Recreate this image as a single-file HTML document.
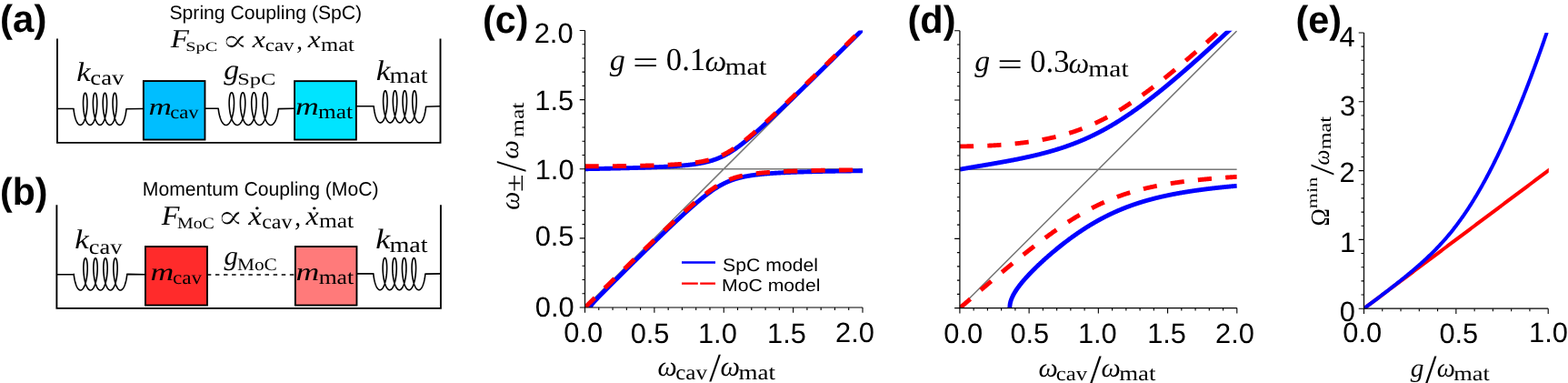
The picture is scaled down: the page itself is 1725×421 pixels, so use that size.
<!DOCTYPE html>
<html><head><meta charset="utf-8"><title>Figure</title>
<style>html,body{margin:0;padding:0;background:#fff;} svg{display:block;}</style>
</head><body><svg width="1725" height="421" viewBox="0 0 1725 421" text-rendering="geometricPrecision"><path d="M63 42.6 L63 156.85 L484.5 156.85 L484.5 42.6" fill="none" stroke="#000" stroke-width="1.9"/><path d="M63 119.5 L81 119.5 L81 119.8 L81.13 121.04 L81.29 122.28 L81.47 123.5 L81.67 124.71 L81.89 125.89 L82.14 127.04 L82.41 128.16 L82.69 129.23 L83 130.26 L83.32 131.23 L83.66 132.15 L84.02 133 L84.4 133.79 L84.78 134.51 L85.18 135.16 L85.59 135.72 L86.01 136.21 L86.44 136.62 L86.88 136.95 L87.32 137.18 L87.77 137.33 L88.21 137.4 L88.66 137.37 L89.1 137.26 L89.55 137.06 L89.99 136.78 L90.42 136.41 L90.84 135.95 L91.26 135.42 L91.66 134.81 L92.06 134.12 L92.44 133.36 L92.8 132.53 L93.15 131.65 L93.48 130.7 L93.8 129.69 L94.09 128.64 L94.37 127.54 L94.62 126.41 L94.85 125.24 L95.07 124.04 L95.26 122.83 L95.42 121.59 L95.57 120.35 L95.69 119.11 L95.78 117.87 L95.86 116.64 L95.91 115.42 L95.94 114.23 L95.95 113.06 L95.94 111.93 L95.9 110.84 L95.85 109.79 L95.78 108.8 L95.69 107.85 L95.58 106.97 L95.46 106.15 L95.32 105.4 L95.17 104.72 L95.01 104.12 L94.84 103.59 L94.65 103.15 L94.46 102.79 L94.27 102.51 L94.07 102.32 L93.87 102.22 L93.67 102.2 L93.46 102.28 L93.26 102.44 L93.07 102.69 L92.87 103.02 L92.69 103.44 L92.51 103.93 L92.35 104.51 L92.19 105.17 L92.05 105.89 L91.92 106.69 L91.81 107.55 L91.72 108.48 L91.64 109.45 L91.58 110.49 L91.54 111.56 L91.52 112.68 L91.52 113.84 L91.54 115.02 L91.59 116.23 L91.65 117.46 L91.75 118.69 L91.86 119.94 L91.99 121.18 L92.15 122.42 L92.33 123.64 L92.54 124.84 L92.76 126.02 L93.01 127.17 L93.28 128.28 L93.57 129.35 L93.88 130.37 L94.2 131.34 L94.55 132.25 L94.91 133.09 L95.28 133.87 L95.67 134.59 L96.07 135.22 L96.48 135.78 L96.91 136.26 L97.34 136.66 L97.77 136.98 L98.21 137.2 L98.66 137.35 L99.11 137.4 L99.55 137.37 L100 137.24 L100.44 137.03 L100.88 136.74 L101.31 136.36 L101.73 135.9 L102.15 135.35 L102.55 134.73 L102.94 134.04 L103.32 133.27 L103.69 132.44 L104.03 131.54 L104.36 130.59 L104.67 129.58 L104.97 128.52 L105.24 127.42 L105.49 126.28 L105.72 125.11 L105.93 123.91 L106.12 122.69 L106.28 121.46 L106.42 120.21 L106.54 118.97 L106.64 117.73 L106.71 116.5 L106.76 115.29 L106.79 114.1 L106.79 112.94 L106.78 111.81 L106.74 110.72 L106.69 109.68 L106.61 108.69 L106.52 107.75 L106.41 106.88 L106.29 106.06 L106.15 105.32 L106 104.65 L105.83 104.06 L105.66 103.54 L105.48 103.1 L105.29 102.75 L105.09 102.49 L104.89 102.31 L104.69 102.21 L104.49 102.21 L104.29 102.29 L104.09 102.46 L103.89 102.72 L103.7 103.06 L103.52 103.49 L103.34 103.99 L103.18 104.58 L103.02 105.24 L102.88 105.98 L102.76 106.78 L102.65 107.65 L102.55 108.58 L102.48 109.57 L102.42 110.6 L102.38 111.69 L102.36 112.81 L102.37 113.97 L102.39 115.16 L102.44 116.37 L102.51 117.59 L102.6 118.83 L102.72 120.08 L102.86 121.32 L103.02 122.55 L103.2 123.77 L103.41 124.98 L103.64 126.15 L103.89 127.29 L104.16 128.4 L104.45 129.46 L104.76 130.48 L105.09 131.44 L105.43 132.34 L105.79 133.18 L106.17 133.96 L106.56 134.66 L106.96 135.29 L107.38 135.84 L107.8 136.31 L108.23 136.7 L108.67 137.01 L109.11 137.22 L109.55 137.36 L110 137.4 L110.45 137.36 L110.89 137.22 L111.33 137.01 L111.77 136.7 L112.2 136.31 L112.62 135.84 L113.04 135.29 L113.44 134.66 L113.83 133.96 L114.21 133.18 L114.57 132.34 L114.91 131.44 L115.24 130.48 L115.55 129.46 L115.84 128.4 L116.11 127.29 L116.36 126.15 L116.59 124.98 L116.8 123.77 L116.98 122.55 L117.14 121.32 L117.28 120.08 L117.4 118.83 L117.49 117.59 L117.56 116.37 L117.61 115.16 L117.63 113.97 L117.64 112.81 L117.62 111.69 L117.58 110.6 L117.52 109.57 L117.45 108.58 L117.35 107.65 L117.24 106.78 L117.12 105.98 L116.98 105.24 L116.82 104.58 L116.66 103.99 L116.48 103.49 L116.3 103.06 L116.11 102.72 L115.91 102.46 L115.71 102.29 L115.51 102.21 L115.31 102.21 L115.11 102.31 L114.91 102.49 L114.71 102.75 L114.52 103.1 L114.34 103.54 L114.17 104.06 L114 104.65 L113.85 105.32 L113.71 106.06 L113.59 106.88 L113.48 107.75 L113.39 108.69 L113.31 109.68 L113.26 110.72 L113.22 111.81 L113.21 112.94 L113.21 114.1 L113.24 115.29 L113.29 116.5 L113.36 117.73 L113.46 118.97 L113.58 120.21 L113.72 121.46 L113.88 122.69 L114.07 123.91 L114.28 125.11 L114.51 126.28 L114.76 127.42 L115.03 128.52 L115.33 129.58 L115.64 130.59 L115.97 131.54 L116.31 132.44 L116.68 133.27 L117.06 134.04 L117.45 134.73 L117.85 135.35 L118.27 135.9 L118.69 136.36 L119.12 136.74 L119.56 137.03 L120 137.24 L120.45 137.37 L120.89 137.4 L121.34 137.35 L121.79 137.2 L122.23 136.98 L122.66 136.66 L123.09 136.26 L123.52 135.78 L123.93 135.22 L124.33 134.59 L124.72 133.87 L125.09 133.09 L125.45 132.25 L125.8 131.34 L126.12 130.37 L126.43 129.35 L126.72 128.28 L126.99 127.17 L127.24 126.02 L127.46 124.84 L127.67 123.64 L127.85 122.42 L128.01 121.18 L128.14 119.94 L128.25 118.69 L128.35 117.46 L128.41 116.23 L128.46 115.02 L128.48 113.84 L128.48 112.68 L128.46 111.56 L128.42 110.49 L128.36 109.45 L128.28 108.48 L128.19 107.55 L128.08 106.69 L127.95 105.89 L127.81 105.17 L127.65 104.51 L127.49 103.93 L127.31 103.44 L127.13 103.02 L126.93 102.69 L126.74 102.44 L126.54 102.28 L126.33 102.2 L126.13 102.22 L125.93 102.32 L125.73 102.51 L125.54 102.79 L125.35 103.15 L125.16 103.59 L124.99 104.12 L124.83 104.72 L124.68 105.4 L124.54 106.15 L124.42 106.97 L124.31 107.85 L124.22 108.8 L124.15 109.79 L124.1 110.84 L124.06 111.93 L124.05 113.06 L124.06 114.23 L124.09 115.42 L124.14 116.64 L124.22 117.87 L124.31 119.11 L124.43 120.35 L124.58 121.59 L124.74 122.83 L124.93 124.04 L125.15 125.24 L125.38 126.41 L125.63 127.54 L125.91 128.64 L126.2 129.69 L126.52 130.7 L126.85 131.65 L127.2 132.53 L127.56 133.36 L127.94 134.12 L128.34 134.81 L128.74 135.42 L129.16 135.95 L129.58 136.41 L130.01 136.78 L130.45 137.06 L130.9 137.26 L131.34 137.37 L131.79 137.4 L132.23 137.33 L132.68 137.18 L133.12 136.95 L133.56 136.62 L133.99 136.21 L134.41 135.72 L134.82 135.16 L135.22 134.51 L135.6 133.79 L135.98 133 L136.34 132.15 L136.68 131.23 L137 130.26 L137.31 129.23 L137.59 128.16 L137.86 127.04 L138.11 125.89 L138.33 124.71 L138.53 123.5 L138.71 122.28 L138.87 121.04 L139 119.8 L157 119.5" fill="none" stroke="#000" stroke-width="1.6" stroke-linejoin="round"/><path d="M226 119.2 L240.2 119.2 L240.2 119.6 L240.35 120.86 L240.53 122.12 L240.74 123.37 L240.97 124.59 L241.23 125.8 L241.51 126.97 L241.82 128.1 L242.15 129.19 L242.5 130.23 L242.88 131.23 L243.27 132.16 L243.69 133.03 L244.12 133.83 L244.57 134.56 L245.04 135.22 L245.51 135.8 L246 136.29 L246.5 136.71 L247.01 137.04 L247.52 137.28 L248.04 137.43 L248.56 137.5 L249.08 137.47 L249.59 137.36 L250.11 137.16 L250.62 136.87 L251.12 136.49 L251.62 136.03 L252.1 135.48 L252.57 134.86 L253.03 134.16 L253.47 133.39 L253.89 132.55 L254.29 131.65 L254.68 130.68 L255.04 129.66 L255.38 128.59 L255.7 127.47 L256 126.32 L256.27 125.13 L256.51 123.92 L256.73 122.68 L256.92 121.42 L257.08 120.16 L257.22 118.9 L257.33 117.64 L257.41 116.38 L257.47 115.15 L257.5 113.94 L257.5 112.75 L257.48 111.6 L257.44 110.49 L257.37 109.42 L257.28 108.41 L257.17 107.45 L257.04 106.55 L256.89 105.72 L256.72 104.96 L256.54 104.26 L256.35 103.65 L256.14 103.12 L255.92 102.67 L255.69 102.3 L255.46 102.02 L255.22 101.82 L254.98 101.72 L254.74 101.7 L254.49 101.78 L254.25 101.94 L254.02 102.19 L253.79 102.53 L253.57 102.96 L253.35 103.46 L253.16 104.05 L252.97 104.72 L252.8 105.46 L252.64 106.27 L252.51 107.14 L252.39 108.08 L252.29 109.08 L252.22 110.13 L252.16 111.22 L252.14 112.36 L252.13 113.54 L252.15 114.74 L252.2 115.97 L252.28 117.22 L252.38 118.48 L252.5 119.74 L252.66 121 L252.84 122.26 L253.05 123.5 L253.28 124.73 L253.54 125.93 L253.83 127.09 L254.14 128.22 L254.47 129.31 L254.83 130.35 L255.21 131.33 L255.61 132.26 L256.02 133.12 L256.46 133.91 L256.91 134.64 L257.38 135.29 L257.86 135.86 L258.35 136.34 L258.85 136.75 L259.35 137.07 L259.87 137.3 L260.38 137.44 L260.9 137.5 L261.42 137.46 L261.94 137.34 L262.46 137.13 L262.96 136.83 L263.47 136.44 L263.96 135.97 L264.44 135.42 L264.91 134.79 L265.36 134.08 L265.8 133.3 L266.22 132.45 L266.63 131.54 L267.01 130.57 L267.37 129.54 L267.71 128.47 L268.03 127.35 L268.32 126.19 L268.58 125 L268.82 123.78 L269.04 122.54 L269.23 121.28 L269.39 120.02 L269.52 118.76 L269.63 117.5 L269.71 116.25 L269.76 115.01 L269.79 113.8 L269.79 112.62 L269.77 111.47 L269.72 110.37 L269.65 109.31 L269.56 108.3 L269.44 107.35 L269.31 106.46 L269.16 105.63 L268.99 104.87 L268.81 104.19 L268.61 103.59 L268.4 103.06 L268.18 102.62 L267.96 102.26 L267.72 101.99 L267.48 101.81 L267.24 101.71 L267 101.71 L266.75 101.79 L266.52 101.97 L266.28 102.23 L266.05 102.58 L265.83 103.01 L265.62 103.53 L265.42 104.12 L265.24 104.8 L265.07 105.54 L264.92 106.36 L264.78 107.24 L264.67 108.19 L264.57 109.19 L264.5 110.25 L264.45 111.35 L264.42 112.49 L264.42 113.67 L264.45 114.88 L264.5 116.11 L264.57 117.36 L264.68 118.62 L264.81 119.88 L264.97 121.14 L265.15 122.4 L265.36 123.64 L265.6 124.86 L265.86 126.06 L266.15 127.22 L266.46 128.35 L266.8 129.43 L267.16 130.46 L267.54 131.44 L267.94 132.36 L268.36 133.21 L268.8 134 L269.25 134.71 L269.72 135.35 L270.2 135.91 L270.69 136.39 L271.19 136.79 L271.7 137.1 L272.21 137.32 L272.73 137.46 L273.25 137.5 L273.77 137.46 L274.29 137.32 L274.8 137.1 L275.31 136.79 L275.81 136.39 L276.3 135.91 L276.78 135.35 L277.25 134.71 L277.7 134 L278.14 133.21 L278.56 132.36 L278.96 131.44 L279.34 130.46 L279.7 129.43 L280.04 128.35 L280.35 127.22 L280.64 126.06 L280.9 124.86 L281.14 123.64 L281.35 122.4 L281.53 121.14 L281.69 119.88 L281.82 118.62 L281.93 117.36 L282 116.11 L282.05 114.88 L282.08 113.67 L282.08 112.49 L282.05 111.35 L282 110.25 L281.93 109.19 L281.83 108.19 L281.72 107.24 L281.58 106.36 L281.43 105.54 L281.26 104.8 L281.08 104.12 L280.88 103.53 L280.67 103.01 L280.45 102.58 L280.22 102.23 L279.98 101.97 L279.75 101.79 L279.5 101.71 L279.26 101.71 L279.02 101.81 L278.78 101.99 L278.54 102.26 L278.32 102.62 L278.1 103.06 L277.89 103.59 L277.69 104.19 L277.51 104.87 L277.34 105.63 L277.19 106.46 L277.06 107.35 L276.94 108.3 L276.85 109.31 L276.78 110.37 L276.73 111.47 L276.71 112.62 L276.71 113.8 L276.74 115.01 L276.79 116.25 L276.87 117.5 L276.98 118.76 L277.11 120.02 L277.27 121.28 L277.46 122.54 L277.68 123.78 L277.92 125 L278.18 126.19 L278.47 127.35 L278.79 128.47 L279.13 129.54 L279.49 130.57 L279.87 131.54 L280.28 132.45 L280.7 133.3 L281.14 134.08 L281.59 134.79 L282.06 135.42 L282.54 135.97 L283.03 136.44 L283.54 136.83 L284.04 137.13 L284.56 137.34 L285.08 137.46 L285.6 137.5 L286.12 137.44 L286.63 137.3 L287.15 137.07 L287.65 136.75 L288.15 136.34 L288.64 135.86 L289.12 135.29 L289.59 134.64 L290.04 133.91 L290.48 133.12 L290.89 132.26 L291.29 131.33 L291.67 130.35 L292.03 129.31 L292.36 128.22 L292.67 127.09 L292.96 125.93 L293.22 124.73 L293.45 123.5 L293.66 122.26 L293.84 121 L294 119.74 L294.12 118.48 L294.22 117.22 L294.3 115.97 L294.35 114.74 L294.37 113.54 L294.36 112.36 L294.34 111.22 L294.28 110.13 L294.21 109.08 L294.11 108.08 L293.99 107.14 L293.86 106.27 L293.7 105.46 L293.53 104.72 L293.34 104.05 L293.15 103.46 L292.93 102.96 L292.71 102.53 L292.48 102.19 L292.25 101.94 L292.01 101.78 L291.76 101.7 L291.52 101.72 L291.28 101.82 L291.04 102.02 L290.81 102.3 L290.58 102.67 L290.36 103.12 L290.15 103.65 L289.96 104.26 L289.78 104.96 L289.61 105.72 L289.46 106.55 L289.33 107.45 L289.22 108.41 L289.13 109.42 L289.06 110.49 L289.02 111.6 L289 112.75 L289 113.94 L289.03 115.15 L289.09 116.38 L289.17 117.64 L289.28 118.9 L289.42 120.16 L289.58 121.42 L289.77 122.68 L289.99 123.92 L290.23 125.13 L290.5 126.32 L290.8 127.47 L291.12 128.59 L291.46 129.66 L291.82 130.68 L292.21 131.65 L292.61 132.55 L293.03 133.39 L293.47 134.16 L293.93 134.86 L294.4 135.48 L294.88 136.03 L295.38 136.49 L295.88 136.87 L296.39 137.16 L296.91 137.36 L297.42 137.47 L297.94 137.5 L298.46 137.43 L298.98 137.28 L299.49 137.04 L300 136.71 L300.5 136.29 L300.99 135.8 L301.46 135.22 L301.93 134.56 L302.38 133.83 L302.81 133.03 L303.23 132.16 L303.62 131.23 L304 130.23 L304.35 129.19 L304.68 128.1 L304.99 126.97 L305.27 125.8 L305.53 124.59 L305.76 123.37 L305.97 122.12 L306.15 120.86 L306.3 119.6 L324 119.2" fill="none" stroke="#000" stroke-width="1.6" stroke-linejoin="round"/><path d="M392 116.8 L411.2 116.8 L411.2 117.3 L411.33 118.54 L411.49 119.78 L411.66 121 L411.86 122.21 L412.09 123.39 L412.33 124.54 L412.6 125.66 L412.88 126.73 L413.18 127.76 L413.51 128.73 L413.85 129.65 L414.2 130.5 L414.58 131.29 L414.96 132.01 L415.36 132.66 L415.77 133.22 L416.19 133.71 L416.62 134.12 L417.05 134.45 L417.49 134.68 L417.93 134.83 L418.38 134.9 L418.82 134.87 L419.27 134.76 L419.71 134.56 L420.15 134.28 L420.58 133.91 L421 133.45 L421.41 132.92 L421.82 132.31 L422.21 131.62 L422.59 130.86 L422.95 130.03 L423.3 129.15 L423.63 128.2 L423.94 127.19 L424.24 126.14 L424.51 125.04 L424.76 123.91 L424.99 122.74 L425.2 121.54 L425.39 120.33 L425.56 119.09 L425.7 117.85 L425.82 116.61 L425.92 115.37 L425.99 114.14 L426.04 112.92 L426.07 111.73 L426.07 110.56 L426.06 109.43 L426.03 108.34 L425.97 107.29 L425.9 106.3 L425.81 105.35 L425.7 104.47 L425.57 103.65 L425.43 102.9 L425.28 102.22 L425.12 101.62 L424.94 101.09 L424.76 100.65 L424.57 100.29 L424.37 100.01 L424.17 99.82 L423.97 99.72 L423.77 99.7 L423.56 99.78 L423.36 99.94 L423.16 100.19 L422.97 100.52 L422.78 100.94 L422.61 101.43 L422.44 102.01 L422.28 102.67 L422.14 103.39 L422.01 104.19 L421.9 105.05 L421.8 105.98 L421.72 106.95 L421.66 107.99 L421.62 109.06 L421.59 110.18 L421.59 111.34 L421.62 112.52 L421.66 113.73 L421.72 114.96 L421.81 116.19 L421.92 117.44 L422.06 118.68 L422.22 119.92 L422.4 121.14 L422.6 122.34 L422.82 123.52 L423.07 124.67 L423.34 125.78 L423.62 126.85 L423.93 127.87 L424.26 128.84 L424.6 129.75 L424.96 130.59 L425.33 131.37 L425.72 132.09 L426.12 132.72 L426.53 133.28 L426.95 133.76 L427.38 134.16 L427.81 134.48 L428.25 134.7 L428.69 134.85 L429.14 134.9 L429.58 134.87 L430.03 134.74 L430.47 134.53 L430.91 134.24 L431.34 133.86 L431.76 133.4 L432.17 132.85 L432.57 132.23 L432.96 131.54 L433.34 130.77 L433.7 129.94 L434.05 129.04 L434.38 128.09 L434.69 127.08 L434.98 126.02 L435.25 124.92 L435.5 123.78 L435.73 122.61 L435.94 121.41 L436.12 120.19 L436.29 118.96 L436.43 117.71 L436.54 116.47 L436.64 115.23 L436.71 114 L436.75 112.79 L436.78 111.6 L436.79 110.44 L436.77 109.31 L436.73 108.22 L436.67 107.18 L436.6 106.19 L436.51 105.25 L436.39 104.38 L436.27 103.56 L436.13 102.82 L435.98 102.15 L435.81 101.56 L435.64 101.04 L435.45 100.6 L435.26 100.25 L435.06 99.99 L434.86 99.81 L434.66 99.71 L434.45 99.71 L434.25 99.79 L434.05 99.96 L433.85 100.22 L433.66 100.56 L433.47 100.99 L433.3 101.49 L433.13 102.08 L432.98 102.74 L432.83 103.48 L432.71 104.28 L432.6 105.15 L432.5 106.08 L432.42 107.07 L432.36 108.1 L432.32 109.19 L432.3 110.31 L432.31 111.47 L432.33 112.66 L432.38 113.87 L432.44 115.09 L432.54 116.33 L432.65 117.58 L432.79 118.82 L432.95 120.05 L433.13 121.27 L433.33 122.48 L433.56 123.65 L433.81 124.79 L434.08 125.9 L434.37 126.96 L434.68 127.98 L435 128.94 L435.35 129.84 L435.71 130.68 L436.08 131.46 L436.47 132.16 L436.87 132.79 L437.28 133.34 L437.71 133.81 L438.13 134.2 L438.57 134.51 L439.01 134.72 L439.45 134.86 L439.9 134.9 L440.35 134.86 L440.79 134.72 L441.23 134.51 L441.67 134.2 L442.09 133.81 L442.52 133.34 L442.93 132.79 L443.33 132.16 L443.72 131.46 L444.09 130.68 L444.45 129.84 L444.8 128.94 L445.12 127.98 L445.43 126.96 L445.72 125.9 L445.99 124.79 L446.24 123.65 L446.47 122.48 L446.67 121.27 L446.85 120.05 L447.01 118.82 L447.15 117.58 L447.26 116.33 L447.36 115.09 L447.42 113.87 L447.47 112.66 L447.49 111.47 L447.5 110.31 L447.48 109.19 L447.44 108.1 L447.38 107.07 L447.3 106.08 L447.2 105.15 L447.09 104.28 L446.97 103.48 L446.82 102.74 L446.67 102.08 L446.5 101.49 L446.33 100.99 L446.14 100.56 L445.95 100.22 L445.75 99.96 L445.55 99.79 L445.35 99.71 L445.14 99.71 L444.94 99.81 L444.74 99.99 L444.54 100.25 L444.35 100.6 L444.16 101.04 L443.99 101.56 L443.82 102.15 L443.67 102.82 L443.53 103.56 L443.41 104.38 L443.29 105.25 L443.2 106.19 L443.13 107.18 L443.07 108.22 L443.03 109.31 L443.01 110.44 L443.02 111.6 L443.05 112.79 L443.09 114 L443.16 115.23 L443.26 116.47 L443.37 117.71 L443.51 118.96 L443.68 120.19 L443.86 121.41 L444.07 122.61 L444.3 123.78 L444.55 124.92 L444.82 126.02 L445.11 127.08 L445.42 128.09 L445.75 129.04 L446.1 129.94 L446.46 130.77 L446.84 131.54 L447.23 132.23 L447.63 132.85 L448.04 133.4 L448.46 133.86 L448.89 134.24 L449.33 134.53 L449.77 134.74 L450.22 134.87 L450.66 134.9 L451.11 134.85 L451.55 134.7 L451.99 134.48 L452.42 134.16 L452.85 133.76 L453.27 133.28 L453.68 132.72 L454.08 132.09 L454.47 131.37 L454.84 130.59 L455.2 129.75 L455.54 128.84 L455.87 127.87 L456.18 126.85 L456.46 125.78 L456.73 124.67 L456.98 123.52 L457.2 122.34 L457.4 121.14 L457.58 119.92 L457.74 118.68 L457.88 117.44 L457.99 116.19 L458.08 114.96 L458.14 113.73 L458.18 112.52 L458.21 111.34 L458.21 110.18 L458.18 109.06 L458.14 107.99 L458.08 106.95 L458 105.98 L457.9 105.05 L457.79 104.19 L457.66 103.39 L457.52 102.67 L457.36 102.01 L457.19 101.43 L457.02 100.94 L456.83 100.52 L456.64 100.19 L456.44 99.94 L456.24 99.78 L456.03 99.7 L455.83 99.72 L455.63 99.82 L455.43 100.01 L455.23 100.29 L455.04 100.65 L454.86 101.09 L454.68 101.62 L454.52 102.22 L454.37 102.9 L454.23 103.65 L454.1 104.47 L453.99 105.35 L453.9 106.3 L453.83 107.29 L453.77 108.34 L453.74 109.43 L453.73 110.56 L453.73 111.73 L453.76 112.92 L453.81 114.14 L453.88 115.37 L453.98 116.61 L454.1 117.85 L454.24 119.09 L454.41 120.33 L454.6 121.54 L454.81 122.74 L455.04 123.91 L455.29 125.04 L455.56 126.14 L455.86 127.19 L456.17 128.2 L456.5 129.15 L456.85 130.03 L457.21 130.86 L457.59 131.62 L457.98 132.31 L458.39 132.92 L458.8 133.45 L459.22 133.91 L459.65 134.28 L460.09 134.56 L460.53 134.76 L460.98 134.87 L461.42 134.9 L461.87 134.83 L462.31 134.68 L462.75 134.45 L463.18 134.12 L463.61 133.71 L464.03 133.22 L464.44 132.66 L464.84 132.01 L465.22 131.29 L465.6 130.5 L465.95 129.65 L466.29 128.73 L466.62 127.76 L466.92 126.73 L467.2 125.66 L467.47 124.54 L467.71 123.39 L467.94 122.21 L468.14 121 L468.31 119.78 L468.47 118.54 L468.6 117.3 L484.5 116.8" fill="none" stroke="#000" stroke-width="1.6" stroke-linejoin="round"/><rect x="157.85" y="89.05" width="67.6" height="64.5" fill="#00BEFF" stroke="#000" stroke-width="1.9"/><rect x="324.05" y="89.15" width="67.8" height="64.4" fill="#00E4FF" stroke="#000" stroke-width="1.9"/><path d="M62.4 225.2 L62.4 338.85 L484.9 338.85 L484.9 225.2" fill="none" stroke="#000" stroke-width="1.9"/><path d="M62.4 301.8 L81.2 301.8 L81.2 301.4 L81.33 302.64 L81.49 303.88 L81.67 305.1 L81.88 306.31 L82.1 307.49 L82.35 308.64 L82.62 309.76 L82.9 310.83 L83.21 311.86 L83.54 312.83 L83.88 313.75 L84.24 314.6 L84.61 315.39 L85 316.11 L85.4 316.76 L85.82 317.32 L86.24 317.81 L86.67 318.22 L87.11 318.55 L87.55 318.78 L88 318.93 L88.44 319 L88.89 318.97 L89.34 318.86 L89.78 318.66 L90.22 318.38 L90.66 318.01 L91.08 317.55 L91.5 317.02 L91.91 316.41 L92.3 315.72 L92.68 314.96 L93.05 314.13 L93.4 313.25 L93.73 312.3 L94.05 311.29 L94.35 310.24 L94.62 309.14 L94.88 308.01 L95.11 306.84 L95.33 305.64 L95.52 304.43 L95.69 303.19 L95.83 301.95 L95.95 300.71 L96.05 299.47 L96.13 298.24 L96.18 297.02 L96.22 295.83 L96.22 294.66 L96.21 293.53 L96.18 292.44 L96.13 291.39 L96.06 290.4 L95.97 289.45 L95.86 288.57 L95.74 287.75 L95.61 287 L95.46 286.32 L95.3 285.72 L95.13 285.19 L94.95 284.75 L94.76 284.39 L94.57 284.11 L94.37 283.92 L94.17 283.82 L93.97 283.8 L93.77 283.88 L93.57 284.04 L93.37 284.29 L93.18 284.62 L93 285.04 L92.82 285.53 L92.66 286.11 L92.51 286.77 L92.37 287.49 L92.24 288.29 L92.13 289.15 L92.04 290.08 L91.96 291.05 L91.9 292.09 L91.86 293.16 L91.84 294.28 L91.85 295.44 L91.87 296.62 L91.92 297.83 L91.99 299.06 L92.08 300.29 L92.19 301.54 L92.33 302.78 L92.49 304.02 L92.67 305.24 L92.88 306.44 L93.11 307.62 L93.36 308.77 L93.62 309.88 L93.92 310.95 L94.22 311.97 L94.55 312.94 L94.9 313.85 L95.26 314.69 L95.64 315.47 L96.03 316.19 L96.43 316.82 L96.84 317.38 L97.27 317.86 L97.7 318.26 L98.13 318.58 L98.58 318.8 L99.02 318.95 L99.47 319 L99.92 318.97 L100.37 318.84 L100.81 318.63 L101.25 318.34 L101.68 317.96 L102.11 317.5 L102.53 316.95 L102.93 316.33 L103.32 315.64 L103.7 314.87 L104.07 314.04 L104.42 313.14 L104.75 312.19 L105.06 311.18 L105.36 310.12 L105.63 309.02 L105.88 307.88 L106.12 306.71 L106.33 305.51 L106.52 304.29 L106.68 303.06 L106.82 301.81 L106.94 300.57 L107.04 299.33 L107.11 298.1 L107.17 296.89 L107.19 295.7 L107.2 294.54 L107.19 293.41 L107.15 292.32 L107.1 291.28 L107.03 290.29 L106.94 289.35 L106.83 288.48 L106.71 287.66 L106.57 286.92 L106.42 286.25 L106.26 285.66 L106.09 285.14 L105.9 284.7 L105.72 284.35 L105.52 284.09 L105.32 283.91 L105.12 283.81 L104.92 283.81 L104.72 283.89 L104.52 284.06 L104.33 284.32 L104.14 284.66 L103.96 285.09 L103.78 285.59 L103.62 286.18 L103.47 286.84 L103.33 287.58 L103.21 288.38 L103.1 289.25 L103 290.18 L102.93 291.17 L102.87 292.2 L102.84 293.29 L102.82 294.41 L102.83 295.57 L102.85 296.76 L102.9 297.97 L102.97 299.19 L103.07 300.43 L103.18 301.68 L103.32 302.92 L103.49 304.15 L103.67 305.37 L103.88 306.58 L104.11 307.75 L104.36 308.89 L104.63 310 L104.93 311.06 L105.24 312.08 L105.57 313.04 L105.91 313.94 L106.28 314.78 L106.66 315.56 L107.05 316.26 L107.45 316.89 L107.87 317.44 L108.29 317.91 L108.72 318.3 L109.16 318.61 L109.6 318.82 L110.05 318.96 L110.5 319 L110.95 318.96 L111.4 318.82 L111.84 318.61 L112.28 318.3 L112.71 317.91 L113.13 317.44 L113.55 316.89 L113.95 316.26 L114.34 315.56 L114.72 314.78 L115.09 313.94 L115.43 313.04 L115.76 312.08 L116.07 311.06 L116.37 310 L116.64 308.89 L116.89 307.75 L117.12 306.58 L117.33 305.37 L117.51 304.15 L117.68 302.92 L117.82 301.68 L117.93 300.43 L118.03 299.19 L118.1 297.97 L118.15 296.76 L118.17 295.57 L118.18 294.41 L118.16 293.29 L118.13 292.2 L118.07 291.17 L118 290.18 L117.9 289.25 L117.79 288.38 L117.67 287.58 L117.53 286.84 L117.38 286.18 L117.22 285.59 L117.04 285.09 L116.86 284.66 L116.67 284.32 L116.48 284.06 L116.28 283.89 L116.08 283.81 L115.88 283.81 L115.68 283.91 L115.48 284.09 L115.28 284.35 L115.1 284.7 L114.91 285.14 L114.74 285.66 L114.58 286.25 L114.43 286.92 L114.29 287.66 L114.17 288.48 L114.06 289.35 L113.97 290.29 L113.9 291.28 L113.85 292.32 L113.81 293.41 L113.8 294.54 L113.81 295.7 L113.83 296.89 L113.89 298.1 L113.96 299.33 L114.06 300.57 L114.18 301.81 L114.32 303.06 L114.48 304.29 L114.67 305.51 L114.88 306.71 L115.12 307.88 L115.37 309.02 L115.64 310.12 L115.94 311.18 L116.25 312.19 L116.58 313.14 L116.93 314.04 L117.3 314.87 L117.68 315.64 L118.07 316.33 L118.47 316.95 L118.89 317.5 L119.32 317.96 L119.75 318.34 L120.19 318.63 L120.63 318.84 L121.08 318.97 L121.53 319 L121.98 318.95 L122.42 318.8 L122.87 318.58 L123.3 318.26 L123.73 317.86 L124.16 317.38 L124.57 316.82 L124.97 316.19 L125.36 315.47 L125.74 314.69 L126.1 313.85 L126.45 312.94 L126.78 311.97 L127.08 310.95 L127.38 309.88 L127.64 308.77 L127.89 307.62 L128.12 306.44 L128.33 305.24 L128.51 304.02 L128.67 302.78 L128.81 301.54 L128.92 300.29 L129.01 299.06 L129.08 297.83 L129.13 296.62 L129.15 295.44 L129.16 294.28 L129.14 293.16 L129.1 292.09 L129.04 291.05 L128.96 290.08 L128.87 289.15 L128.76 288.29 L128.63 287.49 L128.49 286.77 L128.34 286.11 L128.18 285.53 L128 285.04 L127.82 284.62 L127.63 284.29 L127.43 284.04 L127.23 283.88 L127.03 283.8 L126.83 283.82 L126.63 283.92 L126.43 284.11 L126.24 284.39 L126.05 284.75 L125.87 285.19 L125.7 285.72 L125.54 286.32 L125.39 287 L125.26 287.75 L125.14 288.57 L125.03 289.45 L124.94 290.4 L124.87 291.39 L124.82 292.44 L124.79 293.53 L124.78 294.66 L124.78 295.83 L124.82 297.02 L124.87 298.24 L124.95 299.47 L125.05 300.71 L125.17 301.95 L125.31 303.19 L125.48 304.43 L125.67 305.64 L125.89 306.84 L126.12 308.01 L126.38 309.14 L126.65 310.24 L126.95 311.29 L127.27 312.3 L127.6 313.25 L127.95 314.13 L128.32 314.96 L128.7 315.72 L129.09 316.41 L129.5 317.02 L129.92 317.55 L130.34 318.01 L130.78 318.38 L131.22 318.66 L131.66 318.86 L132.11 318.97 L132.56 319 L133 318.93 L133.45 318.78 L133.89 318.55 L134.33 318.22 L134.76 317.81 L135.18 317.32 L135.6 316.76 L136 316.11 L136.39 315.39 L136.76 314.6 L137.12 313.75 L137.46 312.83 L137.79 311.86 L138.1 310.83 L138.38 309.76 L138.65 308.64 L138.9 307.49 L139.12 306.31 L139.33 305.1 L139.51 303.88 L139.67 302.64 L139.8 301.4 L160 301.8" fill="none" stroke="#000" stroke-width="1.6" stroke-linejoin="round"/><path d="M392 300.9 L410.8 300.9 L410.8 301.1 L410.93 302.34 L411.09 303.58 L411.26 304.8 L411.46 306.01 L411.68 307.19 L411.93 308.34 L412.19 309.46 L412.47 310.53 L412.78 311.56 L413.1 312.53 L413.44 313.45 L413.79 314.3 L414.17 315.09 L414.55 315.81 L414.95 316.46 L415.36 317.02 L415.78 317.51 L416.2 317.92 L416.64 318.25 L417.08 318.48 L417.52 318.63 L417.96 318.7 L418.41 318.67 L418.85 318.56 L419.29 318.36 L419.73 318.08 L420.16 317.71 L420.58 317.25 L420.99 316.72 L421.4 316.11 L421.79 315.42 L422.16 314.66 L422.53 313.83 L422.87 312.95 L423.2 312 L423.52 310.99 L423.81 309.94 L424.08 308.84 L424.33 307.71 L424.56 306.54 L424.77 305.34 L424.96 304.13 L425.13 302.89 L425.27 301.65 L425.39 300.41 L425.48 299.17 L425.55 297.94 L425.6 296.72 L425.63 295.53 L425.64 294.36 L425.62 293.23 L425.59 292.14 L425.53 291.09 L425.46 290.1 L425.36 289.15 L425.25 288.27 L425.13 287.45 L424.99 286.7 L424.84 286.02 L424.67 285.42 L424.5 284.89 L424.31 284.45 L424.12 284.09 L423.93 283.81 L423.72 283.62 L423.52 283.52 L423.31 283.5 L423.11 283.58 L422.91 283.74 L422.71 283.99 L422.52 284.32 L422.33 284.74 L422.15 285.23 L421.98 285.81 L421.83 286.47 L421.68 287.19 L421.55 287.99 L421.44 288.85 L421.34 289.78 L421.26 290.75 L421.2 291.79 L421.15 292.86 L421.13 293.98 L421.13 295.14 L421.15 296.32 L421.19 297.53 L421.26 298.76 L421.35 299.99 L421.46 301.24 L421.59 302.48 L421.75 303.72 L421.93 304.94 L422.13 306.14 L422.35 307.32 L422.6 308.47 L422.86 309.58 L423.15 310.65 L423.46 311.67 L423.78 312.64 L424.12 313.55 L424.48 314.39 L424.85 315.17 L425.24 315.89 L425.64 316.52 L426.05 317.08 L426.47 317.56 L426.9 317.96 L427.33 318.28 L427.77 318.5 L428.21 318.65 L428.66 318.7 L429.1 318.67 L429.54 318.54 L429.98 318.33 L430.42 318.04 L430.85 317.66 L431.27 317.2 L431.68 316.65 L432.08 316.03 L432.47 315.34 L432.85 314.57 L433.21 313.74 L433.56 312.84 L433.88 311.89 L434.19 310.88 L434.48 309.82 L434.75 308.72 L435 307.58 L435.23 306.41 L435.44 305.21 L435.62 303.99 L435.79 302.76 L435.93 301.51 L436.04 300.27 L436.13 299.03 L436.2 297.8 L436.25 296.59 L436.28 295.4 L436.28 294.24 L436.26 293.11 L436.23 292.02 L436.17 290.98 L436.09 289.99 L436 289.05 L435.89 288.18 L435.76 287.36 L435.62 286.62 L435.46 285.95 L435.3 285.36 L435.12 284.84 L434.94 284.4 L434.75 284.05 L434.55 283.79 L434.35 283.61 L434.14 283.51 L433.94 283.51 L433.73 283.59 L433.53 283.76 L433.33 284.02 L433.14 284.36 L432.95 284.79 L432.78 285.29 L432.61 285.88 L432.45 286.54 L432.31 287.28 L432.18 288.08 L432.07 288.95 L431.97 289.88 L431.9 290.87 L431.84 291.9 L431.8 292.99 L431.78 294.11 L431.78 295.27 L431.8 296.46 L431.84 297.67 L431.91 298.89 L432 300.13 L432.12 301.38 L432.25 302.62 L432.41 303.85 L432.59 305.07 L432.8 306.28 L433.02 307.45 L433.27 308.59 L433.54 309.7 L433.83 310.76 L434.14 311.78 L434.46 312.74 L434.81 313.64 L435.17 314.48 L435.54 315.26 L435.93 315.96 L436.33 316.59 L436.74 317.14 L437.16 317.61 L437.59 318 L438.02 318.31 L438.46 318.52 L438.91 318.66 L439.35 318.7 L439.79 318.66 L440.24 318.52 L440.68 318.31 L441.11 318 L441.54 317.61 L441.96 317.14 L442.37 316.59 L442.77 315.96 L443.16 315.26 L443.53 314.48 L443.89 313.64 L444.24 312.74 L444.56 311.78 L444.87 310.76 L445.16 309.7 L445.43 308.59 L445.68 307.45 L445.9 306.28 L446.11 305.07 L446.29 303.85 L446.45 302.62 L446.58 301.38 L446.7 300.13 L446.79 298.89 L446.86 297.67 L446.9 296.46 L446.92 295.27 L446.92 294.11 L446.9 292.99 L446.86 291.9 L446.8 290.87 L446.73 289.88 L446.63 288.95 L446.52 288.08 L446.39 287.28 L446.25 286.54 L446.09 285.88 L445.92 285.29 L445.75 284.79 L445.56 284.36 L445.37 284.02 L445.17 283.76 L444.97 283.59 L444.76 283.51 L444.56 283.51 L444.35 283.61 L444.15 283.79 L443.95 284.05 L443.76 284.4 L443.58 284.84 L443.4 285.36 L443.24 285.95 L443.08 286.62 L442.94 287.36 L442.81 288.18 L442.7 289.05 L442.61 289.99 L442.53 290.98 L442.47 292.02 L442.44 293.11 L442.42 294.24 L442.42 295.4 L442.45 296.59 L442.5 297.8 L442.57 299.03 L442.66 300.27 L442.77 301.51 L442.91 302.76 L443.08 303.99 L443.26 305.21 L443.47 306.41 L443.7 307.58 L443.95 308.72 L444.22 309.82 L444.51 310.88 L444.82 311.89 L445.14 312.84 L445.49 313.74 L445.85 314.57 L446.23 315.34 L446.62 316.03 L447.02 316.65 L447.43 317.2 L447.85 317.66 L448.28 318.04 L448.72 318.33 L449.16 318.54 L449.6 318.67 L450.04 318.7 L450.49 318.65 L450.93 318.5 L451.37 318.28 L451.8 317.96 L452.23 317.56 L452.65 317.08 L453.06 316.52 L453.46 315.89 L453.85 315.17 L454.22 314.39 L454.58 313.55 L454.92 312.64 L455.24 311.67 L455.55 310.65 L455.84 309.58 L456.1 308.47 L456.35 307.32 L456.57 306.14 L456.77 304.94 L456.95 303.72 L457.11 302.48 L457.24 301.24 L457.35 299.99 L457.44 298.76 L457.51 297.53 L457.55 296.32 L457.57 295.14 L457.57 293.98 L457.55 292.86 L457.5 291.79 L457.44 290.75 L457.36 289.78 L457.26 288.85 L457.15 287.99 L457.02 287.19 L456.87 286.47 L456.72 285.81 L456.55 285.23 L456.37 284.74 L456.18 284.32 L455.99 283.99 L455.79 283.74 L455.59 283.58 L455.39 283.5 L455.18 283.52 L454.98 283.62 L454.77 283.81 L454.58 284.09 L454.39 284.45 L454.2 284.89 L454.03 285.42 L453.86 286.02 L453.71 286.7 L453.57 287.45 L453.45 288.27 L453.34 289.15 L453.24 290.1 L453.17 291.09 L453.11 292.14 L453.08 293.23 L453.06 294.36 L453.07 295.53 L453.1 296.72 L453.15 297.94 L453.22 299.17 L453.31 300.41 L453.43 301.65 L453.57 302.89 L453.74 304.13 L453.93 305.34 L454.14 306.54 L454.37 307.71 L454.62 308.84 L454.89 309.94 L455.18 310.99 L455.5 312 L455.83 312.95 L456.17 313.83 L456.54 314.66 L456.91 315.42 L457.3 316.11 L457.71 316.72 L458.12 317.25 L458.54 317.71 L458.97 318.08 L459.41 318.36 L459.85 318.56 L460.29 318.67 L460.74 318.7 L461.18 318.63 L461.62 318.48 L462.06 318.25 L462.5 317.92 L462.92 317.51 L463.34 317.02 L463.75 316.46 L464.15 315.81 L464.53 315.09 L464.91 314.3 L465.26 313.45 L465.6 312.53 L465.92 311.56 L466.23 310.53 L466.51 309.46 L466.77 308.34 L467.02 307.19 L467.24 306.01 L467.44 304.8 L467.61 303.58 L467.77 302.34 L467.9 301.1 L484.9 300.9" fill="none" stroke="#000" stroke-width="1.6" stroke-linejoin="round"/><path d="M227.8 302 L324 302" stroke="#000" stroke-width="1.7" stroke-dasharray="4.5 4.6"/><rect x="159.95" y="271.05" width="68" height="64.5" fill="#FF2B2B" stroke="#000" stroke-width="1.9"/><rect x="324.85" y="271.05" width="67.6" height="64.5" fill="#FF7A7A" stroke="#000" stroke-width="1.9"/><clipPath id="clipc"><rect x="643.5" y="33.5" width="305.5" height="304.5"/></clipPath><g clip-path="url(#clipc)"><path d="M643.5 185.75 L949 185.75 M643.5 338 L949 33.5" stroke="#787878" stroke-width="1.5" fill="none"/><path d="M643.50 185.75 L643.88 185.74 L644.26 185.73 L644.65 185.73 L645.03 185.72 L645.41 185.71 L645.79 185.70 L646.17 185.70 L646.55 185.69 L646.94 185.68 L647.32 185.67 L647.70 185.67 L648.08 185.66 L648.46 185.65 L648.85 185.64 L649.23 185.64 L649.61 185.63 L649.99 185.62 L650.37 185.61 L650.76 185.61 L651.14 185.60 L651.52 185.59 L651.90 185.58 L652.28 185.57 L652.66 185.57 L653.05 185.56 L653.43 185.55 L653.81 185.54 L654.19 185.54 L654.57 185.53 L654.96 185.52 L655.34 185.51 L655.72 185.51 L656.10 185.50 L656.48 185.49 L656.87 185.48 L657.25 185.47 L657.63 185.47 L658.01 185.46 L658.39 185.45 L658.77 185.44 L659.16 185.44 L659.54 185.43 L659.92 185.42 L660.30 185.41 L660.68 185.41 L661.07 185.40 L661.45 185.39 L661.83 185.38 L662.21 185.37 L662.59 185.37 L662.98 185.36 L663.36 185.35 L663.74 185.34 L664.12 185.33 L664.50 185.33 L664.88 185.32 L665.27 185.31 L665.65 185.30 L666.03 185.29 L666.41 185.29 L666.79 185.28 L667.18 185.27 L667.56 185.26 L667.94 185.25 L668.32 185.25 L668.70 185.24 L669.09 185.23 L669.47 185.22 L669.85 185.21 L670.23 185.21 L670.61 185.20 L671.00 185.19 L671.38 185.18 L671.76 185.17 L672.14 185.16 L672.52 185.16 L672.90 185.15 L673.29 185.14 L673.67 185.13 L674.05 185.12 L674.43 185.11 L674.81 185.11 L675.20 185.10 L675.58 185.09 L675.96 185.08 L676.34 185.07 L676.72 185.06 L677.11 185.05 L677.49 185.05 L677.87 185.04 L678.25 185.03 L678.63 185.02 L679.01 185.01 L679.40 185.00 L679.78 184.99 L680.16 184.98 L680.54 184.98 L680.92 184.97 L681.31 184.96 L681.69 184.95 L682.07 184.94 L682.45 184.93 L682.83 184.92 L683.22 184.91 L683.60 184.90 L683.98 184.89 L684.36 184.89 L684.74 184.88 L685.12 184.87 L685.51 184.86 L685.89 184.85 L686.27 184.84 L686.65 184.83 L687.03 184.82 L687.42 184.81 L687.80 184.80 L688.18 184.79 L688.56 184.78 L688.94 184.77 L689.33 184.76 L689.71 184.75 L690.09 184.74 L690.47 184.73 L690.85 184.72 L691.23 184.71 L691.62 184.70 L692.00 184.69 L692.38 184.68 L692.76 184.67 L693.14 184.66 L693.53 184.65 L693.91 184.64 L694.29 184.63 L694.67 184.62 L695.05 184.61 L695.43 184.60 L695.82 184.59 L696.20 184.58 L696.58 184.57 L696.96 184.56 L697.34 184.55 L697.73 184.54 L698.11 184.53 L698.49 184.52 L698.87 184.51 L699.25 184.50 L699.64 184.49 L700.02 184.47 L700.40 184.46 L700.78 184.45 L701.16 184.44 L701.54 184.43 L701.93 184.42 L702.31 184.41 L702.69 184.40 L703.07 184.38 L703.45 184.37 L703.84 184.36 L704.22 184.35 L704.60 184.34 L704.98 184.33 L705.36 184.31 L705.75 184.30 L706.13 184.29 L706.51 184.28 L706.89 184.27 L707.27 184.25 L707.65 184.24 L708.04 184.23 L708.42 184.22 L708.80 184.20 L709.18 184.19 L709.56 184.18 L709.95 184.17 L710.33 184.15 L710.71 184.14 L711.09 184.13 L711.47 184.11 L711.86 184.10 L712.24 184.09 L712.62 184.07 L713.00 184.06 L713.38 184.05 L713.76 184.03 L714.15 184.02 L714.53 184.01 L714.91 183.99 L715.29 183.98 L715.67 183.96 L716.06 183.95 L716.44 183.93 L716.82 183.92 L717.20 183.91 L717.58 183.89 L717.97 183.88 L718.35 183.86 L718.73 183.85 L719.11 183.83 L719.49 183.82 L719.88 183.80 L720.26 183.78 L720.64 183.77 L721.02 183.75 L721.40 183.74 L721.78 183.72 L722.17 183.71 L722.55 183.69 L722.93 183.67 L723.31 183.66 L723.69 183.64 L724.08 183.62 L724.46 183.61 L724.84 183.59 L725.22 183.57 L725.60 183.55 L725.99 183.54 L726.37 183.52 L726.75 183.50 L727.13 183.48 L727.51 183.47 L727.89 183.45 L728.28 183.43 L728.66 183.41 L729.04 183.39 L729.42 183.37 L729.80 183.35 L730.19 183.34 L730.57 183.32 L730.95 183.30 L731.33 183.28 L731.71 183.26 L732.10 183.24 L732.48 183.22 L732.86 183.20 L733.24 183.18 L733.62 183.15 L734.00 183.13 L734.39 183.11 L734.77 183.09 L735.15 183.07 L735.53 183.05 L735.91 183.03 L736.30 183.00 L736.68 182.98 L737.06 182.96 L737.44 182.93 L737.82 182.91 L738.21 182.89 L738.59 182.86 L738.97 182.84 L739.35 182.82 L739.73 182.79 L740.11 182.77 L740.50 182.74 L740.88 182.72 L741.26 182.69 L741.64 182.67 L742.02 182.64 L742.41 182.61 L742.79 182.59 L743.17 182.56 L743.55 182.53 L743.93 182.51 L744.32 182.48 L744.70 182.45 L745.08 182.42 L745.46 182.39 L745.84 182.36 L746.22 182.34 L746.61 182.31 L746.99 182.28 L747.37 182.25 L747.75 182.22 L748.13 182.18 L748.52 182.15 L748.90 182.12 L749.28 182.09 L749.66 182.06 L750.04 182.02 L750.42 181.99 L750.81 181.96 L751.19 181.92 L751.57 181.89 L751.95 181.85 L752.33 181.82 L752.72 181.78 L753.10 181.75 L753.48 181.71 L753.86 181.67 L754.24 181.63 L754.63 181.60 L755.01 181.56 L755.39 181.52 L755.77 181.48 L756.15 181.44 L756.53 181.40 L756.92 181.36 L757.30 181.31 L757.68 181.27 L758.06 181.23 L758.44 181.19 L758.83 181.14 L759.21 181.10 L759.59 181.05 L759.97 181.01 L760.35 180.96 L760.74 180.91 L761.12 180.86 L761.50 180.82 L761.88 180.77 L762.26 180.72 L762.64 180.67 L763.03 180.61 L763.41 180.56 L763.79 180.51 L764.17 180.46 L764.55 180.40 L764.94 180.35 L765.32 180.29 L765.70 180.23 L766.08 180.18 L766.46 180.12 L766.85 180.06 L767.23 180.00 L767.61 179.94 L767.99 179.88 L768.37 179.81 L768.75 179.75 L769.14 179.68 L769.52 179.62 L769.90 179.55 L770.28 179.48 L770.66 179.41 L771.05 179.34 L771.43 179.27 L771.81 179.20 L772.19 179.13 L772.57 179.05 L772.96 178.98 L773.34 178.90 L773.72 178.82 L774.10 178.74 L774.48 178.66 L774.87 178.58 L775.25 178.50 L775.63 178.41 L776.01 178.33 L776.39 178.24 L776.77 178.15 L777.16 178.06 L777.54 177.97 L777.92 177.88 L778.30 177.78 L778.68 177.69 L779.07 177.59 L779.45 177.49 L779.83 177.39 L780.21 177.29 L780.59 177.18 L780.98 177.08 L781.36 176.97 L781.74 176.86 L782.12 176.75 L782.50 176.64 L782.88 176.52 L783.27 176.41 L783.65 176.29 L784.03 176.17 L784.41 176.05 L784.79 175.92 L785.18 175.80 L785.56 175.67 L785.94 175.54 L786.32 175.41 L786.70 175.27 L787.09 175.14 L787.47 175.00 L787.85 174.86 L788.23 174.72 L788.61 174.57 L788.99 174.43 L789.38 174.28 L789.76 174.13 L790.14 173.98 L790.52 173.82 L790.90 173.66 L791.29 173.50 L791.67 173.34 L792.05 173.18 L792.43 173.01 L792.81 172.84 L793.19 172.67 L793.58 172.50 L793.96 172.32 L794.34 172.14 L794.72 171.96 L795.10 171.78 L795.49 171.60 L795.87 171.41 L796.25 171.22 L796.63 171.03 L797.01 170.83 L797.40 170.63 L797.78 170.44 L798.16 170.23 L798.54 170.03 L798.92 169.82 L799.31 169.61 L799.69 169.40 L800.07 169.19 L800.45 168.97 L800.83 168.76 L801.21 168.54 L801.60 168.31 L801.98 168.09 L802.36 167.86 L802.74 167.63 L803.12 167.40 L803.51 167.17 L803.89 166.93 L804.27 166.69 L804.65 166.45 L805.03 166.21 L805.41 165.97 L805.80 165.72 L806.18 165.47 L806.56 165.22 L806.94 164.97 L807.32 164.71 L807.71 164.46 L808.09 164.20 L808.47 163.94 L808.85 163.67 L809.23 163.41 L809.62 163.14 L810.00 162.88 L810.38 162.61 L810.76 162.33 L811.14 162.06 L811.52 161.79 L811.91 161.51 L812.29 161.23 L812.67 160.95 L813.05 160.67 L813.43 160.39 L813.82 160.10 L814.20 159.81 L814.58 159.53 L814.96 159.24 L815.34 158.95 L815.73 158.65 L816.11 158.36 L816.49 158.07 L816.87 157.77 L817.25 157.47 L817.63 157.17 L818.02 156.87 L818.40 156.57 L818.78 156.27 L819.16 155.96 L819.54 155.66 L819.93 155.35 L820.31 155.04 L820.69 154.73 L821.07 154.42 L821.45 154.11 L821.84 153.80 L822.22 153.49 L822.60 153.17 L822.98 152.86 L823.36 152.54 L823.75 152.22 L824.13 151.90 L824.51 151.58 L824.89 151.26 L825.27 150.94 L825.65 150.62 L826.04 150.30 L826.42 149.97 L826.80 149.65 L827.18 149.32 L827.56 149.00 L827.95 148.67 L828.33 148.34 L828.71 148.01 L829.09 147.68 L829.47 147.35 L829.86 147.02 L830.24 146.69 L830.62 146.35 L831.00 146.02 L831.38 145.69 L831.76 145.35 L832.15 145.02 L832.53 144.68 L832.91 144.34 L833.29 144.01 L833.67 143.67 L834.06 143.33 L834.44 142.99 L834.82 142.65 L835.20 142.31 L835.58 141.97 L835.97 141.63 L836.35 141.29 L836.73 140.95 L837.11 140.60 L837.49 140.26 L837.87 139.92 L838.26 139.57 L838.64 139.23 L839.02 138.88 L839.40 138.53 L839.78 138.19 L840.17 137.84 L840.55 137.49 L840.93 137.15 L841.31 136.80 L841.69 136.45 L842.08 136.10 L842.46 135.75 L842.84 135.40 L843.22 135.05 L843.60 134.70 L843.98 134.35 L844.37 134.00 L844.75 133.65 L845.13 133.30 L845.51 132.94 L845.89 132.59 L846.28 132.24 L846.66 131.88 L847.04 131.53 L847.42 131.18 L847.80 130.82 L848.18 130.47 L848.57 130.11 L848.95 129.76 L849.33 129.40 L849.71 129.04 L850.09 128.69 L850.48 128.33 L850.86 127.98 L851.24 127.62 L851.62 127.26 L852.00 126.90 L852.39 126.55 L852.77 126.19 L853.15 125.83 L853.53 125.47 L853.91 125.11 L854.30 124.75 L854.68 124.39 L855.06 124.03 L855.44 123.67 L855.82 123.31 L856.20 122.95 L856.59 122.59 L856.97 122.23 L857.35 121.87 L857.73 121.51 L858.11 121.15 L858.50 120.79 L858.88 120.43 L859.26 120.06 L859.64 119.70 L860.02 119.34 L860.40 118.98 L860.79 118.61 L861.17 118.25 L861.55 117.89 L861.93 117.52 L862.31 117.16 L862.70 116.80 L863.08 116.43 L863.46 116.07 L863.84 115.71 L864.22 115.34 L864.61 114.98 L864.99 114.61 L865.37 114.25 L865.75 113.88 L866.13 113.52 L866.51 113.15 L866.90 112.79 L867.28 112.42 L867.66 112.05 L868.04 111.69 L868.42 111.32 L868.81 110.96 L869.19 110.59 L869.57 110.22 L869.95 109.86 L870.33 109.49 L870.72 109.12 L871.10 108.76 L871.48 108.39 L871.86 108.02 L872.24 107.66 L872.62 107.29 L873.01 106.92 L873.39 106.55 L873.77 106.18 L874.15 105.82 L874.53 105.45 L874.92 105.08 L875.30 104.71 L875.68 104.34 L876.06 103.98 L876.44 103.61 L876.83 103.24 L877.21 102.87 L877.59 102.50 L877.97 102.13 L878.35 101.76 L878.74 101.39 L879.12 101.02 L879.50 100.65 L879.88 100.28 L880.26 99.92 L880.64 99.55 L881.03 99.18 L881.41 98.81 L881.79 98.44 L882.17 98.07 L882.55 97.70 L882.94 97.33 L883.32 96.95 L883.70 96.58 L884.08 96.21 L884.46 95.84 L884.85 95.47 L885.23 95.10 L885.61 94.73 L885.99 94.36 L886.37 93.99 L886.75 93.62 L887.14 93.25 L887.52 92.88 L887.90 92.50 L888.28 92.13 L888.66 91.76 L889.05 91.39 L889.43 91.02 L889.81 90.65 L890.19 90.27 L890.57 89.90 L890.96 89.53 L891.34 89.16 L891.72 88.79 L892.10 88.42 L892.48 88.04 L892.86 87.67 L893.25 87.30 L893.63 86.93 L894.01 86.55 L894.39 86.18 L894.77 85.81 L895.16 85.44 L895.54 85.06 L895.92 84.69 L896.30 84.32 L896.68 83.94 L897.07 83.57 L897.45 83.20 L897.83 82.83 L898.21 82.45 L898.59 82.08 L898.97 81.71 L899.36 81.33 L899.74 80.96 L900.12 80.59 L900.50 80.21 L900.88 79.84 L901.27 79.47 L901.65 79.09 L902.03 78.72 L902.41 78.35 L902.79 77.97 L903.17 77.60 L903.56 77.22 L903.94 76.85 L904.32 76.48 L904.70 76.10 L905.08 75.73 L905.47 75.35 L905.85 74.98 L906.23 74.61 L906.61 74.23 L906.99 73.86 L907.38 73.48 L907.76 73.11 L908.14 72.74 L908.52 72.36 L908.90 71.99 L909.29 71.61 L909.67 71.24 L910.05 70.86 L910.43 70.49 L910.81 70.11 L911.19 69.74 L911.58 69.36 L911.96 68.99 L912.34 68.61 L912.72 68.24 L913.10 67.86 L913.49 67.49 L913.87 67.12 L914.25 66.74 L914.63 66.37 L915.01 65.99 L915.39 65.61 L915.78 65.24 L916.16 64.86 L916.54 64.49 L916.92 64.11 L917.30 63.74 L917.69 63.36 L918.07 62.99 L918.45 62.61 L918.83 62.24 L919.21 61.86 L919.60 61.49 L919.98 61.11 L920.36 60.74 L920.74 60.36 L921.12 59.98 L921.50 59.61 L921.89 59.23 L922.27 58.86 L922.65 58.48 L923.03 58.11 L923.41 57.73 L923.80 57.35 L924.18 56.98 L924.56 56.60 L924.94 56.23 L925.32 55.85 L925.71 55.47 L926.09 55.10 L926.47 54.72 L926.85 54.35 L927.23 53.97 L927.62 53.59 L928.00 53.22 L928.38 52.84 L928.76 52.47 L929.14 52.09 L929.52 51.71 L929.91 51.34 L930.29 50.96 L930.67 50.58 L931.05 50.21 L931.43 49.83 L931.82 49.46 L932.20 49.08 L932.58 48.70 L932.96 48.33 L933.34 47.95 L933.73 47.57 L934.11 47.20 L934.49 46.82 L934.87 46.44 L935.25 46.07 L935.63 45.69 L936.02 45.31 L936.40 44.94 L936.78 44.56 L937.16 44.18 L937.54 43.81 L937.93 43.43 L938.31 43.05 L938.69 42.68 L939.07 42.30 L939.45 41.92 L939.84 41.55 L940.22 41.17 L940.60 40.79 L940.98 40.42 L941.36 40.04 L941.74 39.66 L942.13 39.28 L942.51 38.91 L942.89 38.53 L943.27 38.15 L943.65 37.78 L944.04 37.40 L944.42 37.02 L944.80 36.65 L945.18 36.27 L945.56 35.89 L945.94 35.51 L946.33 35.14 L946.71 34.76 L947.09 34.38 L947.47 34.00 L947.85 33.63 L948.24 33.25 L948.62 32.87 L949.00 32.50 M649.61 338.00 L649.61 337.97 L649.98 336.45 L650.36 335.74 L650.73 335.16 L651.11 334.64 L651.48 334.15 L651.86 333.68 L652.23 333.23 L652.61 332.80 L652.98 332.37 L653.36 331.95 L653.73 331.54 L654.11 331.13 L654.48 330.72 L654.86 330.32 L655.23 329.92 L655.61 329.52 L655.98 329.13 L656.35 328.73 L656.73 328.34 L657.10 327.95 L657.48 327.57 L657.85 327.18 L658.23 326.79 L658.60 326.41 L658.98 326.02 L659.35 325.64 L659.73 325.26 L660.10 324.87 L660.48 324.49 L660.85 324.11 L661.23 323.73 L661.60 323.35 L661.98 322.97 L662.35 322.59 L662.72 322.21 L663.10 321.84 L663.47 321.46 L663.85 321.08 L664.22 320.70 L664.60 320.32 L664.97 319.95 L665.35 319.57 L665.72 319.19 L666.10 318.82 L666.47 318.44 L666.85 318.07 L667.22 317.69 L667.60 317.32 L667.97 316.94 L668.35 316.57 L668.72 316.19 L669.09 315.82 L669.47 315.44 L669.84 315.07 L670.22 314.69 L670.59 314.32 L670.97 313.95 L671.34 313.57 L671.72 313.20 L672.09 312.83 L672.47 312.45 L672.84 312.08 L673.22 311.71 L673.59 311.33 L673.97 310.96 L674.34 310.59 L674.72 310.21 L675.09 309.84 L675.46 309.47 L675.84 309.10 L676.21 308.72 L676.59 308.35 L676.96 307.98 L677.34 307.61 L677.71 307.24 L678.09 306.87 L678.46 306.49 L678.84 306.12 L679.21 305.75 L679.59 305.38 L679.96 305.01 L680.34 304.64 L680.71 304.26 L681.09 303.89 L681.46 303.52 L681.83 303.15 L682.21 302.78 L682.58 302.41 L682.96 302.04 L683.33 301.67 L683.71 301.30 L684.08 300.93 L684.46 300.56 L684.83 300.19 L685.21 299.82 L685.58 299.45 L685.96 299.08 L686.33 298.71 L686.71 298.34 L687.08 297.97 L687.46 297.60 L687.83 297.23 L688.20 296.86 L688.58 296.49 L688.95 296.12 L689.33 295.75 L689.70 295.38 L690.08 295.01 L690.45 294.64 L690.83 294.27 L691.20 293.90 L691.58 293.53 L691.95 293.16 L692.33 292.80 L692.70 292.43 L693.08 292.06 L693.45 291.69 L693.83 291.32 L694.20 290.95 L694.57 290.58 L694.95 290.22 L695.32 289.85 L695.70 289.48 L696.07 289.11 L696.45 288.74 L696.82 288.38 L697.20 288.01 L697.57 287.64 L697.95 287.27 L698.32 286.90 L698.70 286.54 L699.07 286.17 L699.45 285.80 L699.82 285.43 L700.20 285.07 L700.57 284.70 L700.94 284.33 L701.32 283.97 L701.69 283.60 L702.07 283.23 L702.44 282.87 L702.82 282.50 L703.19 282.13 L703.57 281.77 L703.94 281.40 L704.32 281.03 L704.69 280.67 L705.07 280.30 L705.44 279.93 L705.82 279.57 L706.19 279.20 L706.57 278.84 L706.94 278.47 L707.31 278.10 L707.69 277.74 L708.06 277.37 L708.44 277.01 L708.81 276.64 L709.19 276.28 L709.56 275.91 L709.94 275.55 L710.31 275.18 L710.69 274.82 L711.06 274.45 L711.44 274.09 L711.81 273.72 L712.19 273.36 L712.56 273.00 L712.94 272.63 L713.31 272.27 L713.68 271.90 L714.06 271.54 L714.43 271.18 L714.81 270.81 L715.18 270.45 L715.56 270.09 L715.93 269.72 L716.31 269.36 L716.68 269.00 L717.06 268.63 L717.43 268.27 L717.81 267.91 L718.18 267.54 L718.56 267.18 L718.93 266.82 L719.31 266.46 L719.68 266.10 L720.05 265.73 L720.43 265.37 L720.80 265.01 L721.18 264.65 L721.55 264.29 L721.93 263.93 L722.30 263.56 L722.68 263.20 L723.05 262.84 L723.43 262.48 L723.80 262.12 L724.18 261.76 L724.55 261.40 L724.93 261.04 L725.30 260.68 L725.68 260.32 L726.05 259.96 L726.42 259.60 L726.80 259.24 L727.17 258.88 L727.55 258.52 L727.92 258.16 L728.30 257.80 L728.67 257.45 L729.05 257.09 L729.42 256.73 L729.80 256.37 L730.17 256.01 L730.55 255.65 L730.92 255.30 L731.30 254.94 L731.67 254.58 L732.05 254.23 L732.42 253.87 L732.79 253.51 L733.17 253.16 L733.54 252.80 L733.92 252.44 L734.29 252.09 L734.67 251.73 L735.04 251.38 L735.42 251.02 L735.79 250.67 L736.17 250.31 L736.54 249.96 L736.92 249.60 L737.29 249.25 L737.67 248.89 L738.04 248.54 L738.42 248.19 L738.79 247.83 L739.16 247.48 L739.54 247.13 L739.91 246.78 L740.29 246.42 L740.66 246.07 L741.04 245.72 L741.41 245.37 L741.79 245.02 L742.16 244.67 L742.54 244.32 L742.91 243.97 L743.29 243.62 L743.66 243.27 L744.04 242.92 L744.41 242.57 L744.79 242.22 L745.16 241.87 L745.53 241.52 L745.91 241.17 L746.28 240.83 L746.66 240.48 L747.03 240.13 L747.41 239.79 L747.78 239.44 L748.16 239.09 L748.53 238.75 L748.91 238.40 L749.28 238.06 L749.66 237.71 L750.03 237.37 L750.41 237.03 L750.78 236.68 L751.16 236.34 L751.53 236.00 L751.90 235.66 L752.28 235.31 L752.65 234.97 L753.03 234.63 L753.40 234.29 L753.78 233.95 L754.15 233.61 L754.53 233.27 L754.90 232.94 L755.28 232.60 L755.65 232.26 L756.03 231.92 L756.40 231.59 L756.78 231.25 L757.15 230.92 L757.53 230.58 L757.90 230.25 L758.27 229.91 L758.65 229.58 L759.02 229.25 L759.40 228.92 L759.77 228.59 L760.15 228.25 L760.52 227.92 L760.90 227.60 L761.27 227.27 L761.65 226.94 L762.02 226.61 L762.40 226.28 L762.77 225.96 L763.15 225.63 L763.52 225.31 L763.90 224.98 L764.27 224.66 L764.64 224.34 L765.02 224.02 L765.39 223.70 L765.77 223.38 L766.14 223.06 L766.52 222.74 L766.89 222.42 L767.27 222.10 L767.64 221.79 L768.02 221.47 L768.39 221.16 L768.77 220.85 L769.14 220.53 L769.52 220.22 L769.89 219.91 L770.27 219.60 L770.64 219.30 L771.01 218.99 L771.39 218.68 L771.76 218.38 L772.14 218.07 L772.51 217.77 L772.89 217.47 L773.26 217.17 L773.64 216.87 L774.01 216.57 L774.39 216.27 L774.76 215.98 L775.14 215.68 L775.51 215.39 L775.89 215.10 L776.26 214.81 L776.64 214.52 L777.01 214.23 L777.38 213.94 L777.76 213.66 L778.13 213.38 L778.51 213.09 L778.88 212.81 L779.26 212.53 L779.63 212.26 L780.01 211.98 L780.38 211.71 L780.76 211.43 L781.13 211.16 L781.51 210.89 L781.88 210.62 L782.26 210.36 L782.63 210.09 L783.01 209.83 L783.38 209.57 L783.75 209.31 L784.13 209.05 L784.50 208.80 L784.88 208.54 L785.25 208.29 L785.63 208.04 L786.00 207.79 L786.38 207.55 L786.75 207.30 L787.13 207.06 L787.50 206.82 L787.88 206.58 L788.25 206.35 L788.63 206.11 L789.00 205.88 L789.38 205.65 L789.75 205.42 L790.12 205.20 L790.50 204.97 L790.87 204.75 L791.25 204.53 L791.62 204.32 L792.00 204.10 L792.37 203.89 L792.75 203.68 L793.12 203.47 L793.50 203.27 L793.87 203.06 L794.25 202.86 L794.62 202.66 L795.00 202.47 L795.37 202.27 L795.75 202.08 L796.12 201.89 L796.49 201.70 L796.87 201.52 L797.24 201.33 L797.62 201.15 L797.99 200.97 L798.37 200.80 L798.74 200.62 L799.12 200.45 L799.49 200.28 L799.87 200.12 L800.24 199.95 L800.62 199.79 L800.99 199.63 L801.37 199.47 L801.74 199.31 L802.12 199.16 L802.49 199.01 L802.86 198.86 L803.24 198.71 L803.61 198.57 L803.99 198.42 L804.36 198.28 L804.74 198.14 L805.11 198.00 L805.49 197.87 L805.86 197.74 L806.24 197.61 L806.61 197.48 L806.99 197.35 L807.36 197.22 L807.74 197.10 L808.11 196.98 L808.49 196.86 L808.86 196.74 L809.23 196.63 L809.61 196.51 L809.98 196.40 L810.36 196.29 L810.73 196.18 L811.11 196.07 L811.48 195.97 L811.86 195.86 L812.23 195.76 L812.61 195.66 L812.98 195.56 L813.36 195.46 L813.73 195.37 L814.11 195.27 L814.48 195.18 L814.86 195.09 L815.23 195.00 L815.60 194.91 L815.98 194.82 L816.35 194.74 L816.73 194.65 L817.10 194.57 L817.48 194.49 L817.85 194.41 L818.23 194.33 L818.60 194.25 L818.98 194.17 L819.35 194.09 L819.73 194.02 L820.10 193.95 L820.48 193.87 L820.85 193.80 L821.23 193.73 L821.60 193.66 L821.97 193.59 L822.35 193.53 L822.72 193.46 L823.10 193.40 L823.47 193.33 L823.85 193.27 L824.22 193.21 L824.60 193.14 L824.97 193.08 L825.35 193.02 L825.72 192.97 L826.10 192.91 L826.47 192.85 L826.85 192.79 L827.22 192.74 L827.60 192.68 L827.97 192.63 L828.34 192.58 L828.72 192.53 L829.09 192.47 L829.47 192.42 L829.84 192.37 L830.22 192.32 L830.59 192.28 L830.97 192.23 L831.34 192.18 L831.72 192.13 L832.09 192.09 L832.47 192.04 L832.84 192.00 L833.22 191.95 L833.59 191.91 L833.97 191.87 L834.34 191.82 L834.71 191.78 L835.09 191.74 L835.46 191.70 L835.84 191.66 L836.21 191.62 L836.59 191.58 L836.96 191.54 L837.34 191.50 L837.71 191.47 L838.09 191.43 L838.46 191.39 L838.84 191.36 L839.21 191.32 L839.59 191.29 L839.96 191.25 L840.34 191.22 L840.71 191.18 L841.08 191.15 L841.46 191.11 L841.83 191.08 L842.21 191.05 L842.58 191.02 L842.96 190.99 L843.33 190.95 L843.71 190.92 L844.08 190.89 L844.46 190.86 L844.83 190.83 L845.21 190.80 L845.58 190.77 L845.96 190.75 L846.33 190.72 L846.71 190.69 L847.08 190.66 L847.45 190.63 L847.83 190.61 L848.20 190.58 L848.58 190.55 L848.95 190.53 L849.33 190.50 L849.70 190.48 L850.08 190.45 L850.45 190.43 L850.83 190.40 L851.20 190.38 L851.58 190.35 L851.95 190.33 L852.33 190.30 L852.70 190.28 L853.08 190.26 L853.45 190.23 L853.82 190.21 L854.20 190.19 L854.57 190.17 L854.95 190.14 L855.32 190.12 L855.70 190.10 L856.07 190.08 L856.45 190.06 L856.82 190.04 L857.20 190.02 L857.57 190.00 L857.95 189.98 L858.32 189.96 L858.70 189.94 L859.07 189.92 L859.45 189.90 L859.82 189.88 L860.19 189.86 L860.57 189.84 L860.94 189.82 L861.32 189.80 L861.69 189.78 L862.07 189.77 L862.44 189.75 L862.82 189.73 L863.19 189.71 L863.57 189.69 L863.94 189.68 L864.32 189.66 L864.69 189.64 L865.07 189.63 L865.44 189.61 L865.82 189.59 L866.19 189.58 L866.56 189.56 L866.94 189.54 L867.31 189.53 L867.69 189.51 L868.06 189.50 L868.44 189.48 L868.81 189.46 L869.19 189.45 L869.56 189.43 L869.94 189.42 L870.31 189.40 L870.69 189.39 L871.06 189.38 L871.44 189.36 L871.81 189.35 L872.19 189.33 L872.56 189.32 L872.93 189.30 L873.31 189.29 L873.68 189.28 L874.06 189.26 L874.43 189.25 L874.81 189.24 L875.18 189.22 L875.56 189.21 L875.93 189.20 L876.31 189.18 L876.68 189.17 L877.06 189.16 L877.43 189.14 L877.81 189.13 L878.18 189.12 L878.56 189.11 L878.93 189.09 L879.30 189.08 L879.68 189.07 L880.05 189.06 L880.43 189.05 L880.80 189.03 L881.18 189.02 L881.55 189.01 L881.93 189.00 L882.30 188.99 L882.68 188.98 L883.05 188.96 L883.43 188.95 L883.80 188.94 L884.18 188.93 L884.55 188.92 L884.93 188.91 L885.30 188.90 L885.67 188.89 L886.05 188.88 L886.42 188.87 L886.80 188.86 L887.17 188.85 L887.55 188.84 L887.92 188.83 L888.30 188.82 L888.67 188.81 L889.05 188.80 L889.42 188.79 L889.80 188.78 L890.17 188.77 L890.55 188.76 L890.92 188.75 L891.30 188.74 L891.67 188.73 L892.04 188.72 L892.42 188.71 L892.79 188.70 L893.17 188.69 L893.54 188.68 L893.92 188.67 L894.29 188.66 L894.67 188.65 L895.04 188.64 L895.42 188.63 L895.79 188.63 L896.17 188.62 L896.54 188.61 L896.92 188.60 L897.29 188.59 L897.67 188.58 L898.04 188.57 L898.41 188.57 L898.79 188.56 L899.16 188.55 L899.54 188.54 L899.91 188.53 L900.29 188.52 L900.66 188.52 L901.04 188.51 L901.41 188.50 L901.79 188.49 L902.16 188.48 L902.54 188.48 L902.91 188.47 L903.29 188.46 L903.66 188.45 L904.04 188.45 L904.41 188.44 L904.78 188.43 L905.16 188.42 L905.53 188.41 L905.91 188.41 L906.28 188.40 L906.66 188.39 L907.03 188.39 L907.41 188.38 L907.78 188.37 L908.16 188.36 L908.53 188.36 L908.91 188.35 L909.28 188.34 L909.66 188.34 L910.03 188.33 L910.41 188.32 L910.78 188.31 L911.15 188.31 L911.53 188.30 L911.90 188.29 L912.28 188.29 L912.65 188.28 L913.03 188.27 L913.40 188.27 L913.78 188.26 L914.15 188.25 L914.53 188.25 L914.90 188.24 L915.28 188.24 L915.65 188.23 L916.03 188.22 L916.40 188.22 L916.78 188.21 L917.15 188.20 L917.52 188.20 L917.90 188.19 L918.27 188.19 L918.65 188.18 L919.02 188.17 L919.40 188.17 L919.77 188.16 L920.15 188.15 L920.52 188.15 L920.90 188.14 L921.27 188.14 L921.65 188.13 L922.02 188.13 L922.40 188.12 L922.77 188.11 L923.15 188.11 L923.52 188.10 L923.89 188.10 L924.27 188.09 L924.64 188.09 L925.02 188.08 L925.39 188.07 L925.77 188.07 L926.14 188.06 L926.52 188.06 L926.89 188.05 L927.27 188.05 L927.64 188.04 L928.02 188.04 L928.39 188.03 L928.77 188.03 L929.14 188.02 L929.52 188.02 L929.89 188.01 L930.26 188.01 L930.64 188.00 L931.01 187.99 L931.39 187.99 L931.76 187.98 L932.14 187.98 L932.51 187.97 L932.89 187.97 L933.26 187.96 L933.64 187.96 L934.01 187.95 L934.39 187.95 L934.76 187.94 L935.14 187.94 L935.51 187.94 L935.89 187.93 L936.26 187.93 L936.63 187.92 L937.01 187.92 L937.38 187.91 L937.76 187.91 L938.13 187.90 L938.51 187.90 L938.88 187.89 L939.26 187.89 L939.63 187.88 L940.01 187.88 L940.38 187.87 L940.76 187.87 L941.13 187.87 L941.51 187.86 L941.88 187.86 L942.26 187.85 L942.63 187.85 L943.00 187.84 L943.38 187.84 L943.75 187.83 L944.13 187.83 L944.50 187.83 L944.88 187.82 L945.25 187.82 L945.63 187.81 L946.00 187.81 L946.38 187.80 L946.75 187.80 L947.13 187.80 L947.50 187.79 L947.88 187.79 L948.25 187.78 L948.63 187.78 L949.00 187.78" stroke="#0000ff" stroke-width="4.9" fill="none" stroke-linejoin="round"/><path d="M643.50 182.73 L643.88 182.73 L644.26 182.73 L644.65 182.73 L645.03 182.73 L645.41 182.73 L645.79 182.73 L646.17 182.73 L646.55 182.73 L646.94 182.73 L647.32 182.73 L647.70 182.73 L648.08 182.73 L648.46 182.73 L648.85 182.73 L649.23 182.73 L649.61 182.73 L649.99 182.73 L650.37 182.73 L650.76 182.73 L651.14 182.73 L651.52 182.73 L651.90 182.73 L652.28 182.73 L652.66 182.72 L653.05 182.72 L653.43 182.72 L653.81 182.72 L654.19 182.72 L654.57 182.72 L654.96 182.72 L655.34 182.72 L655.72 182.72 L656.10 182.72 L656.48 182.71 L656.87 182.71 L657.25 182.71 L657.63 182.71 L658.01 182.71 L658.39 182.71 L658.77 182.71 L659.16 182.70 L659.54 182.70 L659.92 182.70 L660.30 182.70 L660.68 182.70 L661.07 182.70 L661.45 182.69 L661.83 182.69 L662.21 182.69 L662.59 182.69 L662.98 182.69 L663.36 182.69 L663.74 182.68 L664.12 182.68 L664.50 182.68 L664.88 182.68 L665.27 182.68 L665.65 182.67 L666.03 182.67 L666.41 182.67 L666.79 182.67 L667.18 182.66 L667.56 182.66 L667.94 182.66 L668.32 182.66 L668.70 182.65 L669.09 182.65 L669.47 182.65 L669.85 182.65 L670.23 182.64 L670.61 182.64 L671.00 182.64 L671.38 182.64 L671.76 182.63 L672.14 182.63 L672.52 182.63 L672.90 182.62 L673.29 182.62 L673.67 182.62 L674.05 182.62 L674.43 182.61 L674.81 182.61 L675.20 182.61 L675.58 182.60 L675.96 182.60 L676.34 182.60 L676.72 182.59 L677.11 182.59 L677.49 182.59 L677.87 182.58 L678.25 182.58 L678.63 182.58 L679.01 182.57 L679.40 182.57 L679.78 182.56 L680.16 182.56 L680.54 182.56 L680.92 182.55 L681.31 182.55 L681.69 182.54 L682.07 182.54 L682.45 182.54 L682.83 182.53 L683.22 182.53 L683.60 182.52 L683.98 182.52 L684.36 182.52 L684.74 182.51 L685.12 182.51 L685.51 182.50 L685.89 182.50 L686.27 182.49 L686.65 182.49 L687.03 182.48 L687.42 182.48 L687.80 182.47 L688.18 182.47 L688.56 182.46 L688.94 182.46 L689.33 182.45 L689.71 182.45 L690.09 182.44 L690.47 182.44 L690.85 182.43 L691.23 182.43 L691.62 182.42 L692.00 182.42 L692.38 182.41 L692.76 182.40 L693.14 182.40 L693.53 182.39 L693.91 182.39 L694.29 182.38 L694.67 182.38 L695.05 182.37 L695.43 182.36 L695.82 182.36 L696.20 182.35 L696.58 182.35 L696.96 182.34 L697.34 182.33 L697.73 182.33 L698.11 182.32 L698.49 182.31 L698.87 182.31 L699.25 182.30 L699.64 182.29 L700.02 182.29 L700.40 182.28 L700.78 182.27 L701.16 182.26 L701.54 182.26 L701.93 182.25 L702.31 182.24 L702.69 182.24 L703.07 182.23 L703.45 182.22 L703.84 182.21 L704.22 182.21 L704.60 182.20 L704.98 182.19 L705.36 182.18 L705.75 182.17 L706.13 182.17 L706.51 182.16 L706.89 182.15 L707.27 182.14 L707.65 182.13 L708.04 182.12 L708.42 182.11 L708.80 182.11 L709.18 182.10 L709.56 182.09 L709.95 182.08 L710.33 182.07 L710.71 182.06 L711.09 182.05 L711.47 182.04 L711.86 182.03 L712.24 182.02 L712.62 182.01 L713.00 182.00 L713.38 181.99 L713.76 181.98 L714.15 181.97 L714.53 181.96 L714.91 181.95 L715.29 181.94 L715.67 181.93 L716.06 181.92 L716.44 181.91 L716.82 181.90 L717.20 181.89 L717.58 181.88 L717.97 181.87 L718.35 181.85 L718.73 181.84 L719.11 181.83 L719.49 181.82 L719.88 181.81 L720.26 181.80 L720.64 181.78 L721.02 181.77 L721.40 181.76 L721.78 181.75 L722.17 181.73 L722.55 181.72 L722.93 181.71 L723.31 181.69 L723.69 181.68 L724.08 181.67 L724.46 181.65 L724.84 181.64 L725.22 181.63 L725.60 181.61 L725.99 181.60 L726.37 181.58 L726.75 181.57 L727.13 181.56 L727.51 181.54 L727.89 181.53 L728.28 181.51 L728.66 181.50 L729.04 181.48 L729.42 181.46 L729.80 181.45 L730.19 181.43 L730.57 181.42 L730.95 181.40 L731.33 181.38 L731.71 181.37 L732.10 181.35 L732.48 181.33 L732.86 181.32 L733.24 181.30 L733.62 181.28 L734.00 181.26 L734.39 181.24 L734.77 181.23 L735.15 181.21 L735.53 181.19 L735.91 181.17 L736.30 181.15 L736.68 181.13 L737.06 181.11 L737.44 181.09 L737.82 181.07 L738.21 181.05 L738.59 181.03 L738.97 181.01 L739.35 180.99 L739.73 180.97 L740.11 180.95 L740.50 180.92 L740.88 180.90 L741.26 180.88 L741.64 180.86 L742.02 180.83 L742.41 180.81 L742.79 180.79 L743.17 180.76 L743.55 180.74 L743.93 180.71 L744.32 180.69 L744.70 180.67 L745.08 180.64 L745.46 180.61 L745.84 180.59 L746.22 180.56 L746.61 180.53 L746.99 180.51 L747.37 180.48 L747.75 180.45 L748.13 180.42 L748.52 180.40 L748.90 180.37 L749.28 180.34 L749.66 180.31 L750.04 180.28 L750.42 180.25 L750.81 180.22 L751.19 180.19 L751.57 180.15 L751.95 180.12 L752.33 180.09 L752.72 180.06 L753.10 180.02 L753.48 179.99 L753.86 179.95 L754.24 179.92 L754.63 179.88 L755.01 179.85 L755.39 179.81 L755.77 179.77 L756.15 179.74 L756.53 179.70 L756.92 179.66 L757.30 179.62 L757.68 179.58 L758.06 179.54 L758.44 179.50 L758.83 179.46 L759.21 179.42 L759.59 179.38 L759.97 179.33 L760.35 179.29 L760.74 179.24 L761.12 179.20 L761.50 179.15 L761.88 179.11 L762.26 179.06 L762.64 179.01 L763.03 178.96 L763.41 178.91 L763.79 178.86 L764.17 178.81 L764.55 178.76 L764.94 178.71 L765.32 178.65 L765.70 178.60 L766.08 178.55 L766.46 178.49 L766.85 178.43 L767.23 178.38 L767.61 178.32 L767.99 178.26 L768.37 178.20 L768.75 178.14 L769.14 178.07 L769.52 178.01 L769.90 177.95 L770.28 177.88 L770.66 177.81 L771.05 177.75 L771.43 177.68 L771.81 177.61 L772.19 177.54 L772.57 177.46 L772.96 177.39 L773.34 177.32 L773.72 177.24 L774.10 177.16 L774.48 177.09 L774.87 177.01 L775.25 176.93 L775.63 176.84 L776.01 176.76 L776.39 176.68 L776.77 176.59 L777.16 176.50 L777.54 176.41 L777.92 176.32 L778.30 176.23 L778.68 176.14 L779.07 176.04 L779.45 175.94 L779.83 175.85 L780.21 175.75 L780.59 175.64 L780.98 175.54 L781.36 175.44 L781.74 175.33 L782.12 175.22 L782.50 175.11 L782.88 175.00 L783.27 174.88 L783.65 174.77 L784.03 174.65 L784.41 174.53 L784.79 174.41 L785.18 174.29 L785.56 174.16 L785.94 174.03 L786.32 173.90 L786.70 173.77 L787.09 173.64 L787.47 173.50 L787.85 173.37 L788.23 173.23 L788.61 173.08 L788.99 172.94 L789.38 172.79 L789.76 172.64 L790.14 172.49 L790.52 172.34 L790.90 172.19 L791.29 172.03 L791.67 171.87 L792.05 171.71 L792.43 171.54 L792.81 171.37 L793.19 171.20 L793.58 171.03 L793.96 170.86 L794.34 170.68 L794.72 170.50 L795.10 170.32 L795.49 170.14 L795.87 169.95 L796.25 169.77 L796.63 169.58 L797.01 169.38 L797.40 169.19 L797.78 168.99 L798.16 168.79 L798.54 168.59 L798.92 168.38 L799.31 168.17 L799.69 167.97 L800.07 167.75 L800.45 167.54 L800.83 167.32 L801.21 167.10 L801.60 166.88 L801.98 166.66 L802.36 166.43 L802.74 166.21 L803.12 165.98 L803.51 165.74 L803.89 165.51 L804.27 165.27 L804.65 165.03 L805.03 164.79 L805.41 164.55 L805.80 164.30 L806.18 164.06 L806.56 163.81 L806.94 163.56 L807.32 163.30 L807.71 163.05 L808.09 162.79 L808.47 162.53 L808.85 162.27 L809.23 162.01 L809.62 161.74 L810.00 161.48 L810.38 161.21 L810.76 160.94 L811.14 160.67 L811.52 160.39 L811.91 160.12 L812.29 159.84 L812.67 159.56 L813.05 159.28 L813.43 159.00 L813.82 158.71 L814.20 158.43 L814.58 158.14 L814.96 157.86 L815.34 157.57 L815.73 157.27 L816.11 156.98 L816.49 156.69 L816.87 156.39 L817.25 156.10 L817.63 155.80 L818.02 155.50 L818.40 155.20 L818.78 154.90 L819.16 154.59 L819.54 154.29 L819.93 153.98 L820.31 153.68 L820.69 153.37 L821.07 153.06 L821.45 152.75 L821.84 152.44 L822.22 152.13 L822.60 151.81 L822.98 151.50 L823.36 151.18 L823.75 150.87 L824.13 150.55 L824.51 150.23 L824.89 149.91 L825.27 149.59 L825.65 149.27 L826.04 148.95 L826.42 148.63 L826.80 148.30 L827.18 147.98 L827.56 147.65 L827.95 147.33 L828.33 147.00 L828.71 146.67 L829.09 146.34 L829.47 146.01 L829.86 145.68 L830.24 145.35 L830.62 145.02 L831.00 144.69 L831.38 144.36 L831.76 144.02 L832.15 143.69 L832.53 143.35 L832.91 143.02 L833.29 142.68 L833.67 142.35 L834.06 142.01 L834.44 141.67 L834.82 141.33 L835.20 140.99 L835.58 140.65 L835.97 140.31 L836.35 139.97 L836.73 139.63 L837.11 139.29 L837.49 138.95 L837.87 138.61 L838.26 138.26 L838.64 137.92 L839.02 137.57 L839.40 137.23 L839.78 136.88 L840.17 136.54 L840.55 136.19 L840.93 135.85 L841.31 135.50 L841.69 135.15 L842.08 134.80 L842.46 134.46 L842.84 134.11 L843.22 133.76 L843.60 133.41 L843.98 133.06 L844.37 132.71 L844.75 132.36 L845.13 132.01 L845.51 131.66 L845.89 131.31 L846.28 130.95 L846.66 130.60 L847.04 130.25 L847.42 129.90 L847.80 129.54 L848.18 129.19 L848.57 128.84 L848.95 128.48 L849.33 128.13 L849.71 127.77 L850.09 127.42 L850.48 127.06 L850.86 126.71 L851.24 126.35 L851.62 125.99 L852.00 125.64 L852.39 125.28 L852.77 124.92 L853.15 124.57 L853.53 124.21 L853.91 123.85 L854.30 123.49 L854.68 123.14 L855.06 122.78 L855.44 122.42 L855.82 122.06 L856.20 121.70 L856.59 121.34 L856.97 120.98 L857.35 120.62 L857.73 120.26 L858.11 119.90 L858.50 119.54 L858.88 119.18 L859.26 118.82 L859.64 118.46 L860.02 118.10 L860.40 117.74 L860.79 117.38 L861.17 117.01 L861.55 116.65 L861.93 116.29 L862.31 115.93 L862.70 115.56 L863.08 115.20 L863.46 114.84 L863.84 114.48 L864.22 114.11 L864.61 113.75 L864.99 113.39 L865.37 113.02 L865.75 112.66 L866.13 112.29 L866.51 111.93 L866.90 111.57 L867.28 111.20 L867.66 110.84 L868.04 110.47 L868.42 110.11 L868.81 109.74 L869.19 109.38 L869.57 109.01 L869.95 108.65 L870.33 108.28 L870.72 107.92 L871.10 107.55 L871.48 107.18 L871.86 106.82 L872.24 106.45 L872.62 106.08 L873.01 105.72 L873.39 105.35 L873.77 104.99 L874.15 104.62 L874.53 104.25 L874.92 103.88 L875.30 103.52 L875.68 103.15 L876.06 102.78 L876.44 102.41 L876.83 102.05 L877.21 101.68 L877.59 101.31 L877.97 100.94 L878.35 100.58 L878.74 100.21 L879.12 99.84 L879.50 99.47 L879.88 99.10 L880.26 98.73 L880.64 98.37 L881.03 98.00 L881.41 97.63 L881.79 97.26 L882.17 96.89 L882.55 96.52 L882.94 96.15 L883.32 95.78 L883.70 95.41 L884.08 95.04 L884.46 94.67 L884.85 94.30 L885.23 93.93 L885.61 93.56 L885.99 93.20 L886.37 92.83 L886.75 92.46 L887.14 92.09 L887.52 91.71 L887.90 91.34 L888.28 90.97 L888.66 90.60 L889.05 90.23 L889.43 89.86 L889.81 89.49 L890.19 89.12 L890.57 88.75 L890.96 88.38 L891.34 88.01 L891.72 87.64 L892.10 87.27 L892.48 86.90 L892.86 86.52 L893.25 86.15 L893.63 85.78 L894.01 85.41 L894.39 85.04 L894.77 84.67 L895.16 84.30 L895.54 83.92 L895.92 83.55 L896.30 83.18 L896.68 82.81 L897.07 82.44 L897.45 82.07 L897.83 81.69 L898.21 81.32 L898.59 80.95 L898.97 80.58 L899.36 80.20 L899.74 79.83 L900.12 79.46 L900.50 79.09 L900.88 78.72 L901.27 78.34 L901.65 77.97 L902.03 77.60 L902.41 77.23 L902.79 76.85 L903.17 76.48 L903.56 76.11 L903.94 75.73 L904.32 75.36 L904.70 74.99 L905.08 74.62 L905.47 74.24 L905.85 73.87 L906.23 73.50 L906.61 73.12 L906.99 72.75 L907.38 72.38 L907.76 72.00 L908.14 71.63 L908.52 71.26 L908.90 70.88 L909.29 70.51 L909.67 70.14 L910.05 69.76 L910.43 69.39 L910.81 69.01 L911.19 68.64 L911.58 68.27 L911.96 67.89 L912.34 67.52 L912.72 67.15 L913.10 66.77 L913.49 66.40 L913.87 66.02 L914.25 65.65 L914.63 65.28 L915.01 64.90 L915.39 64.53 L915.78 64.15 L916.16 63.78 L916.54 63.40 L916.92 63.03 L917.30 62.66 L917.69 62.28 L918.07 61.91 L918.45 61.53 L918.83 61.16 L919.21 60.78 L919.60 60.41 L919.98 60.03 L920.36 59.66 L920.74 59.29 L921.12 58.91 L921.50 58.54 L921.89 58.16 L922.27 57.79 L922.65 57.41 L923.03 57.04 L923.41 56.66 L923.80 56.29 L924.18 55.91 L924.56 55.54 L924.94 55.16 L925.32 54.79 L925.71 54.41 L926.09 54.04 L926.47 53.66 L926.85 53.29 L927.23 52.91 L927.62 52.54 L928.00 52.16 L928.38 51.79 L928.76 51.41 L929.14 51.04 L929.52 50.66 L929.91 50.28 L930.29 49.91 L930.67 49.53 L931.05 49.16 L931.43 48.78 L931.82 48.41 L932.20 48.03 L932.58 47.66 L932.96 47.28 L933.34 46.90 L933.73 46.53 L934.11 46.15 L934.49 45.78 L934.87 45.40 L935.25 45.03 L935.63 44.65 L936.02 44.28 L936.40 43.90 L936.78 43.52 L937.16 43.15 L937.54 42.77 L937.93 42.40 L938.31 42.02 L938.69 41.64 L939.07 41.27 L939.45 40.89 L939.84 40.52 L940.22 40.14 L940.60 39.76 L940.98 39.39 L941.36 39.01 L941.74 38.64 L942.13 38.26 L942.51 37.88 L942.89 37.51 L943.27 37.13 L943.65 36.75 L944.04 36.38 L944.42 36.00 L944.80 35.63 L945.18 35.25 L945.56 34.87 L945.94 34.50 L946.33 34.12 L946.71 33.74 L947.09 33.37 L947.47 32.99 L947.85 32.61 L948.24 32.24 L948.62 31.86 L949.00 31.49" stroke="#ff0000" stroke-width="4.9" fill="none" stroke-dasharray="15.2 15.2"/><path d="M643.50 338.00 L643.88 337.63 L644.26 337.25 L644.65 336.88 L645.03 336.51 L645.41 336.13 L645.79 335.76 L646.17 335.39 L646.55 335.01 L646.94 334.64 L647.32 334.27 L647.70 333.89 L648.08 333.52 L648.46 333.15 L648.85 332.77 L649.23 332.40 L649.61 332.03 L649.99 331.66 L650.37 331.28 L650.76 330.91 L651.14 330.54 L651.52 330.16 L651.90 329.79 L652.28 329.42 L652.66 329.04 L653.05 328.67 L653.43 328.30 L653.81 327.92 L654.19 327.55 L654.57 327.18 L654.96 326.80 L655.34 326.43 L655.72 326.06 L656.10 325.68 L656.48 325.31 L656.87 324.94 L657.25 324.57 L657.63 324.19 L658.01 323.82 L658.39 323.45 L658.77 323.07 L659.16 322.70 L659.54 322.33 L659.92 321.95 L660.30 321.58 L660.68 321.21 L661.07 320.84 L661.45 320.46 L661.83 320.09 L662.21 319.72 L662.59 319.34 L662.98 318.97 L663.36 318.60 L663.74 318.23 L664.12 317.85 L664.50 317.48 L664.88 317.11 L665.27 316.73 L665.65 316.36 L666.03 315.99 L666.41 315.62 L666.79 315.24 L667.18 314.87 L667.56 314.50 L667.94 314.12 L668.32 313.75 L668.70 313.38 L669.09 313.01 L669.47 312.63 L669.85 312.26 L670.23 311.89 L670.61 311.52 L671.00 311.14 L671.38 310.77 L671.76 310.40 L672.14 310.03 L672.52 309.65 L672.90 309.28 L673.29 308.91 L673.67 308.54 L674.05 308.16 L674.43 307.79 L674.81 307.42 L675.20 307.05 L675.58 306.68 L675.96 306.30 L676.34 305.93 L676.72 305.56 L677.11 305.19 L677.49 304.81 L677.87 304.44 L678.25 304.07 L678.63 303.70 L679.01 303.33 L679.40 302.95 L679.78 302.58 L680.16 302.21 L680.54 301.84 L680.92 301.47 L681.31 301.09 L681.69 300.72 L682.07 300.35 L682.45 299.98 L682.83 299.61 L683.22 299.24 L683.60 298.86 L683.98 298.49 L684.36 298.12 L684.74 297.75 L685.12 297.38 L685.51 297.01 L685.89 296.63 L686.27 296.26 L686.65 295.89 L687.03 295.52 L687.42 295.15 L687.80 294.78 L688.18 294.41 L688.56 294.04 L688.94 293.66 L689.33 293.29 L689.71 292.92 L690.09 292.55 L690.47 292.18 L690.85 291.81 L691.23 291.44 L691.62 291.07 L692.00 290.70 L692.38 290.33 L692.76 289.95 L693.14 289.58 L693.53 289.21 L693.91 288.84 L694.29 288.47 L694.67 288.10 L695.05 287.73 L695.43 287.36 L695.82 286.99 L696.20 286.62 L696.58 286.25 L696.96 285.88 L697.34 285.51 L697.73 285.14 L698.11 284.77 L698.49 284.40 L698.87 284.03 L699.25 283.66 L699.64 283.29 L700.02 282.92 L700.40 282.55 L700.78 282.18 L701.16 281.81 L701.54 281.44 L701.93 281.07 L702.31 280.70 L702.69 280.33 L703.07 279.96 L703.45 279.60 L703.84 279.23 L704.22 278.86 L704.60 278.49 L704.98 278.12 L705.36 277.75 L705.75 277.38 L706.13 277.01 L706.51 276.64 L706.89 276.28 L707.27 275.91 L707.65 275.54 L708.04 275.17 L708.42 274.80 L708.80 274.43 L709.18 274.07 L709.56 273.70 L709.95 273.33 L710.33 272.96 L710.71 272.59 L711.09 272.23 L711.47 271.86 L711.86 271.49 L712.24 271.12 L712.62 270.76 L713.00 270.39 L713.38 270.02 L713.76 269.66 L714.15 269.29 L714.53 268.92 L714.91 268.56 L715.29 268.19 L715.67 267.82 L716.06 267.46 L716.44 267.09 L716.82 266.72 L717.20 266.36 L717.58 265.99 L717.97 265.62 L718.35 265.26 L718.73 264.89 L719.11 264.53 L719.49 264.16 L719.88 263.80 L720.26 263.43 L720.64 263.07 L721.02 262.70 L721.40 262.34 L721.78 261.97 L722.17 261.61 L722.55 261.24 L722.93 260.88 L723.31 260.51 L723.69 260.15 L724.08 259.79 L724.46 259.42 L724.84 259.06 L725.22 258.69 L725.60 258.33 L725.99 257.97 L726.37 257.60 L726.75 257.24 L727.13 256.88 L727.51 256.52 L727.89 256.15 L728.28 255.79 L728.66 255.43 L729.04 255.07 L729.42 254.70 L729.80 254.34 L730.19 253.98 L730.57 253.62 L730.95 253.26 L731.33 252.90 L731.71 252.54 L732.10 252.18 L732.48 251.81 L732.86 251.45 L733.24 251.09 L733.62 250.73 L734.00 250.37 L734.39 250.01 L734.77 249.66 L735.15 249.30 L735.53 248.94 L735.91 248.58 L736.30 248.22 L736.68 247.86 L737.06 247.50 L737.44 247.15 L737.82 246.79 L738.21 246.43 L738.59 246.07 L738.97 245.72 L739.35 245.36 L739.73 245.00 L740.11 244.65 L740.50 244.29 L740.88 243.94 L741.26 243.58 L741.64 243.23 L742.02 242.87 L742.41 242.52 L742.79 242.16 L743.17 241.81 L743.55 241.45 L743.93 241.10 L744.32 240.75 L744.70 240.39 L745.08 240.04 L745.46 239.69 L745.84 239.34 L746.22 238.99 L746.61 238.63 L746.99 238.28 L747.37 237.93 L747.75 237.58 L748.13 237.23 L748.52 236.88 L748.90 236.53 L749.28 236.19 L749.66 235.84 L750.04 235.49 L750.42 235.14 L750.81 234.80 L751.19 234.45 L751.57 234.10 L751.95 233.76 L752.33 233.41 L752.72 233.07 L753.10 232.72 L753.48 232.38 L753.86 232.03 L754.24 231.69 L754.63 231.35 L755.01 231.01 L755.39 230.66 L755.77 230.32 L756.15 229.98 L756.53 229.64 L756.92 229.30 L757.30 228.96 L757.68 228.62 L758.06 228.29 L758.44 227.95 L758.83 227.61 L759.21 227.28 L759.59 226.94 L759.97 226.60 L760.35 226.27 L760.74 225.94 L761.12 225.60 L761.50 225.27 L761.88 224.94 L762.26 224.61 L762.64 224.28 L763.03 223.95 L763.41 223.62 L763.79 223.29 L764.17 222.96 L764.55 222.64 L764.94 222.31 L765.32 221.99 L765.70 221.66 L766.08 221.34 L766.46 221.02 L766.85 220.70 L767.23 220.38 L767.61 220.06 L767.99 219.74 L768.37 219.42 L768.75 219.10 L769.14 218.79 L769.52 218.47 L769.90 218.16 L770.28 217.84 L770.66 217.53 L771.05 217.22 L771.43 216.91 L771.81 216.60 L772.19 216.29 L772.57 215.99 L772.96 215.68 L773.34 215.38 L773.72 215.08 L774.10 214.78 L774.48 214.47 L774.87 214.18 L775.25 213.88 L775.63 213.58 L776.01 213.29 L776.39 212.99 L776.77 212.70 L777.16 212.41 L777.54 212.12 L777.92 211.83 L778.30 211.55 L778.68 211.26 L779.07 210.98 L779.45 210.70 L779.83 210.42 L780.21 210.14 L780.59 209.86 L780.98 209.59 L781.36 209.31 L781.74 209.04 L782.12 208.77 L782.50 208.50 L782.88 208.24 L783.27 207.97 L783.65 207.71 L784.03 207.45 L784.41 207.19 L784.79 206.93 L785.18 206.68 L785.56 206.42 L785.94 206.17 L786.32 205.92 L786.70 205.68 L787.09 205.43 L787.47 205.19 L787.85 204.95 L788.23 204.71 L788.61 204.47 L788.99 204.24 L789.38 204.00 L789.76 203.77 L790.14 203.55 L790.52 203.32 L790.90 203.10 L791.29 202.88 L791.67 202.66 L792.05 202.44 L792.43 202.23 L792.81 202.02 L793.19 201.81 L793.58 201.60 L793.96 201.39 L794.34 201.19 L794.72 200.99 L795.10 200.79 L795.49 200.60 L795.87 200.41 L796.25 200.22 L796.63 200.03 L797.01 199.84 L797.40 199.66 L797.78 199.48 L798.16 199.30 L798.54 199.12 L798.92 198.95 L799.31 198.78 L799.69 198.61 L800.07 198.44 L800.45 198.28 L800.83 198.11 L801.21 197.95 L801.60 197.80 L801.98 197.64 L802.36 197.49 L802.74 197.34 L803.12 197.19 L803.51 197.04 L803.89 196.90 L804.27 196.75 L804.65 196.61 L805.03 196.48 L805.41 196.34 L805.80 196.21 L806.18 196.08 L806.56 195.95 L806.94 195.82 L807.32 195.69 L807.71 195.57 L808.09 195.45 L808.47 195.33 L808.85 195.21 L809.23 195.09 L809.62 194.98 L810.00 194.87 L810.38 194.76 L810.76 194.65 L811.14 194.54 L811.52 194.44 L811.91 194.33 L812.29 194.23 L812.67 194.13 L813.05 194.03 L813.43 193.94 L813.82 193.84 L814.20 193.75 L814.58 193.65 L814.96 193.56 L815.34 193.47 L815.73 193.39 L816.11 193.30 L816.49 193.21 L816.87 193.13 L817.25 193.05 L817.63 192.97 L818.02 192.89 L818.40 192.81 L818.78 192.73 L819.16 192.66 L819.54 192.58 L819.93 192.51 L820.31 192.44 L820.69 192.36 L821.07 192.29 L821.45 192.23 L821.84 192.16 L822.22 192.09 L822.60 192.02 L822.98 191.96 L823.36 191.90 L823.75 191.83 L824.13 191.77 L824.51 191.71 L824.89 191.65 L825.27 191.59 L825.65 191.53 L826.04 191.48 L826.42 191.42 L826.80 191.37 L827.18 191.31 L827.56 191.26 L827.95 191.20 L828.33 191.15 L828.71 191.10 L829.09 191.05 L829.47 191.00 L829.86 190.95 L830.24 190.90 L830.62 190.86 L831.00 190.81 L831.38 190.76 L831.76 190.72 L832.15 190.67 L832.53 190.63 L832.91 190.58 L833.29 190.54 L833.67 190.50 L834.06 190.46 L834.44 190.42 L834.82 190.37 L835.20 190.33 L835.58 190.29 L835.97 190.26 L836.35 190.22 L836.73 190.18 L837.11 190.14 L837.49 190.11 L837.87 190.07 L838.26 190.03 L838.64 190.00 L839.02 189.96 L839.40 189.93 L839.78 189.89 L840.17 189.86 L840.55 189.83 L840.93 189.79 L841.31 189.76 L841.69 189.73 L842.08 189.70 L842.46 189.67 L842.84 189.64 L843.22 189.61 L843.60 189.58 L843.98 189.55 L844.37 189.52 L844.75 189.49 L845.13 189.46 L845.51 189.43 L845.89 189.41 L846.28 189.38 L846.66 189.35 L847.04 189.32 L847.42 189.30 L847.80 189.27 L848.18 189.25 L848.57 189.22 L848.95 189.20 L849.33 189.17 L849.71 189.15 L850.09 189.12 L850.48 189.10 L850.86 189.07 L851.24 189.05 L851.62 189.03 L852.00 189.01 L852.39 188.98 L852.77 188.96 L853.15 188.94 L853.53 188.92 L853.91 188.89 L854.30 188.87 L854.68 188.85 L855.06 188.83 L855.44 188.81 L855.82 188.79 L856.20 188.77 L856.59 188.75 L856.97 188.73 L857.35 188.71 L857.73 188.69 L858.11 188.67 L858.50 188.65 L858.88 188.63 L859.26 188.62 L859.64 188.60 L860.02 188.58 L860.40 188.56 L860.79 188.54 L861.17 188.53 L861.55 188.51 L861.93 188.49 L862.31 188.47 L862.70 188.46 L863.08 188.44 L863.46 188.42 L863.84 188.41 L864.22 188.39 L864.61 188.38 L864.99 188.36 L865.37 188.34 L865.75 188.33 L866.13 188.31 L866.51 188.30 L866.90 188.28 L867.28 188.27 L867.66 188.25 L868.04 188.24 L868.42 188.22 L868.81 188.21 L869.19 188.20 L869.57 188.18 L869.95 188.17 L870.33 188.15 L870.72 188.14 L871.10 188.13 L871.48 188.11 L871.86 188.10 L872.24 188.09 L872.62 188.07 L873.01 188.06 L873.39 188.05 L873.77 188.04 L874.15 188.02 L874.53 188.01 L874.92 188.00 L875.30 187.99 L875.68 187.97 L876.06 187.96 L876.44 187.95 L876.83 187.94 L877.21 187.93 L877.59 187.91 L877.97 187.90 L878.35 187.89 L878.74 187.88 L879.12 187.87 L879.50 187.86 L879.88 187.85 L880.26 187.84 L880.64 187.83 L881.03 187.81 L881.41 187.80 L881.79 187.79 L882.17 187.78 L882.55 187.77 L882.94 187.76 L883.32 187.75 L883.70 187.74 L884.08 187.73 L884.46 187.72 L884.85 187.71 L885.23 187.70 L885.61 187.69 L885.99 187.68 L886.37 187.67 L886.75 187.66 L887.14 187.65 L887.52 187.65 L887.90 187.64 L888.28 187.63 L888.66 187.62 L889.05 187.61 L889.43 187.60 L889.81 187.59 L890.19 187.58 L890.57 187.57 L890.96 187.56 L891.34 187.56 L891.72 187.55 L892.10 187.54 L892.48 187.53 L892.86 187.52 L893.25 187.51 L893.63 187.51 L894.01 187.50 L894.39 187.49 L894.77 187.48 L895.16 187.47 L895.54 187.47 L895.92 187.46 L896.30 187.45 L896.68 187.44 L897.07 187.43 L897.45 187.43 L897.83 187.42 L898.21 187.41 L898.59 187.40 L898.97 187.40 L899.36 187.39 L899.74 187.38 L900.12 187.38 L900.50 187.37 L900.88 187.36 L901.27 187.35 L901.65 187.35 L902.03 187.34 L902.41 187.33 L902.79 187.33 L903.17 187.32 L903.56 187.31 L903.94 187.31 L904.32 187.30 L904.70 187.29 L905.08 187.29 L905.47 187.28 L905.85 187.27 L906.23 187.27 L906.61 187.26 L906.99 187.25 L907.38 187.25 L907.76 187.24 L908.14 187.23 L908.52 187.23 L908.90 187.22 L909.29 187.22 L909.67 187.21 L910.05 187.20 L910.43 187.20 L910.81 187.19 L911.19 187.19 L911.58 187.18 L911.96 187.17 L912.34 187.17 L912.72 187.16 L913.10 187.16 L913.49 187.15 L913.87 187.15 L914.25 187.14 L914.63 187.13 L915.01 187.13 L915.39 187.12 L915.78 187.12 L916.16 187.11 L916.54 187.11 L916.92 187.10 L917.30 187.10 L917.69 187.09 L918.07 187.09 L918.45 187.08 L918.83 187.08 L919.21 187.07 L919.60 187.07 L919.98 187.06 L920.36 187.06 L920.74 187.05 L921.12 187.05 L921.50 187.04 L921.89 187.04 L922.27 187.03 L922.65 187.03 L923.03 187.02 L923.41 187.02 L923.80 187.01 L924.18 187.01 L924.56 187.00 L924.94 187.00 L925.32 186.99 L925.71 186.99 L926.09 186.98 L926.47 186.98 L926.85 186.97 L927.23 186.97 L927.62 186.97 L928.00 186.96 L928.38 186.96 L928.76 186.95 L929.14 186.95 L929.52 186.94 L929.91 186.94 L930.29 186.93 L930.67 186.93 L931.05 186.93 L931.43 186.92 L931.82 186.92 L932.20 186.91 L932.58 186.91 L932.96 186.91 L933.34 186.90 L933.73 186.90 L934.11 186.89 L934.49 186.89 L934.87 186.88 L935.25 186.88 L935.63 186.88 L936.02 186.87 L936.40 186.87 L936.78 186.86 L937.16 186.86 L937.54 186.86 L937.93 186.85 L938.31 186.85 L938.69 186.85 L939.07 186.84 L939.45 186.84 L939.84 186.83 L940.22 186.83 L940.60 186.83 L940.98 186.82 L941.36 186.82 L941.74 186.82 L942.13 186.81 L942.51 186.81 L942.89 186.81 L943.27 186.80 L943.65 186.80 L944.04 186.79 L944.42 186.79 L944.80 186.79 L945.18 186.78 L945.56 186.78 L945.94 186.78 L946.33 186.77 L946.71 186.77 L947.09 186.77 L947.47 186.76 L947.85 186.76 L948.24 186.76 L948.62 186.75 L949.00 186.75" stroke="#ff0000" stroke-width="4.9" fill="none" stroke-dasharray="15.2 15.2"/></g><path d="M643.5 33.5 L643.5 338 L949 338" fill="none" stroke="#000" stroke-width="1.2"/><path d="M643.5 338 L643.5 343.8 M719.88 338 L719.88 343.8 M796.25 338 L796.25 343.8 M872.62 338 L872.62 343.8 M949 338 L949 343.8 M658.77 338 L658.77 341 M674.05 338 L674.05 341 M689.33 338 L689.33 341 M704.6 338 L704.6 341 M735.15 338 L735.15 341 M750.42 338 L750.42 341 M765.7 338 L765.7 341 M780.98 338 L780.98 341 M811.52 338 L811.52 341 M826.8 338 L826.8 341 M842.08 338 L842.08 341 M857.35 338 L857.35 341 M887.9 338 L887.9 341 M903.17 338 L903.17 341 M918.45 338 L918.45 341 M933.73 338 L933.73 341 M643.5 338 L637.7 338 M643.5 261.88 L637.7 261.88 M643.5 185.75 L637.7 185.75 M643.5 109.62 L637.7 109.62 M643.5 33.5 L637.7 33.5 M643.5 322.77 L640.5 322.77 M643.5 307.55 L640.5 307.55 M643.5 292.32 L640.5 292.32 M643.5 277.1 L640.5 277.1 M643.5 246.65 L640.5 246.65 M643.5 231.42 L640.5 231.42 M643.5 216.2 L640.5 216.2 M643.5 200.97 L640.5 200.97 M643.5 170.52 L640.5 170.52 M643.5 155.3 L640.5 155.3 M643.5 140.07 L640.5 140.07 M643.5 124.85 L640.5 124.85 M643.5 94.4 L640.5 94.4 M643.5 79.17 L640.5 79.17 M643.5 63.95 L640.5 63.95 M643.5 48.72 L640.5 48.72" fill="none" stroke="#000" stroke-width="1.1"/><path d="M750 288.5 L787 288.5" stroke="#0000ff" stroke-width="2.4"/><path d="M750 311.6 L787 311.6" stroke="#ff0000" stroke-width="2.4" stroke-dasharray="17.8 2.4"/><clipPath id="clipd"><rect x="1055.9" y="33.8" width="304.9" height="304.8"/></clipPath><g clip-path="url(#clipd)"><path d="M1055.9 186.2 L1360.8 186.2 M1055.9 338.6 L1360.8 33.8" stroke="#787878" stroke-width="1.5" fill="none"/><path d="M1055.90 186.20 L1056.28 186.13 L1056.66 186.06 L1057.04 185.99 L1057.42 185.93 L1057.81 185.86 L1058.19 185.79 L1058.57 185.72 L1058.95 185.66 L1059.33 185.59 L1059.71 185.52 L1060.09 185.45 L1060.47 185.39 L1060.85 185.32 L1061.24 185.25 L1061.62 185.19 L1062.00 185.12 L1062.38 185.05 L1062.76 184.99 L1063.14 184.92 L1063.52 184.85 L1063.90 184.79 L1064.28 184.72 L1064.67 184.66 L1065.05 184.59 L1065.43 184.53 L1065.81 184.46 L1066.19 184.39 L1066.57 184.33 L1066.95 184.26 L1067.33 184.20 L1067.71 184.13 L1068.10 184.07 L1068.48 184.00 L1068.86 183.94 L1069.24 183.87 L1069.62 183.81 L1070.00 183.74 L1070.38 183.68 L1070.76 183.61 L1071.14 183.55 L1071.53 183.48 L1071.91 183.42 L1072.29 183.35 L1072.67 183.29 L1073.05 183.22 L1073.43 183.16 L1073.81 183.09 L1074.19 183.03 L1074.58 182.97 L1074.96 182.90 L1075.34 182.84 L1075.72 182.77 L1076.10 182.71 L1076.48 182.64 L1076.86 182.58 L1077.24 182.51 L1077.62 182.45 L1078.01 182.38 L1078.39 182.32 L1078.77 182.26 L1079.15 182.19 L1079.53 182.13 L1079.91 182.06 L1080.29 182.00 L1080.67 181.93 L1081.05 181.87 L1081.44 181.80 L1081.82 181.74 L1082.20 181.68 L1082.58 181.61 L1082.96 181.55 L1083.34 181.48 L1083.72 181.42 L1084.10 181.35 L1084.48 181.29 L1084.87 181.22 L1085.25 181.16 L1085.63 181.09 L1086.01 181.03 L1086.39 180.96 L1086.77 180.90 L1087.15 180.83 L1087.53 180.77 L1087.91 180.70 L1088.30 180.64 L1088.68 180.57 L1089.06 180.51 L1089.44 180.44 L1089.82 180.38 L1090.20 180.31 L1090.58 180.25 L1090.96 180.18 L1091.34 180.11 L1091.73 180.05 L1092.11 179.98 L1092.49 179.92 L1092.87 179.85 L1093.25 179.78 L1093.63 179.72 L1094.01 179.65 L1094.39 179.59 L1094.77 179.52 L1095.16 179.45 L1095.54 179.39 L1095.92 179.32 L1096.30 179.25 L1096.68 179.19 L1097.06 179.12 L1097.44 179.05 L1097.82 178.98 L1098.20 178.92 L1098.59 178.85 L1098.97 178.78 L1099.35 178.71 L1099.73 178.65 L1100.11 178.58 L1100.49 178.51 L1100.87 178.44 L1101.25 178.37 L1101.63 178.31 L1102.02 178.24 L1102.40 178.17 L1102.78 178.10 L1103.16 178.03 L1103.54 177.96 L1103.92 177.89 L1104.30 177.82 L1104.68 177.76 L1105.07 177.69 L1105.45 177.62 L1105.83 177.55 L1106.21 177.48 L1106.59 177.41 L1106.97 177.34 L1107.35 177.27 L1107.73 177.20 L1108.11 177.12 L1108.50 177.05 L1108.88 176.98 L1109.26 176.91 L1109.64 176.84 L1110.02 176.77 L1110.40 176.70 L1110.78 176.63 L1111.16 176.55 L1111.54 176.48 L1111.93 176.41 L1112.31 176.34 L1112.69 176.26 L1113.07 176.19 L1113.45 176.12 L1113.83 176.04 L1114.21 175.97 L1114.59 175.90 L1114.97 175.82 L1115.36 175.75 L1115.74 175.67 L1116.12 175.60 L1116.50 175.53 L1116.88 175.45 L1117.26 175.38 L1117.64 175.30 L1118.02 175.23 L1118.40 175.15 L1118.79 175.07 L1119.17 175.00 L1119.55 174.92 L1119.93 174.84 L1120.31 174.77 L1120.69 174.69 L1121.07 174.61 L1121.45 174.54 L1121.83 174.46 L1122.22 174.38 L1122.60 174.30 L1122.98 174.22 L1123.36 174.15 L1123.74 174.07 L1124.12 173.99 L1124.50 173.91 L1124.88 173.83 L1125.26 173.75 L1125.65 173.67 L1126.03 173.59 L1126.41 173.51 L1126.79 173.43 L1127.17 173.35 L1127.55 173.26 L1127.93 173.18 L1128.31 173.10 L1128.69 173.02 L1129.08 172.94 L1129.46 172.85 L1129.84 172.77 L1130.22 172.69 L1130.60 172.60 L1130.98 172.52 L1131.36 172.43 L1131.74 172.35 L1132.12 172.26 L1132.51 172.18 L1132.89 172.09 L1133.27 172.01 L1133.65 171.92 L1134.03 171.84 L1134.41 171.75 L1134.79 171.66 L1135.17 171.58 L1135.56 171.49 L1135.94 171.40 L1136.32 171.31 L1136.70 171.22 L1137.08 171.13 L1137.46 171.05 L1137.84 170.96 L1138.22 170.87 L1138.60 170.78 L1138.99 170.69 L1139.37 170.59 L1139.75 170.50 L1140.13 170.41 L1140.51 170.32 L1140.89 170.23 L1141.27 170.13 L1141.65 170.04 L1142.03 169.95 L1142.42 169.85 L1142.80 169.76 L1143.18 169.67 L1143.56 169.57 L1143.94 169.48 L1144.32 169.38 L1144.70 169.28 L1145.08 169.19 L1145.46 169.09 L1145.85 168.99 L1146.23 168.90 L1146.61 168.80 L1146.99 168.70 L1147.37 168.60 L1147.75 168.50 L1148.13 168.40 L1148.51 168.30 L1148.89 168.20 L1149.28 168.10 L1149.66 168.00 L1150.04 167.90 L1150.42 167.80 L1150.80 167.70 L1151.18 167.59 L1151.56 167.49 L1151.94 167.39 L1152.32 167.28 L1152.71 167.18 L1153.09 167.07 L1153.47 166.97 L1153.85 166.86 L1154.23 166.76 L1154.61 166.65 L1154.99 166.54 L1155.37 166.43 L1155.75 166.33 L1156.14 166.22 L1156.52 166.11 L1156.90 166.00 L1157.28 165.89 L1157.66 165.78 L1158.04 165.67 L1158.42 165.56 L1158.80 165.45 L1159.18 165.33 L1159.57 165.22 L1159.95 165.11 L1160.33 164.99 L1160.71 164.88 L1161.09 164.76 L1161.47 164.65 L1161.85 164.53 L1162.23 164.42 L1162.62 164.30 L1163.00 164.18 L1163.38 164.07 L1163.76 163.95 L1164.14 163.83 L1164.52 163.71 L1164.90 163.59 L1165.28 163.47 L1165.66 163.35 L1166.05 163.23 L1166.43 163.10 L1166.81 162.98 L1167.19 162.86 L1167.57 162.73 L1167.95 162.61 L1168.33 162.49 L1168.71 162.36 L1169.09 162.23 L1169.48 162.11 L1169.86 161.98 L1170.24 161.85 L1170.62 161.73 L1171.00 161.60 L1171.38 161.47 L1171.76 161.34 L1172.14 161.21 L1172.52 161.08 L1172.91 160.94 L1173.29 160.81 L1173.67 160.68 L1174.05 160.55 L1174.43 160.41 L1174.81 160.28 L1175.19 160.14 L1175.57 160.01 L1175.95 159.87 L1176.34 159.73 L1176.72 159.60 L1177.10 159.46 L1177.48 159.32 L1177.86 159.18 L1178.24 159.04 L1178.62 158.90 L1179.00 158.76 L1179.38 158.62 L1179.77 158.47 L1180.15 158.33 L1180.53 158.19 L1180.91 158.04 L1181.29 157.90 L1181.67 157.75 L1182.05 157.60 L1182.43 157.46 L1182.81 157.31 L1183.20 157.16 L1183.58 157.01 L1183.96 156.86 L1184.34 156.71 L1184.72 156.56 L1185.10 156.41 L1185.48 156.26 L1185.86 156.10 L1186.24 155.95 L1186.63 155.80 L1187.01 155.64 L1187.39 155.49 L1187.77 155.33 L1188.15 155.17 L1188.53 155.01 L1188.91 154.86 L1189.29 154.70 L1189.67 154.54 L1190.06 154.38 L1190.44 154.21 L1190.82 154.05 L1191.20 153.89 L1191.58 153.73 L1191.96 153.56 L1192.34 153.40 L1192.72 153.23 L1193.11 153.07 L1193.49 152.90 L1193.87 152.73 L1194.25 152.56 L1194.63 152.40 L1195.01 152.23 L1195.39 152.06 L1195.77 151.88 L1196.15 151.71 L1196.54 151.54 L1196.92 151.37 L1197.30 151.19 L1197.68 151.02 L1198.06 150.84 L1198.44 150.67 L1198.82 150.49 L1199.20 150.31 L1199.58 150.13 L1199.97 149.95 L1200.35 149.77 L1200.73 149.59 L1201.11 149.41 L1201.49 149.23 L1201.87 149.05 L1202.25 148.86 L1202.63 148.68 L1203.01 148.50 L1203.40 148.31 L1203.78 148.12 L1204.16 147.94 L1204.54 147.75 L1204.92 147.56 L1205.30 147.37 L1205.68 147.18 L1206.06 146.99 L1206.44 146.80 L1206.83 146.60 L1207.21 146.41 L1207.59 146.22 L1207.97 146.02 L1208.35 145.83 L1208.73 145.63 L1209.11 145.43 L1209.49 145.24 L1209.87 145.04 L1210.26 144.84 L1210.64 144.64 L1211.02 144.44 L1211.40 144.24 L1211.78 144.04 L1212.16 143.83 L1212.54 143.63 L1212.92 143.42 L1213.30 143.22 L1213.69 143.01 L1214.07 142.81 L1214.45 142.60 L1214.83 142.39 L1215.21 142.18 L1215.59 141.97 L1215.97 141.76 L1216.35 141.55 L1216.73 141.34 L1217.12 141.13 L1217.50 140.91 L1217.88 140.70 L1218.26 140.48 L1218.64 140.27 L1219.02 140.05 L1219.40 139.83 L1219.78 139.62 L1220.16 139.40 L1220.55 139.18 L1220.93 138.96 L1221.31 138.74 L1221.69 138.52 L1222.07 138.29 L1222.45 138.07 L1222.83 137.85 L1223.21 137.62 L1223.60 137.40 L1223.98 137.17 L1224.36 136.95 L1224.74 136.72 L1225.12 136.49 L1225.50 136.26 L1225.88 136.03 L1226.26 135.80 L1226.64 135.57 L1227.03 135.34 L1227.41 135.11 L1227.79 134.87 L1228.17 134.64 L1228.55 134.40 L1228.93 134.17 L1229.31 133.93 L1229.69 133.70 L1230.07 133.46 L1230.46 133.22 L1230.84 132.98 L1231.22 132.74 L1231.60 132.50 L1231.98 132.26 L1232.36 132.02 L1232.74 131.78 L1233.12 131.53 L1233.50 131.29 L1233.89 131.05 L1234.27 130.80 L1234.65 130.56 L1235.03 130.31 L1235.41 130.06 L1235.79 129.81 L1236.17 129.57 L1236.55 129.32 L1236.93 129.07 L1237.32 128.82 L1237.70 128.57 L1238.08 128.31 L1238.46 128.06 L1238.84 127.81 L1239.22 127.55 L1239.60 127.30 L1239.98 127.04 L1240.36 126.79 L1240.75 126.53 L1241.13 126.27 L1241.51 126.02 L1241.89 125.76 L1242.27 125.50 L1242.65 125.24 L1243.03 124.98 L1243.41 124.72 L1243.79 124.46 L1244.18 124.19 L1244.56 123.93 L1244.94 123.67 L1245.32 123.40 L1245.70 123.14 L1246.08 122.87 L1246.46 122.61 L1246.84 122.34 L1247.22 122.07 L1247.61 121.81 L1247.99 121.54 L1248.37 121.27 L1248.75 121.00 L1249.13 120.73 L1249.51 120.46 L1249.89 120.19 L1250.27 119.92 L1250.65 119.64 L1251.04 119.37 L1251.42 119.10 L1251.80 118.82 L1252.18 118.55 L1252.56 118.27 L1252.94 118.00 L1253.32 117.72 L1253.70 117.44 L1254.09 117.16 L1254.47 116.89 L1254.85 116.61 L1255.23 116.33 L1255.61 116.05 L1255.99 115.77 L1256.37 115.49 L1256.75 115.21 L1257.13 114.92 L1257.52 114.64 L1257.90 114.36 L1258.28 114.07 L1258.66 113.79 L1259.04 113.50 L1259.42 113.22 L1259.80 112.93 L1260.18 112.65 L1260.56 112.36 L1260.95 112.07 L1261.33 111.78 L1261.71 111.50 L1262.09 111.21 L1262.47 110.92 L1262.85 110.63 L1263.23 110.34 L1263.61 110.05 L1263.99 109.75 L1264.38 109.46 L1264.76 109.17 L1265.14 108.88 L1265.52 108.58 L1265.90 108.29 L1266.28 108.00 L1266.66 107.70 L1267.04 107.41 L1267.42 107.11 L1267.81 106.81 L1268.19 106.52 L1268.57 106.22 L1268.95 105.92 L1269.33 105.62 L1269.71 105.33 L1270.09 105.03 L1270.47 104.73 L1270.85 104.43 L1271.24 104.13 L1271.62 103.83 L1272.00 103.52 L1272.38 103.22 L1272.76 102.92 L1273.14 102.62 L1273.52 102.31 L1273.90 102.01 L1274.28 101.71 L1274.67 101.40 L1275.05 101.10 L1275.43 100.79 L1275.81 100.49 L1276.19 100.18 L1276.57 99.88 L1276.95 99.57 L1277.33 99.26 L1277.71 98.95 L1278.10 98.65 L1278.48 98.34 L1278.86 98.03 L1279.24 97.72 L1279.62 97.41 L1280.00 97.10 L1280.38 96.79 L1280.76 96.48 L1281.14 96.17 L1281.53 95.86 L1281.91 95.54 L1282.29 95.23 L1282.67 94.92 L1283.05 94.61 L1283.43 94.29 L1283.81 93.98 L1284.19 93.66 L1284.58 93.35 L1284.96 93.04 L1285.34 92.72 L1285.72 92.40 L1286.10 92.09 L1286.48 91.77 L1286.86 91.46 L1287.24 91.14 L1287.62 90.82 L1288.01 90.50 L1288.39 90.19 L1288.77 89.87 L1289.15 89.55 L1289.53 89.23 L1289.91 88.91 L1290.29 88.59 L1290.67 88.27 L1291.05 87.95 L1291.44 87.63 L1291.82 87.31 L1292.20 86.99 L1292.58 86.66 L1292.96 86.34 L1293.34 86.02 L1293.72 85.70 L1294.10 85.37 L1294.48 85.05 L1294.87 84.73 L1295.25 84.40 L1295.63 84.08 L1296.01 83.76 L1296.39 83.43 L1296.77 83.11 L1297.15 82.78 L1297.53 82.45 L1297.91 82.13 L1298.30 81.80 L1298.68 81.48 L1299.06 81.15 L1299.44 80.82 L1299.82 80.49 L1300.20 80.17 L1300.58 79.84 L1300.96 79.51 L1301.34 79.18 L1301.73 78.85 L1302.11 78.52 L1302.49 78.19 L1302.87 77.87 L1303.25 77.54 L1303.63 77.20 L1304.01 76.87 L1304.39 76.54 L1304.77 76.21 L1305.16 75.88 L1305.54 75.55 L1305.92 75.22 L1306.30 74.89 L1306.68 74.55 L1307.06 74.22 L1307.44 73.89 L1307.82 73.56 L1308.20 73.22 L1308.59 72.89 L1308.97 72.56 L1309.35 72.22 L1309.73 71.89 L1310.11 71.55 L1310.49 71.22 L1310.87 70.88 L1311.25 70.55 L1311.63 70.21 L1312.02 69.88 L1312.40 69.54 L1312.78 69.20 L1313.16 68.87 L1313.54 68.53 L1313.92 68.19 L1314.30 67.86 L1314.68 67.52 L1315.07 67.18 L1315.45 66.85 L1315.83 66.51 L1316.21 66.17 L1316.59 65.83 L1316.97 65.49 L1317.35 65.15 L1317.73 64.81 L1318.11 64.47 L1318.50 64.14 L1318.88 63.80 L1319.26 63.46 L1319.64 63.12 L1320.02 62.78 L1320.40 62.44 L1320.78 62.09 L1321.16 61.75 L1321.54 61.41 L1321.93 61.07 L1322.31 60.73 L1322.69 60.39 L1323.07 60.05 L1323.45 59.70 L1323.83 59.36 L1324.21 59.02 L1324.59 58.68 L1324.97 58.33 L1325.36 57.99 L1325.74 57.65 L1326.12 57.30 L1326.50 56.96 L1326.88 56.62 L1327.26 56.27 L1327.64 55.93 L1328.02 55.58 L1328.40 55.24 L1328.79 54.90 L1329.17 54.55 L1329.55 54.21 L1329.93 53.86 L1330.31 53.52 L1330.69 53.17 L1331.07 52.82 L1331.45 52.48 L1331.83 52.13 L1332.22 51.79 L1332.60 51.44 L1332.98 51.09 L1333.36 50.75 L1333.74 50.40 L1334.12 50.05 L1334.50 49.71 L1334.88 49.36 L1335.26 49.01 L1335.65 48.66 L1336.03 48.31 L1336.41 47.97 L1336.79 47.62 L1337.17 47.27 L1337.55 46.92 L1337.93 46.57 L1338.31 46.22 L1338.69 45.88 L1339.08 45.53 L1339.46 45.18 L1339.84 44.83 L1340.22 44.48 L1340.60 44.13 L1340.98 43.78 L1341.36 43.43 L1341.74 43.08 L1342.12 42.73 L1342.51 42.38 L1342.89 42.03 L1343.27 41.68 L1343.65 41.33 L1344.03 40.97 L1344.41 40.62 L1344.79 40.27 L1345.17 39.92 L1345.56 39.57 L1345.94 39.22 L1346.32 38.87 L1346.70 38.51 L1347.08 38.16 L1347.46 37.81 L1347.84 37.46 L1348.22 37.11 L1348.60 36.75 L1348.99 36.40 L1349.37 36.05 L1349.75 35.69 L1350.13 35.34 L1350.51 34.99 L1350.89 34.63 L1351.27 34.28 L1351.65 33.93 L1352.03 33.57 L1352.42 33.22 L1352.80 32.87 L1353.18 32.51 L1353.56 32.16 L1353.94 31.80 L1354.32 31.45 L1354.70 31.09 L1355.08 30.74 L1355.46 30.38 L1355.85 30.03 L1356.23 29.67 L1356.61 29.32 L1356.99 28.96 L1357.37 28.61 L1357.75 28.25 L1358.13 27.90 L1358.51 27.54 L1358.89 27.19 L1359.28 26.83 L1359.66 26.47 L1360.04 26.12 L1360.42 25.76 L1360.80 25.41 M1110.78 338.60 L1110.78 338.51 L1111.10 334.69 L1111.41 333.06 L1111.72 331.80 L1112.03 330.73 L1112.35 329.78 L1112.66 328.91 L1112.97 328.11 L1113.29 327.36 L1113.60 326.65 L1113.91 325.97 L1114.22 325.33 L1114.54 324.70 L1114.85 324.10 L1115.16 323.52 L1115.48 322.96 L1115.79 322.41 L1116.10 321.87 L1116.41 321.35 L1116.73 320.84 L1117.04 320.34 L1117.35 319.85 L1117.67 319.36 L1117.98 318.89 L1118.29 318.42 L1118.60 317.96 L1118.92 317.51 L1119.23 317.06 L1119.54 316.62 L1119.86 316.18 L1120.17 315.75 L1120.48 315.33 L1120.80 314.91 L1121.11 314.49 L1121.42 314.08 L1121.73 313.67 L1122.05 313.27 L1122.36 312.87 L1122.67 312.47 L1122.99 312.08 L1123.30 311.69 L1123.61 311.30 L1123.92 310.92 L1124.24 310.54 L1124.55 310.16 L1124.86 309.79 L1125.18 309.41 L1125.49 309.04 L1125.80 308.68 L1126.11 308.31 L1126.43 307.95 L1126.74 307.59 L1127.05 307.23 L1127.37 306.87 L1127.68 306.51 L1127.99 306.16 L1128.31 305.81 L1128.62 305.46 L1128.93 305.11 L1129.24 304.77 L1129.56 304.42 L1129.87 304.08 L1130.18 303.74 L1130.50 303.40 L1130.81 303.06 L1131.12 302.73 L1131.43 302.39 L1131.75 302.06 L1132.06 301.73 L1132.37 301.39 L1132.69 301.07 L1133.00 300.74 L1133.31 300.41 L1133.62 300.08 L1133.94 299.76 L1134.25 299.44 L1134.56 299.11 L1134.88 298.79 L1135.19 298.47 L1135.50 298.16 L1135.82 297.84 L1136.13 297.52 L1136.44 297.21 L1136.75 296.89 L1137.07 296.58 L1137.38 296.27 L1137.69 295.96 L1138.01 295.65 L1138.32 295.34 L1138.63 295.03 L1138.94 294.72 L1139.26 294.41 L1139.57 294.11 L1139.88 293.80 L1140.20 293.50 L1140.51 293.20 L1140.82 292.89 L1141.13 292.59 L1141.45 292.29 L1141.76 291.99 L1142.07 291.69 L1142.39 291.40 L1142.70 291.10 L1143.01 290.80 L1143.33 290.51 L1143.64 290.21 L1143.95 289.92 L1144.26 289.63 L1144.58 289.33 L1144.89 289.04 L1145.20 288.75 L1145.52 288.46 L1145.83 288.17 L1146.14 287.88 L1146.45 287.59 L1146.77 287.31 L1147.08 287.02 L1147.39 286.73 L1147.71 286.45 L1148.02 286.16 L1148.33 285.88 L1148.64 285.60 L1148.96 285.31 L1149.27 285.03 L1149.58 284.75 L1149.90 284.47 L1150.21 284.19 L1150.52 283.91 L1150.84 283.63 L1151.15 283.36 L1151.46 283.08 L1151.77 282.80 L1152.09 282.53 L1152.40 282.25 L1152.71 281.98 L1153.03 281.70 L1153.34 281.43 L1153.65 281.16 L1153.96 280.88 L1154.28 280.61 L1154.59 280.34 L1154.90 280.07 L1155.22 279.80 L1155.53 279.53 L1155.84 279.26 L1156.15 278.99 L1156.47 278.73 L1156.78 278.46 L1157.09 278.19 L1157.41 277.93 L1157.72 277.66 L1158.03 277.40 L1158.34 277.14 L1158.66 276.87 L1158.97 276.61 L1159.28 276.35 L1159.60 276.09 L1159.91 275.82 L1160.22 275.56 L1160.54 275.30 L1160.85 275.05 L1161.16 274.79 L1161.47 274.53 L1161.79 274.27 L1162.10 274.01 L1162.41 273.76 L1162.73 273.50 L1163.04 273.25 L1163.35 272.99 L1163.66 272.74 L1163.98 272.48 L1164.29 272.23 L1164.60 271.98 L1164.92 271.73 L1165.23 271.48 L1165.54 271.23 L1165.85 270.98 L1166.17 270.73 L1166.48 270.48 L1166.79 270.23 L1167.11 269.98 L1167.42 269.73 L1167.73 269.49 L1168.05 269.24 L1168.36 268.99 L1168.67 268.75 L1168.98 268.50 L1169.30 268.26 L1169.61 268.02 L1169.92 267.77 L1170.24 267.53 L1170.55 267.29 L1170.86 267.05 L1171.17 266.81 L1171.49 266.57 L1171.80 266.33 L1172.11 266.09 L1172.43 265.85 L1172.74 265.61 L1173.05 265.38 L1173.36 265.14 L1173.68 264.90 L1173.99 264.67 L1174.30 264.43 L1174.62 264.20 L1174.93 263.96 L1175.24 263.73 L1175.56 263.50 L1175.87 263.26 L1176.18 263.03 L1176.49 262.80 L1176.81 262.57 L1177.12 262.34 L1177.43 262.11 L1177.75 261.88 L1178.06 261.65 L1178.37 261.43 L1178.68 261.20 L1179.00 260.97 L1179.31 260.75 L1179.62 260.52 L1179.94 260.29 L1180.25 260.07 L1180.56 259.85 L1180.87 259.62 L1181.19 259.40 L1181.50 259.18 L1181.81 258.96 L1182.13 258.73 L1182.44 258.51 L1182.75 258.29 L1183.07 258.07 L1183.38 257.86 L1183.69 257.64 L1184.00 257.42 L1184.32 257.20 L1184.63 256.98 L1184.94 256.77 L1185.26 256.55 L1185.57 256.34 L1185.88 256.12 L1186.19 255.91 L1186.51 255.70 L1186.82 255.48 L1187.13 255.27 L1187.45 255.06 L1187.76 254.85 L1188.07 254.64 L1188.38 254.43 L1188.70 254.22 L1189.01 254.01 L1189.32 253.80 L1189.64 253.59 L1189.95 253.39 L1190.26 253.18 L1190.58 252.97 L1190.89 252.77 L1191.20 252.56 L1191.51 252.36 L1191.83 252.16 L1192.14 251.95 L1192.45 251.75 L1192.77 251.55 L1193.08 251.35 L1193.39 251.15 L1193.70 250.95 L1194.02 250.75 L1194.33 250.55 L1194.64 250.35 L1194.96 250.15 L1195.27 249.95 L1195.58 249.76 L1195.89 249.56 L1196.21 249.36 L1196.52 249.17 L1196.83 248.97 L1197.15 248.78 L1197.46 248.59 L1197.77 248.39 L1198.09 248.20 L1198.40 248.01 L1198.71 247.82 L1199.02 247.63 L1199.34 247.44 L1199.65 247.25 L1199.96 247.06 L1200.28 246.87 L1200.59 246.68 L1200.90 246.50 L1201.21 246.31 L1201.53 246.12 L1201.84 245.94 L1202.15 245.75 L1202.47 245.57 L1202.78 245.39 L1203.09 245.20 L1203.40 245.02 L1203.72 244.84 L1204.03 244.66 L1204.34 244.48 L1204.66 244.30 L1204.97 244.12 L1205.28 243.94 L1205.59 243.76 L1205.91 243.58 L1206.22 243.40 L1206.53 243.23 L1206.85 243.05 L1207.16 242.88 L1207.47 242.70 L1207.79 242.53 L1208.10 242.35 L1208.41 242.18 L1208.72 242.01 L1209.04 241.84 L1209.35 241.66 L1209.66 241.49 L1209.98 241.32 L1210.29 241.15 L1210.60 240.98 L1210.91 240.81 L1211.23 240.65 L1211.54 240.48 L1211.85 240.31 L1212.17 240.15 L1212.48 239.98 L1212.79 239.81 L1213.10 239.65 L1213.42 239.49 L1213.73 239.32 L1214.04 239.16 L1214.36 239.00 L1214.67 238.83 L1214.98 238.67 L1215.30 238.51 L1215.61 238.35 L1215.92 238.19 L1216.23 238.03 L1216.55 237.87 L1216.86 237.72 L1217.17 237.56 L1217.49 237.40 L1217.80 237.25 L1218.11 237.09 L1218.42 236.94 L1218.74 236.78 L1219.05 236.63 L1219.36 236.47 L1219.68 236.32 L1219.99 236.17 L1220.30 236.02 L1220.61 235.87 L1220.93 235.71 L1221.24 235.56 L1221.55 235.41 L1221.87 235.27 L1222.18 235.12 L1222.49 234.97 L1222.81 234.82 L1223.12 234.67 L1223.43 234.53 L1223.74 234.38 L1224.06 234.24 L1224.37 234.09 L1224.68 233.95 L1225.00 233.81 L1225.31 233.66 L1225.62 233.52 L1225.93 233.38 L1226.25 233.24 L1226.56 233.10 L1226.87 232.95 L1227.19 232.82 L1227.50 232.68 L1227.81 232.54 L1228.12 232.40 L1228.44 232.26 L1228.75 232.12 L1229.06 231.99 L1229.38 231.85 L1229.69 231.72 L1230.00 231.58 L1230.32 231.45 L1230.63 231.31 L1230.94 231.18 L1231.25 231.05 L1231.57 230.91 L1231.88 230.78 L1232.19 230.65 L1232.51 230.52 L1232.82 230.39 L1233.13 230.26 L1233.44 230.13 L1233.76 230.00 L1234.07 229.87 L1234.38 229.74 L1234.70 229.62 L1235.01 229.49 L1235.32 229.36 L1235.63 229.24 L1235.95 229.11 L1236.26 228.99 L1236.57 228.86 L1236.89 228.74 L1237.20 228.62 L1237.51 228.49 L1237.83 228.37 L1238.14 228.25 L1238.45 228.13 L1238.76 228.01 L1239.08 227.89 L1239.39 227.77 L1239.70 227.65 L1240.02 227.53 L1240.33 227.41 L1240.64 227.29 L1240.95 227.17 L1241.27 227.06 L1241.58 226.94 L1241.89 226.82 L1242.21 226.71 L1242.52 226.59 L1242.83 226.48 L1243.14 226.36 L1243.46 226.25 L1243.77 226.14 L1244.08 226.02 L1244.40 225.91 L1244.71 225.80 L1245.02 225.69 L1245.33 225.58 L1245.65 225.47 L1245.96 225.36 L1246.27 225.25 L1246.59 225.14 L1246.90 225.03 L1247.21 224.92 L1247.53 224.81 L1247.84 224.71 L1248.15 224.60 L1248.46 224.49 L1248.78 224.39 L1249.09 224.28 L1249.40 224.18 L1249.72 224.07 L1250.03 223.97 L1250.34 223.86 L1250.65 223.76 L1250.97 223.66 L1251.28 223.55 L1251.59 223.45 L1251.91 223.35 L1252.22 223.25 L1252.53 223.15 L1252.84 223.05 L1253.16 222.95 L1253.47 222.85 L1253.78 222.75 L1254.10 222.65 L1254.41 222.55 L1254.72 222.45 L1255.04 222.36 L1255.35 222.26 L1255.66 222.16 L1255.97 222.07 L1256.29 221.97 L1256.60 221.87 L1256.91 221.78 L1257.23 221.68 L1257.54 221.59 L1257.85 221.50 L1258.16 221.40 L1258.48 221.31 L1258.79 221.22 L1259.10 221.12 L1259.42 221.03 L1259.73 220.94 L1260.04 220.85 L1260.35 220.76 L1260.67 220.67 L1260.98 220.58 L1261.29 220.49 L1261.61 220.40 L1261.92 220.31 L1262.23 220.22 L1262.55 220.13 L1262.86 220.04 L1263.17 219.96 L1263.48 219.87 L1263.80 219.78 L1264.11 219.70 L1264.42 219.61 L1264.74 219.53 L1265.05 219.44 L1265.36 219.35 L1265.67 219.27 L1265.99 219.19 L1266.30 219.10 L1266.61 219.02 L1266.93 218.94 L1267.24 218.85 L1267.55 218.77 L1267.86 218.69 L1268.18 218.61 L1268.49 218.52 L1268.80 218.44 L1269.12 218.36 L1269.43 218.28 L1269.74 218.20 L1270.06 218.12 L1270.37 218.04 L1270.68 217.96 L1270.99 217.88 L1271.31 217.81 L1271.62 217.73 L1271.93 217.65 L1272.25 217.57 L1272.56 217.50 L1272.87 217.42 L1273.18 217.34 L1273.50 217.27 L1273.81 217.19 L1274.12 217.11 L1274.44 217.04 L1274.75 216.96 L1275.06 216.89 L1275.37 216.81 L1275.69 216.74 L1276.00 216.67 L1276.31 216.59 L1276.63 216.52 L1276.94 216.45 L1277.25 216.38 L1277.57 216.30 L1277.88 216.23 L1278.19 216.16 L1278.50 216.09 L1278.82 216.02 L1279.13 215.95 L1279.44 215.88 L1279.76 215.81 L1280.07 215.74 L1280.38 215.67 L1280.69 215.60 L1281.01 215.53 L1281.32 215.46 L1281.63 215.39 L1281.95 215.32 L1282.26 215.25 L1282.57 215.19 L1282.88 215.12 L1283.20 215.05 L1283.51 214.99 L1283.82 214.92 L1284.14 214.85 L1284.45 214.79 L1284.76 214.72 L1285.07 214.66 L1285.39 214.59 L1285.70 214.53 L1286.01 214.46 L1286.33 214.40 L1286.64 214.33 L1286.95 214.27 L1287.27 214.20 L1287.58 214.14 L1287.89 214.08 L1288.20 214.02 L1288.52 213.95 L1288.83 213.89 L1289.14 213.83 L1289.46 213.77 L1289.77 213.71 L1290.08 213.64 L1290.39 213.58 L1290.71 213.52 L1291.02 213.46 L1291.33 213.40 L1291.65 213.34 L1291.96 213.28 L1292.27 213.22 L1292.58 213.16 L1292.90 213.10 L1293.21 213.04 L1293.52 212.98 L1293.84 212.93 L1294.15 212.87 L1294.46 212.81 L1294.78 212.75 L1295.09 212.69 L1295.40 212.64 L1295.71 212.58 L1296.03 212.52 L1296.34 212.47 L1296.65 212.41 L1296.97 212.35 L1297.28 212.30 L1297.59 212.24 L1297.90 212.19 L1298.22 212.13 L1298.53 212.08 L1298.84 212.02 L1299.16 211.97 L1299.47 211.91 L1299.78 211.86 L1300.09 211.80 L1300.41 211.75 L1300.72 211.70 L1301.03 211.64 L1301.35 211.59 L1301.66 211.54 L1301.97 211.48 L1302.29 211.43 L1302.60 211.38 L1302.91 211.33 L1303.22 211.27 L1303.54 211.22 L1303.85 211.17 L1304.16 211.12 L1304.48 211.07 L1304.79 211.02 L1305.10 210.97 L1305.41 210.92 L1305.73 210.87 L1306.04 210.82 L1306.35 210.77 L1306.67 210.72 L1306.98 210.67 L1307.29 210.62 L1307.60 210.57 L1307.92 210.52 L1308.23 210.47 L1308.54 210.42 L1308.86 210.37 L1309.17 210.32 L1309.48 210.28 L1309.80 210.23 L1310.11 210.18 L1310.42 210.13 L1310.73 210.08 L1311.05 210.04 L1311.36 209.99 L1311.67 209.94 L1311.99 209.90 L1312.30 209.85 L1312.61 209.80 L1312.92 209.76 L1313.24 209.71 L1313.55 209.67 L1313.86 209.62 L1314.18 209.57 L1314.49 209.53 L1314.80 209.48 L1315.11 209.44 L1315.43 209.39 L1315.74 209.35 L1316.05 209.30 L1316.37 209.26 L1316.68 209.22 L1316.99 209.17 L1317.31 209.13 L1317.62 209.08 L1317.93 209.04 L1318.24 209.00 L1318.56 208.95 L1318.87 208.91 L1319.18 208.87 L1319.50 208.82 L1319.81 208.78 L1320.12 208.74 L1320.43 208.70 L1320.75 208.66 L1321.06 208.61 L1321.37 208.57 L1321.69 208.53 L1322.00 208.49 L1322.31 208.45 L1322.62 208.41 L1322.94 208.36 L1323.25 208.32 L1323.56 208.28 L1323.88 208.24 L1324.19 208.20 L1324.50 208.16 L1324.81 208.12 L1325.13 208.08 L1325.44 208.04 L1325.75 208.00 L1326.07 207.96 L1326.38 207.92 L1326.69 207.88 L1327.01 207.84 L1327.32 207.80 L1327.63 207.76 L1327.94 207.73 L1328.26 207.69 L1328.57 207.65 L1328.88 207.61 L1329.20 207.57 L1329.51 207.53 L1329.82 207.50 L1330.13 207.46 L1330.45 207.42 L1330.76 207.38 L1331.07 207.34 L1331.39 207.31 L1331.70 207.27 L1332.01 207.23 L1332.32 207.20 L1332.64 207.16 L1332.95 207.12 L1333.26 207.09 L1333.58 207.05 L1333.89 207.01 L1334.20 206.98 L1334.52 206.94 L1334.83 206.90 L1335.14 206.87 L1335.45 206.83 L1335.77 206.80 L1336.08 206.76 L1336.39 206.73 L1336.71 206.69 L1337.02 206.66 L1337.33 206.62 L1337.64 206.59 L1337.96 206.55 L1338.27 206.52 L1338.58 206.48 L1338.90 206.45 L1339.21 206.41 L1339.52 206.38 L1339.83 206.34 L1340.15 206.31 L1340.46 206.28 L1340.77 206.24 L1341.09 206.21 L1341.40 206.18 L1341.71 206.14 L1342.03 206.11 L1342.34 206.08 L1342.65 206.04 L1342.96 206.01 L1343.28 205.98 L1343.59 205.94 L1343.90 205.91 L1344.22 205.88 L1344.53 205.85 L1344.84 205.81 L1345.15 205.78 L1345.47 205.75 L1345.78 205.72 L1346.09 205.69 L1346.41 205.65 L1346.72 205.62 L1347.03 205.59 L1347.34 205.56 L1347.66 205.53 L1347.97 205.50 L1348.28 205.47 L1348.60 205.43 L1348.91 205.40 L1349.22 205.37 L1349.54 205.34 L1349.85 205.31 L1350.16 205.28 L1350.47 205.25 L1350.79 205.22 L1351.10 205.19 L1351.41 205.16 L1351.73 205.13 L1352.04 205.10 L1352.35 205.07 L1352.66 205.04 L1352.98 205.01 L1353.29 204.98 L1353.60 204.95 L1353.92 204.92 L1354.23 204.89 L1354.54 204.86 L1354.85 204.83 L1355.17 204.80 L1355.48 204.77 L1355.79 204.75 L1356.11 204.72 L1356.42 204.69 L1356.73 204.66 L1357.05 204.63 L1357.36 204.60 L1357.67 204.57 L1357.98 204.55 L1358.30 204.52 L1358.61 204.49 L1358.92 204.46 L1359.24 204.43 L1359.55 204.41 L1359.86 204.38 L1360.17 204.35 L1360.49 204.32 L1360.80 204.29" stroke="#0000ff" stroke-width="4.9" fill="none" stroke-linejoin="round"/><path d="M1055.90 160.87 L1056.28 160.87 L1056.66 160.87 L1057.04 160.87 L1057.42 160.87 L1057.81 160.87 L1058.19 160.87 L1058.57 160.87 L1058.95 160.87 L1059.33 160.86 L1059.71 160.86 L1060.09 160.86 L1060.47 160.86 L1060.85 160.85 L1061.24 160.85 L1061.62 160.85 L1062.00 160.84 L1062.38 160.84 L1062.76 160.84 L1063.14 160.83 L1063.52 160.83 L1063.90 160.82 L1064.28 160.82 L1064.67 160.82 L1065.05 160.81 L1065.43 160.80 L1065.81 160.80 L1066.19 160.79 L1066.57 160.79 L1066.95 160.78 L1067.33 160.78 L1067.71 160.77 L1068.10 160.76 L1068.48 160.75 L1068.86 160.75 L1069.24 160.74 L1069.62 160.73 L1070.00 160.72 L1070.38 160.72 L1070.76 160.71 L1071.14 160.70 L1071.53 160.69 L1071.91 160.68 L1072.29 160.67 L1072.67 160.66 L1073.05 160.65 L1073.43 160.64 L1073.81 160.63 L1074.19 160.62 L1074.58 160.61 L1074.96 160.60 L1075.34 160.59 L1075.72 160.58 L1076.10 160.57 L1076.48 160.55 L1076.86 160.54 L1077.24 160.53 L1077.62 160.52 L1078.01 160.51 L1078.39 160.49 L1078.77 160.48 L1079.15 160.47 L1079.53 160.45 L1079.91 160.44 L1080.29 160.42 L1080.67 160.41 L1081.05 160.40 L1081.44 160.38 L1081.82 160.37 L1082.20 160.35 L1082.58 160.33 L1082.96 160.32 L1083.34 160.30 L1083.72 160.29 L1084.10 160.27 L1084.48 160.25 L1084.87 160.24 L1085.25 160.22 L1085.63 160.20 L1086.01 160.18 L1086.39 160.17 L1086.77 160.15 L1087.15 160.13 L1087.53 160.11 L1087.91 160.09 L1088.30 160.07 L1088.68 160.05 L1089.06 160.04 L1089.44 160.02 L1089.82 160.00 L1090.20 159.97 L1090.58 159.95 L1090.96 159.93 L1091.34 159.91 L1091.73 159.89 L1092.11 159.87 L1092.49 159.85 L1092.87 159.83 L1093.25 159.80 L1093.63 159.78 L1094.01 159.76 L1094.39 159.73 L1094.77 159.71 L1095.16 159.69 L1095.54 159.66 L1095.92 159.64 L1096.30 159.62 L1096.68 159.59 L1097.06 159.57 L1097.44 159.54 L1097.82 159.51 L1098.20 159.49 L1098.59 159.46 L1098.97 159.44 L1099.35 159.41 L1099.73 159.38 L1100.11 159.36 L1100.49 159.33 L1100.87 159.30 L1101.25 159.27 L1101.63 159.25 L1102.02 159.22 L1102.40 159.19 L1102.78 159.16 L1103.16 159.13 L1103.54 159.10 L1103.92 159.07 L1104.30 159.04 L1104.68 159.01 L1105.07 158.98 L1105.45 158.95 L1105.83 158.92 L1106.21 158.89 L1106.59 158.85 L1106.97 158.82 L1107.35 158.79 L1107.73 158.76 L1108.11 158.72 L1108.50 158.69 L1108.88 158.66 L1109.26 158.62 L1109.64 158.59 L1110.02 158.55 L1110.40 158.52 L1110.78 158.48 L1111.16 158.45 L1111.54 158.41 L1111.93 158.38 L1112.31 158.34 L1112.69 158.30 L1113.07 158.27 L1113.45 158.23 L1113.83 158.19 L1114.21 158.15 L1114.59 158.11 L1114.97 158.08 L1115.36 158.04 L1115.74 158.00 L1116.12 157.96 L1116.50 157.92 L1116.88 157.88 L1117.26 157.84 L1117.64 157.80 L1118.02 157.76 L1118.40 157.71 L1118.79 157.67 L1119.17 157.63 L1119.55 157.59 L1119.93 157.54 L1120.31 157.50 L1120.69 157.46 L1121.07 157.41 L1121.45 157.37 L1121.83 157.32 L1122.22 157.28 L1122.60 157.23 L1122.98 157.19 L1123.36 157.14 L1123.74 157.10 L1124.12 157.05 L1124.50 157.00 L1124.88 156.95 L1125.26 156.91 L1125.65 156.86 L1126.03 156.81 L1126.41 156.76 L1126.79 156.71 L1127.17 156.66 L1127.55 156.61 L1127.93 156.56 L1128.31 156.51 L1128.69 156.46 L1129.08 156.41 L1129.46 156.36 L1129.84 156.30 L1130.22 156.25 L1130.60 156.20 L1130.98 156.14 L1131.36 156.09 L1131.74 156.04 L1132.12 155.98 L1132.51 155.93 L1132.89 155.87 L1133.27 155.81 L1133.65 155.76 L1134.03 155.70 L1134.41 155.64 L1134.79 155.59 L1135.17 155.53 L1135.56 155.47 L1135.94 155.41 L1136.32 155.35 L1136.70 155.29 L1137.08 155.23 L1137.46 155.17 L1137.84 155.11 L1138.22 155.05 L1138.60 154.99 L1138.99 154.93 L1139.37 154.86 L1139.75 154.80 L1140.13 154.74 L1140.51 154.67 L1140.89 154.61 L1141.27 154.54 L1141.65 154.48 L1142.03 154.41 L1142.42 154.35 L1142.80 154.28 L1143.18 154.21 L1143.56 154.14 L1143.94 154.08 L1144.32 154.01 L1144.70 153.94 L1145.08 153.87 L1145.46 153.80 L1145.85 153.73 L1146.23 153.66 L1146.61 153.59 L1146.99 153.51 L1147.37 153.44 L1147.75 153.37 L1148.13 153.29 L1148.51 153.22 L1148.89 153.15 L1149.28 153.07 L1149.66 153.00 L1150.04 152.92 L1150.42 152.84 L1150.80 152.77 L1151.18 152.69 L1151.56 152.61 L1151.94 152.53 L1152.32 152.45 L1152.71 152.37 L1153.09 152.29 L1153.47 152.21 L1153.85 152.13 L1154.23 152.05 L1154.61 151.97 L1154.99 151.89 L1155.37 151.80 L1155.75 151.72 L1156.14 151.63 L1156.52 151.55 L1156.90 151.46 L1157.28 151.38 L1157.66 151.29 L1158.04 151.20 L1158.42 151.12 L1158.80 151.03 L1159.18 150.94 L1159.57 150.85 L1159.95 150.76 L1160.33 150.67 L1160.71 150.58 L1161.09 150.49 L1161.47 150.39 L1161.85 150.30 L1162.23 150.21 L1162.62 150.11 L1163.00 150.02 L1163.38 149.92 L1163.76 149.83 L1164.14 149.73 L1164.52 149.63 L1164.90 149.53 L1165.28 149.44 L1165.66 149.34 L1166.05 149.24 L1166.43 149.14 L1166.81 149.04 L1167.19 148.93 L1167.57 148.83 L1167.95 148.73 L1168.33 148.63 L1168.71 148.52 L1169.09 148.42 L1169.48 148.31 L1169.86 148.21 L1170.24 148.10 L1170.62 147.99 L1171.00 147.88 L1171.38 147.78 L1171.76 147.67 L1172.14 147.56 L1172.52 147.45 L1172.91 147.34 L1173.29 147.22 L1173.67 147.11 L1174.05 147.00 L1174.43 146.88 L1174.81 146.77 L1175.19 146.65 L1175.57 146.54 L1175.95 146.42 L1176.34 146.30 L1176.72 146.19 L1177.10 146.07 L1177.48 145.95 L1177.86 145.83 L1178.24 145.71 L1178.62 145.59 L1179.00 145.46 L1179.38 145.34 L1179.77 145.22 L1180.15 145.09 L1180.53 144.97 L1180.91 144.84 L1181.29 144.71 L1181.67 144.59 L1182.05 144.46 L1182.43 144.33 L1182.81 144.20 L1183.20 144.07 L1183.58 143.94 L1183.96 143.81 L1184.34 143.68 L1184.72 143.54 L1185.10 143.41 L1185.48 143.27 L1185.86 143.14 L1186.24 143.00 L1186.63 142.87 L1187.01 142.73 L1187.39 142.59 L1187.77 142.45 L1188.15 142.31 L1188.53 142.17 L1188.91 142.03 L1189.29 141.89 L1189.67 141.74 L1190.06 141.60 L1190.44 141.46 L1190.82 141.31 L1191.20 141.16 L1191.58 141.02 L1191.96 140.87 L1192.34 140.72 L1192.72 140.57 L1193.11 140.42 L1193.49 140.27 L1193.87 140.12 L1194.25 139.97 L1194.63 139.81 L1195.01 139.66 L1195.39 139.51 L1195.77 139.35 L1196.15 139.19 L1196.54 139.04 L1196.92 138.88 L1197.30 138.72 L1197.68 138.56 L1198.06 138.40 L1198.44 138.24 L1198.82 138.08 L1199.20 137.92 L1199.58 137.75 L1199.97 137.59 L1200.35 137.42 L1200.73 137.26 L1201.11 137.09 L1201.49 136.92 L1201.87 136.75 L1202.25 136.59 L1202.63 136.42 L1203.01 136.24 L1203.40 136.07 L1203.78 135.90 L1204.16 135.73 L1204.54 135.55 L1204.92 135.38 L1205.30 135.20 L1205.68 135.03 L1206.06 134.85 L1206.44 134.67 L1206.83 134.49 L1207.21 134.31 L1207.59 134.13 L1207.97 133.95 L1208.35 133.77 L1208.73 133.59 L1209.11 133.40 L1209.49 133.22 L1209.87 133.03 L1210.26 132.85 L1210.64 132.66 L1211.02 132.47 L1211.40 132.28 L1211.78 132.09 L1212.16 131.90 L1212.54 131.71 L1212.92 131.52 L1213.30 131.33 L1213.69 131.14 L1214.07 130.94 L1214.45 130.75 L1214.83 130.55 L1215.21 130.35 L1215.59 130.16 L1215.97 129.96 L1216.35 129.76 L1216.73 129.56 L1217.12 129.36 L1217.50 129.16 L1217.88 128.95 L1218.26 128.75 L1218.64 128.55 L1219.02 128.34 L1219.40 128.14 L1219.78 127.93 L1220.16 127.72 L1220.55 127.52 L1220.93 127.31 L1221.31 127.10 L1221.69 126.89 L1222.07 126.68 L1222.45 126.47 L1222.83 126.25 L1223.21 126.04 L1223.60 125.83 L1223.98 125.61 L1224.36 125.40 L1224.74 125.18 L1225.12 124.96 L1225.50 124.74 L1225.88 124.53 L1226.26 124.31 L1226.64 124.09 L1227.03 123.86 L1227.41 123.64 L1227.79 123.42 L1228.17 123.20 L1228.55 122.97 L1228.93 122.75 L1229.31 122.52 L1229.69 122.30 L1230.07 122.07 L1230.46 121.84 L1230.84 121.61 L1231.22 121.38 L1231.60 121.15 L1231.98 120.92 L1232.36 120.69 L1232.74 120.46 L1233.12 120.23 L1233.50 119.99 L1233.89 119.76 L1234.27 119.52 L1234.65 119.29 L1235.03 119.05 L1235.41 118.81 L1235.79 118.57 L1236.17 118.34 L1236.55 118.10 L1236.93 117.86 L1237.32 117.61 L1237.70 117.37 L1238.08 117.13 L1238.46 116.89 L1238.84 116.64 L1239.22 116.40 L1239.60 116.15 L1239.98 115.91 L1240.36 115.66 L1240.75 115.42 L1241.13 115.17 L1241.51 114.92 L1241.89 114.67 L1242.27 114.42 L1242.65 114.17 L1243.03 113.92 L1243.41 113.67 L1243.79 113.41 L1244.18 113.16 L1244.56 112.91 L1244.94 112.65 L1245.32 112.40 L1245.70 112.14 L1246.08 111.89 L1246.46 111.63 L1246.84 111.37 L1247.22 111.11 L1247.61 110.85 L1247.99 110.59 L1248.37 110.33 L1248.75 110.07 L1249.13 109.81 L1249.51 109.55 L1249.89 109.29 L1250.27 109.02 L1250.65 108.76 L1251.04 108.50 L1251.42 108.23 L1251.80 107.96 L1252.18 107.70 L1252.56 107.43 L1252.94 107.16 L1253.32 106.90 L1253.70 106.63 L1254.09 106.36 L1254.47 106.09 L1254.85 105.82 L1255.23 105.55 L1255.61 105.28 L1255.99 105.00 L1256.37 104.73 L1256.75 104.46 L1257.13 104.18 L1257.52 103.91 L1257.90 103.63 L1258.28 103.36 L1258.66 103.08 L1259.04 102.81 L1259.42 102.53 L1259.80 102.25 L1260.18 101.97 L1260.56 101.69 L1260.95 101.42 L1261.33 101.14 L1261.71 100.86 L1262.09 100.57 L1262.47 100.29 L1262.85 100.01 L1263.23 99.73 L1263.61 99.45 L1263.99 99.16 L1264.38 98.88 L1264.76 98.59 L1265.14 98.31 L1265.52 98.02 L1265.90 97.74 L1266.28 97.45 L1266.66 97.16 L1267.04 96.88 L1267.42 96.59 L1267.81 96.30 L1268.19 96.01 L1268.57 95.72 L1268.95 95.43 L1269.33 95.14 L1269.71 94.85 L1270.09 94.56 L1270.47 94.27 L1270.85 93.98 L1271.24 93.68 L1271.62 93.39 L1272.00 93.10 L1272.38 92.80 L1272.76 92.51 L1273.14 92.22 L1273.52 91.92 L1273.90 91.62 L1274.28 91.33 L1274.67 91.03 L1275.05 90.73 L1275.43 90.44 L1275.81 90.14 L1276.19 89.84 L1276.57 89.54 L1276.95 89.24 L1277.33 88.94 L1277.71 88.64 L1278.10 88.34 L1278.48 88.04 L1278.86 87.74 L1279.24 87.44 L1279.62 87.14 L1280.00 86.84 L1280.38 86.53 L1280.76 86.23 L1281.14 85.93 L1281.53 85.62 L1281.91 85.32 L1282.29 85.01 L1282.67 84.71 L1283.05 84.40 L1283.43 84.10 L1283.81 83.79 L1284.19 83.48 L1284.58 83.18 L1284.96 82.87 L1285.34 82.56 L1285.72 82.25 L1286.10 81.94 L1286.48 81.64 L1286.86 81.33 L1287.24 81.02 L1287.62 80.71 L1288.01 80.40 L1288.39 80.09 L1288.77 79.78 L1289.15 79.46 L1289.53 79.15 L1289.91 78.84 L1290.29 78.53 L1290.67 78.22 L1291.05 77.90 L1291.44 77.59 L1291.82 77.28 L1292.20 76.96 L1292.58 76.65 L1292.96 76.33 L1293.34 76.02 L1293.72 75.70 L1294.10 75.39 L1294.48 75.07 L1294.87 74.75 L1295.25 74.44 L1295.63 74.12 L1296.01 73.80 L1296.39 73.49 L1296.77 73.17 L1297.15 72.85 L1297.53 72.53 L1297.91 72.21 L1298.30 71.89 L1298.68 71.57 L1299.06 71.26 L1299.44 70.94 L1299.82 70.62 L1300.20 70.29 L1300.58 69.97 L1300.96 69.65 L1301.34 69.33 L1301.73 69.01 L1302.11 68.69 L1302.49 68.37 L1302.87 68.04 L1303.25 67.72 L1303.63 67.40 L1304.01 67.07 L1304.39 66.75 L1304.77 66.43 L1305.16 66.10 L1305.54 65.78 L1305.92 65.45 L1306.30 65.13 L1306.68 64.80 L1307.06 64.48 L1307.44 64.15 L1307.82 63.83 L1308.20 63.50 L1308.59 63.17 L1308.97 62.85 L1309.35 62.52 L1309.73 62.19 L1310.11 61.87 L1310.49 61.54 L1310.87 61.21 L1311.25 60.88 L1311.63 60.55 L1312.02 60.23 L1312.40 59.90 L1312.78 59.57 L1313.16 59.24 L1313.54 58.91 L1313.92 58.58 L1314.30 58.25 L1314.68 57.92 L1315.07 57.59 L1315.45 57.26 L1315.83 56.93 L1316.21 56.60 L1316.59 56.26 L1316.97 55.93 L1317.35 55.60 L1317.73 55.27 L1318.11 54.94 L1318.50 54.60 L1318.88 54.27 L1319.26 53.94 L1319.64 53.61 L1320.02 53.27 L1320.40 52.94 L1320.78 52.60 L1321.16 52.27 L1321.54 51.94 L1321.93 51.60 L1322.31 51.27 L1322.69 50.93 L1323.07 50.60 L1323.45 50.26 L1323.83 49.93 L1324.21 49.59 L1324.59 49.26 L1324.97 48.92 L1325.36 48.58 L1325.74 48.25 L1326.12 47.91 L1326.50 47.57 L1326.88 47.24 L1327.26 46.90 L1327.64 46.56 L1328.02 46.23 L1328.40 45.89 L1328.79 45.55 L1329.17 45.21 L1329.55 44.87 L1329.93 44.53 L1330.31 44.20 L1330.69 43.86 L1331.07 43.52 L1331.45 43.18 L1331.83 42.84 L1332.22 42.50 L1332.60 42.16 L1332.98 41.82 L1333.36 41.48 L1333.74 41.14 L1334.12 40.80 L1334.50 40.46 L1334.88 40.12 L1335.26 39.78 L1335.65 39.44 L1336.03 39.10 L1336.41 38.76 L1336.79 38.41 L1337.17 38.07 L1337.55 37.73 L1337.93 37.39 L1338.31 37.05 L1338.69 36.70 L1339.08 36.36 L1339.46 36.02 L1339.84 35.68 L1340.22 35.33 L1340.60 34.99 L1340.98 34.65 L1341.36 34.30 L1341.74 33.96 L1342.12 33.62 L1342.51 33.27 L1342.89 32.93 L1343.27 32.58 L1343.65 32.24 L1344.03 31.90 L1344.41 31.55 L1344.79 31.21 L1345.17 30.86 L1345.56 30.52 L1345.94 30.17 L1346.32 29.83 L1346.70 29.48 L1347.08 29.14 L1347.46 28.79 L1347.84 28.44 L1348.22 28.10 L1348.60 27.75 L1348.99 27.41 L1349.37 27.06 L1349.75 26.71 L1350.13 26.37 L1350.51 26.02 L1350.89 25.67 L1351.27 25.33 L1351.65 24.98 L1352.03 24.63 L1352.42 24.28 L1352.80 23.94 L1353.18 23.59 L1353.56 23.24 L1353.94 22.89 L1354.32 22.54 L1354.70 22.20 L1355.08 21.85 L1355.46 21.50 L1355.85 21.15 L1356.23 20.80 L1356.61 20.45 L1356.99 20.10 L1357.37 19.76 L1357.75 19.41 L1358.13 19.06 L1358.51 18.71 L1358.89 18.36 L1359.28 18.01 L1359.66 17.66 L1360.04 17.31 L1360.42 16.96 L1360.80 16.61" stroke="#ff0000" stroke-width="4.9" fill="none" stroke-dasharray="15.2 15.2"/><path d="M1055.90 338.60 L1056.28 338.27 L1056.66 337.95 L1057.04 337.62 L1057.42 337.29 L1057.81 336.97 L1058.19 336.64 L1058.57 336.31 L1058.95 335.99 L1059.33 335.66 L1059.71 335.33 L1060.09 335.01 L1060.47 334.68 L1060.85 334.35 L1061.24 334.03 L1061.62 333.70 L1062.00 333.37 L1062.38 333.05 L1062.76 332.72 L1063.14 332.39 L1063.52 332.07 L1063.90 331.74 L1064.28 331.41 L1064.67 331.09 L1065.05 330.76 L1065.43 330.44 L1065.81 330.11 L1066.19 329.78 L1066.57 329.46 L1066.95 329.13 L1067.33 328.80 L1067.71 328.48 L1068.10 328.15 L1068.48 327.83 L1068.86 327.50 L1069.24 327.17 L1069.62 326.85 L1070.00 326.52 L1070.38 326.20 L1070.76 325.87 L1071.14 325.54 L1071.53 325.22 L1071.91 324.89 L1072.29 324.57 L1072.67 324.24 L1073.05 323.92 L1073.43 323.59 L1073.81 323.27 L1074.19 322.94 L1074.58 322.61 L1074.96 322.29 L1075.34 321.96 L1075.72 321.64 L1076.10 321.31 L1076.48 320.99 L1076.86 320.66 L1077.24 320.34 L1077.62 320.01 L1078.01 319.69 L1078.39 319.37 L1078.77 319.04 L1079.15 318.72 L1079.53 318.39 L1079.91 318.07 L1080.29 317.74 L1080.67 317.42 L1081.05 317.10 L1081.44 316.77 L1081.82 316.45 L1082.20 316.12 L1082.58 315.80 L1082.96 315.48 L1083.34 315.15 L1083.72 314.83 L1084.10 314.51 L1084.48 314.18 L1084.87 313.86 L1085.25 313.54 L1085.63 313.21 L1086.01 312.89 L1086.39 312.57 L1086.77 312.24 L1087.15 311.92 L1087.53 311.60 L1087.91 311.28 L1088.30 310.95 L1088.68 310.63 L1089.06 310.31 L1089.44 309.99 L1089.82 309.67 L1090.20 309.34 L1090.58 309.02 L1090.96 308.70 L1091.34 308.38 L1091.73 308.06 L1092.11 307.74 L1092.49 307.42 L1092.87 307.10 L1093.25 306.77 L1093.63 306.45 L1094.01 306.13 L1094.39 305.81 L1094.77 305.49 L1095.16 305.17 L1095.54 304.85 L1095.92 304.53 L1096.30 304.21 L1096.68 303.89 L1097.06 303.57 L1097.44 303.25 L1097.82 302.93 L1098.20 302.62 L1098.59 302.30 L1098.97 301.98 L1099.35 301.66 L1099.73 301.34 L1100.11 301.02 L1100.49 300.70 L1100.87 300.39 L1101.25 300.07 L1101.63 299.75 L1102.02 299.43 L1102.40 299.12 L1102.78 298.80 L1103.16 298.48 L1103.54 298.17 L1103.92 297.85 L1104.30 297.53 L1104.68 297.22 L1105.07 296.90 L1105.45 296.58 L1105.83 296.27 L1106.21 295.95 L1106.59 295.64 L1106.97 295.32 L1107.35 295.01 L1107.73 294.69 L1108.11 294.38 L1108.50 294.06 L1108.88 293.75 L1109.26 293.43 L1109.64 293.12 L1110.02 292.81 L1110.40 292.49 L1110.78 292.18 L1111.16 291.87 L1111.54 291.55 L1111.93 291.24 L1112.31 290.93 L1112.69 290.61 L1113.07 290.30 L1113.45 289.99 L1113.83 289.68 L1114.21 289.37 L1114.59 289.06 L1114.97 288.75 L1115.36 288.43 L1115.74 288.12 L1116.12 287.81 L1116.50 287.50 L1116.88 287.19 L1117.26 286.88 L1117.64 286.57 L1118.02 286.27 L1118.40 285.96 L1118.79 285.65 L1119.17 285.34 L1119.55 285.03 L1119.93 284.72 L1120.31 284.41 L1120.69 284.11 L1121.07 283.80 L1121.45 283.49 L1121.83 283.19 L1122.22 282.88 L1122.60 282.57 L1122.98 282.27 L1123.36 281.96 L1123.74 281.66 L1124.12 281.35 L1124.50 281.05 L1124.88 280.74 L1125.26 280.44 L1125.65 280.13 L1126.03 279.83 L1126.41 279.53 L1126.79 279.22 L1127.17 278.92 L1127.55 278.62 L1127.93 278.32 L1128.31 278.01 L1128.69 277.71 L1129.08 277.41 L1129.46 277.11 L1129.84 276.81 L1130.22 276.51 L1130.60 276.21 L1130.98 275.91 L1131.36 275.61 L1131.74 275.31 L1132.12 275.01 L1132.51 274.71 L1132.89 274.41 L1133.27 274.11 L1133.65 273.82 L1134.03 273.52 L1134.41 273.22 L1134.79 272.93 L1135.17 272.63 L1135.56 272.33 L1135.94 272.04 L1136.32 271.74 L1136.70 271.45 L1137.08 271.15 L1137.46 270.86 L1137.84 270.56 L1138.22 270.27 L1138.60 269.98 L1138.99 269.68 L1139.37 269.39 L1139.75 269.10 L1140.13 268.81 L1140.51 268.52 L1140.89 268.23 L1141.27 267.93 L1141.65 267.64 L1142.03 267.35 L1142.42 267.07 L1142.80 266.78 L1143.18 266.49 L1143.56 266.20 L1143.94 265.91 L1144.32 265.62 L1144.70 265.34 L1145.08 265.05 L1145.46 264.76 L1145.85 264.48 L1146.23 264.19 L1146.61 263.91 L1146.99 263.62 L1147.37 263.34 L1147.75 263.05 L1148.13 262.77 L1148.51 262.49 L1148.89 262.21 L1149.28 261.92 L1149.66 261.64 L1150.04 261.36 L1150.42 261.08 L1150.80 260.80 L1151.18 260.52 L1151.56 260.24 L1151.94 259.96 L1152.32 259.68 L1152.71 259.40 L1153.09 259.13 L1153.47 258.85 L1153.85 258.57 L1154.23 258.30 L1154.61 258.02 L1154.99 257.75 L1155.37 257.47 L1155.75 257.20 L1156.14 256.92 L1156.52 256.65 L1156.90 256.38 L1157.28 256.10 L1157.66 255.83 L1158.04 255.56 L1158.42 255.29 L1158.80 255.02 L1159.18 254.75 L1159.57 254.48 L1159.95 254.21 L1160.33 253.94 L1160.71 253.68 L1161.09 253.41 L1161.47 253.14 L1161.85 252.88 L1162.23 252.61 L1162.62 252.35 L1163.00 252.08 L1163.38 251.82 L1163.76 251.55 L1164.14 251.29 L1164.52 251.03 L1164.90 250.77 L1165.28 250.50 L1165.66 250.24 L1166.05 249.98 L1166.43 249.72 L1166.81 249.47 L1167.19 249.21 L1167.57 248.95 L1167.95 248.69 L1168.33 248.43 L1168.71 248.18 L1169.09 247.92 L1169.48 247.67 L1169.86 247.41 L1170.24 247.16 L1170.62 246.91 L1171.00 246.65 L1171.38 246.40 L1171.76 246.15 L1172.14 245.90 L1172.52 245.65 L1172.91 245.40 L1173.29 245.15 L1173.67 244.90 L1174.05 244.66 L1174.43 244.41 L1174.81 244.16 L1175.19 243.92 L1175.57 243.67 L1175.95 243.43 L1176.34 243.18 L1176.72 242.94 L1177.10 242.70 L1177.48 242.46 L1177.86 242.21 L1178.24 241.97 L1178.62 241.73 L1179.00 241.49 L1179.38 241.26 L1179.77 241.02 L1180.15 240.78 L1180.53 240.54 L1180.91 240.31 L1181.29 240.07 L1181.67 239.84 L1182.05 239.60 L1182.43 239.37 L1182.81 239.14 L1183.20 238.91 L1183.58 238.67 L1183.96 238.44 L1184.34 238.21 L1184.72 237.98 L1185.10 237.76 L1185.48 237.53 L1185.86 237.30 L1186.24 237.07 L1186.63 236.85 L1187.01 236.62 L1187.39 236.40 L1187.77 236.18 L1188.15 235.95 L1188.53 235.73 L1188.91 235.51 L1189.29 235.29 L1189.67 235.07 L1190.06 234.85 L1190.44 234.63 L1190.82 234.41 L1191.20 234.20 L1191.58 233.98 L1191.96 233.77 L1192.34 233.55 L1192.72 233.34 L1193.11 233.12 L1193.49 232.91 L1193.87 232.70 L1194.25 232.49 L1194.63 232.28 L1195.01 232.07 L1195.39 231.86 L1195.77 231.65 L1196.15 231.44 L1196.54 231.24 L1196.92 231.03 L1197.30 230.83 L1197.68 230.62 L1198.06 230.42 L1198.44 230.21 L1198.82 230.01 L1199.20 229.81 L1199.58 229.61 L1199.97 229.41 L1200.35 229.21 L1200.73 229.01 L1201.11 228.82 L1201.49 228.62 L1201.87 228.42 L1202.25 228.23 L1202.63 228.03 L1203.01 227.84 L1203.40 227.65 L1203.78 227.46 L1204.16 227.26 L1204.54 227.07 L1204.92 226.88 L1205.30 226.69 L1205.68 226.51 L1206.06 226.32 L1206.44 226.13 L1206.83 225.95 L1207.21 225.76 L1207.59 225.58 L1207.97 225.39 L1208.35 225.21 L1208.73 225.03 L1209.11 224.85 L1209.49 224.67 L1209.87 224.49 L1210.26 224.31 L1210.64 224.13 L1211.02 223.95 L1211.40 223.77 L1211.78 223.60 L1212.16 223.42 L1212.54 223.25 L1212.92 223.08 L1213.30 222.90 L1213.69 222.73 L1214.07 222.56 L1214.45 222.39 L1214.83 222.22 L1215.21 222.05 L1215.59 221.88 L1215.97 221.72 L1216.35 221.55 L1216.73 221.38 L1217.12 221.22 L1217.50 221.05 L1217.88 220.89 L1218.26 220.73 L1218.64 220.56 L1219.02 220.40 L1219.40 220.24 L1219.78 220.08 L1220.16 219.92 L1220.55 219.77 L1220.93 219.61 L1221.31 219.45 L1221.69 219.30 L1222.07 219.14 L1222.45 218.99 L1222.83 218.83 L1223.21 218.68 L1223.60 218.53 L1223.98 218.38 L1224.36 218.23 L1224.74 218.08 L1225.12 217.93 L1225.50 217.78 L1225.88 217.63 L1226.26 217.48 L1226.64 217.34 L1227.03 217.19 L1227.41 217.05 L1227.79 216.90 L1228.17 216.76 L1228.55 216.62 L1228.93 216.47 L1229.31 216.33 L1229.69 216.19 L1230.07 216.05 L1230.46 215.91 L1230.84 215.77 L1231.22 215.64 L1231.60 215.50 L1231.98 215.36 L1232.36 215.23 L1232.74 215.09 L1233.12 214.96 L1233.50 214.83 L1233.89 214.69 L1234.27 214.56 L1234.65 214.43 L1235.03 214.30 L1235.41 214.17 L1235.79 214.04 L1236.17 213.91 L1236.55 213.78 L1236.93 213.66 L1237.32 213.53 L1237.70 213.40 L1238.08 213.28 L1238.46 213.15 L1238.84 213.03 L1239.22 212.91 L1239.60 212.78 L1239.98 212.66 L1240.36 212.54 L1240.75 212.42 L1241.13 212.30 L1241.51 212.18 L1241.89 212.06 L1242.27 211.95 L1242.65 211.83 L1243.03 211.71 L1243.41 211.59 L1243.79 211.48 L1244.18 211.36 L1244.56 211.25 L1244.94 211.14 L1245.32 211.02 L1245.70 210.91 L1246.08 210.80 L1246.46 210.69 L1246.84 210.58 L1247.22 210.47 L1247.61 210.36 L1247.99 210.25 L1248.37 210.14 L1248.75 210.03 L1249.13 209.93 L1249.51 209.82 L1249.89 209.72 L1250.27 209.61 L1250.65 209.51 L1251.04 209.40 L1251.42 209.30 L1251.80 209.20 L1252.18 209.09 L1252.56 208.99 L1252.94 208.89 L1253.32 208.79 L1253.70 208.69 L1254.09 208.59 L1254.47 208.49 L1254.85 208.39 L1255.23 208.30 L1255.61 208.20 L1255.99 208.10 L1256.37 208.01 L1256.75 207.91 L1257.13 207.82 L1257.52 207.72 L1257.90 207.63 L1258.28 207.53 L1258.66 207.44 L1259.04 207.35 L1259.42 207.26 L1259.80 207.17 L1260.18 207.07 L1260.56 206.98 L1260.95 206.89 L1261.33 206.80 L1261.71 206.72 L1262.09 206.63 L1262.47 206.54 L1262.85 206.45 L1263.23 206.37 L1263.61 206.28 L1263.99 206.19 L1264.38 206.11 L1264.76 206.02 L1265.14 205.94 L1265.52 205.85 L1265.90 205.77 L1266.28 205.69 L1266.66 205.61 L1267.04 205.52 L1267.42 205.44 L1267.81 205.36 L1268.19 205.28 L1268.57 205.20 L1268.95 205.12 L1269.33 205.04 L1269.71 204.96 L1270.09 204.88 L1270.47 204.80 L1270.85 204.73 L1271.24 204.65 L1271.62 204.57 L1272.00 204.50 L1272.38 204.42 L1272.76 204.35 L1273.14 204.27 L1273.52 204.20 L1273.90 204.12 L1274.28 204.05 L1274.67 203.97 L1275.05 203.90 L1275.43 203.83 L1275.81 203.76 L1276.19 203.69 L1276.57 203.61 L1276.95 203.54 L1277.33 203.47 L1277.71 203.40 L1278.10 203.33 L1278.48 203.26 L1278.86 203.19 L1279.24 203.13 L1279.62 203.06 L1280.00 202.99 L1280.38 202.92 L1280.76 202.86 L1281.14 202.79 L1281.53 202.72 L1281.91 202.66 L1282.29 202.59 L1282.67 202.53 L1283.05 202.46 L1283.43 202.40 L1283.81 202.33 L1284.19 202.27 L1284.58 202.20 L1284.96 202.14 L1285.34 202.08 L1285.72 202.02 L1286.10 201.95 L1286.48 201.89 L1286.86 201.83 L1287.24 201.77 L1287.62 201.71 L1288.01 201.65 L1288.39 201.59 L1288.77 201.53 L1289.15 201.47 L1289.53 201.41 L1289.91 201.35 L1290.29 201.29 L1290.67 201.24 L1291.05 201.18 L1291.44 201.12 L1291.82 201.06 L1292.20 201.01 L1292.58 200.95 L1292.96 200.89 L1293.34 200.84 L1293.72 200.78 L1294.10 200.73 L1294.48 200.67 L1294.87 200.62 L1295.25 200.56 L1295.63 200.51 L1296.01 200.45 L1296.39 200.40 L1296.77 200.35 L1297.15 200.29 L1297.53 200.24 L1297.91 200.19 L1298.30 200.14 L1298.68 200.08 L1299.06 200.03 L1299.44 199.98 L1299.82 199.93 L1300.20 199.88 L1300.58 199.83 L1300.96 199.78 L1301.34 199.73 L1301.73 199.68 L1302.11 199.63 L1302.49 199.58 L1302.87 199.53 L1303.25 199.48 L1303.63 199.44 L1304.01 199.39 L1304.39 199.34 L1304.77 199.29 L1305.16 199.24 L1305.54 199.20 L1305.92 199.15 L1306.30 199.10 L1306.68 199.06 L1307.06 199.01 L1307.44 198.96 L1307.82 198.92 L1308.20 198.87 L1308.59 198.83 L1308.97 198.78 L1309.35 198.74 L1309.73 198.69 L1310.11 198.65 L1310.49 198.61 L1310.87 198.56 L1311.25 198.52 L1311.63 198.47 L1312.02 198.43 L1312.40 198.39 L1312.78 198.35 L1313.16 198.30 L1313.54 198.26 L1313.92 198.22 L1314.30 198.18 L1314.68 198.14 L1315.07 198.09 L1315.45 198.05 L1315.83 198.01 L1316.21 197.97 L1316.59 197.93 L1316.97 197.89 L1317.35 197.85 L1317.73 197.81 L1318.11 197.77 L1318.50 197.73 L1318.88 197.69 L1319.26 197.65 L1319.64 197.61 L1320.02 197.57 L1320.40 197.54 L1320.78 197.50 L1321.16 197.46 L1321.54 197.42 L1321.93 197.38 L1322.31 197.35 L1322.69 197.31 L1323.07 197.27 L1323.45 197.23 L1323.83 197.20 L1324.21 197.16 L1324.59 197.12 L1324.97 197.09 L1325.36 197.05 L1325.74 197.01 L1326.12 196.98 L1326.50 196.94 L1326.88 196.91 L1327.26 196.87 L1327.64 196.84 L1328.02 196.80 L1328.40 196.77 L1328.79 196.73 L1329.17 196.70 L1329.55 196.66 L1329.93 196.63 L1330.31 196.60 L1330.69 196.56 L1331.07 196.53 L1331.45 196.50 L1331.83 196.46 L1332.22 196.43 L1332.60 196.40 L1332.98 196.36 L1333.36 196.33 L1333.74 196.30 L1334.12 196.27 L1334.50 196.23 L1334.88 196.20 L1335.26 196.17 L1335.65 196.14 L1336.03 196.11 L1336.41 196.07 L1336.79 196.04 L1337.17 196.01 L1337.55 195.98 L1337.93 195.95 L1338.31 195.92 L1338.69 195.89 L1339.08 195.86 L1339.46 195.83 L1339.84 195.80 L1340.22 195.77 L1340.60 195.74 L1340.98 195.71 L1341.36 195.68 L1341.74 195.65 L1342.12 195.62 L1342.51 195.59 L1342.89 195.56 L1343.27 195.53 L1343.65 195.50 L1344.03 195.48 L1344.41 195.45 L1344.79 195.42 L1345.17 195.39 L1345.56 195.36 L1345.94 195.33 L1346.32 195.31 L1346.70 195.28 L1347.08 195.25 L1347.46 195.22 L1347.84 195.20 L1348.22 195.17 L1348.60 195.14 L1348.99 195.12 L1349.37 195.09 L1349.75 195.06 L1350.13 195.04 L1350.51 195.01 L1350.89 194.98 L1351.27 194.96 L1351.65 194.93 L1352.03 194.90 L1352.42 194.88 L1352.80 194.85 L1353.18 194.83 L1353.56 194.80 L1353.94 194.78 L1354.32 194.75 L1354.70 194.73 L1355.08 194.70 L1355.46 194.68 L1355.85 194.65 L1356.23 194.63 L1356.61 194.60 L1356.99 194.58 L1357.37 194.55 L1357.75 194.53 L1358.13 194.50 L1358.51 194.48 L1358.89 194.46 L1359.28 194.43 L1359.66 194.41 L1360.04 194.38 L1360.42 194.36 L1360.80 194.34" stroke="#ff0000" stroke-width="4.9" fill="none" stroke-dasharray="15.2 15.2"/></g><path d="M1055.9 33.8 L1055.9 338.6 L1360.8 338.6" fill="none" stroke="#000" stroke-width="1.2"/><path d="M1055.9 338.6 L1055.9 344.4 M1132.12 338.6 L1132.12 344.4 M1208.35 338.6 L1208.35 344.4 M1284.58 338.6 L1284.58 344.4 M1360.8 338.6 L1360.8 344.4 M1071.14 338.6 L1071.14 341.6 M1086.39 338.6 L1086.39 341.6 M1101.63 338.6 L1101.63 341.6 M1116.88 338.6 L1116.88 341.6 M1147.37 338.6 L1147.37 341.6 M1162.62 338.6 L1162.62 341.6 M1177.86 338.6 L1177.86 341.6 M1193.11 338.6 L1193.11 341.6 M1223.6 338.6 L1223.6 341.6 M1238.84 338.6 L1238.84 341.6 M1254.09 338.6 L1254.09 341.6 M1269.33 338.6 L1269.33 341.6 M1299.82 338.6 L1299.82 341.6 M1315.07 338.6 L1315.07 341.6 M1330.31 338.6 L1330.31 341.6 M1345.56 338.6 L1345.56 341.6 M1055.9 338.6 L1050.1 338.6 M1055.9 262.4 L1050.1 262.4 M1055.9 186.2 L1050.1 186.2 M1055.9 110 L1050.1 110 M1055.9 33.8 L1050.1 33.8 M1055.9 323.36 L1052.9 323.36 M1055.9 308.12 L1052.9 308.12 M1055.9 292.88 L1052.9 292.88 M1055.9 277.64 L1052.9 277.64 M1055.9 247.16 L1052.9 247.16 M1055.9 231.92 L1052.9 231.92 M1055.9 216.68 L1052.9 216.68 M1055.9 201.44 L1052.9 201.44 M1055.9 170.96 L1052.9 170.96 M1055.9 155.72 L1052.9 155.72 M1055.9 140.48 L1052.9 140.48 M1055.9 125.24 L1052.9 125.24 M1055.9 94.76 L1052.9 94.76 M1055.9 79.52 L1052.9 79.52 M1055.9 64.28 L1052.9 64.28 M1055.9 49.04 L1052.9 49.04" fill="none" stroke="#000" stroke-width="1.1"/><clipPath id="clipe"><rect x="1500.5" y="36" width="203.3" height="303.2"/></clipPath><g clip-path="url(#clipe)"><path d="M1500.50 339.20 L1501.51 338.44 L1502.53 337.68 L1503.54 336.93 L1504.55 336.17 L1505.57 335.41 L1506.58 334.65 L1507.59 333.89 L1508.61 333.14 L1509.62 332.38 L1510.63 331.62 L1511.65 330.86 L1512.66 330.10 L1513.68 329.35 L1514.69 328.59 L1515.70 327.83 L1516.72 327.07 L1517.73 326.31 L1518.74 325.56 L1519.76 324.80 L1520.77 324.04 L1521.78 323.28 L1522.80 322.52 L1523.81 321.77 L1524.82 321.01 L1525.84 320.25 L1526.85 319.49 L1527.86 318.73 L1528.88 317.98 L1529.89 317.22 L1530.90 316.46 L1531.92 315.70 L1532.93 314.94 L1533.95 314.19 L1534.96 313.43 L1535.97 312.67 L1536.99 311.91 L1538.00 311.15 L1539.01 310.40 L1540.03 309.64 L1541.04 308.88 L1542.05 308.12 L1543.07 307.36 L1544.08 306.61 L1545.09 305.85 L1546.11 305.09 L1547.12 304.33 L1548.13 303.57 L1549.15 302.82 L1550.16 302.06 L1551.17 301.30 L1552.19 300.54 L1553.20 299.78 L1554.22 299.03 L1555.23 298.27 L1556.24 297.51 L1557.26 296.75 L1558.27 295.99 L1559.28 295.24 L1560.30 294.48 L1561.31 293.72 L1562.32 292.96 L1563.34 292.20 L1564.35 291.45 L1565.36 290.69 L1566.38 289.93 L1567.39 289.17 L1568.40 288.41 L1569.42 287.66 L1570.43 286.90 L1571.44 286.14 L1572.46 285.38 L1573.47 284.62 L1574.49 283.87 L1575.50 283.11 L1576.51 282.35 L1577.53 281.59 L1578.54 280.83 L1579.55 280.08 L1580.57 279.32 L1581.58 278.56 L1582.59 277.80 L1583.61 277.04 L1584.62 276.29 L1585.63 275.53 L1586.65 274.77 L1587.66 274.01 L1588.67 273.25 L1589.69 272.50 L1590.70 271.74 L1591.71 270.98 L1592.73 270.22 L1593.74 269.46 L1594.76 268.71 L1595.77 267.95 L1596.78 267.19 L1597.80 266.43 L1598.81 265.67 L1599.82 264.92 L1600.84 264.16 L1601.85 263.40 L1602.86 262.64 L1603.88 261.88 L1604.89 261.13 L1605.90 260.37 L1606.92 259.61 L1607.93 258.85 L1608.94 258.09 L1609.96 257.34 L1610.97 256.58 L1611.99 255.82 L1613.00 255.06 L1614.01 254.30 L1615.03 253.55 L1616.04 252.79 L1617.05 252.03 L1618.07 251.27 L1619.08 250.51 L1620.09 249.76 L1621.11 249.00 L1622.12 248.24 L1623.13 247.48 L1624.15 246.72 L1625.16 245.97 L1626.17 245.21 L1627.19 244.45 L1628.20 243.69 L1629.21 242.93 L1630.23 242.18 L1631.24 241.42 L1632.26 240.66 L1633.27 239.90 L1634.28 239.14 L1635.30 238.39 L1636.31 237.63 L1637.32 236.87 L1638.34 236.11 L1639.35 235.35 L1640.36 234.60 L1641.38 233.84 L1642.39 233.08 L1643.40 232.32 L1644.42 231.56 L1645.43 230.81 L1646.44 230.05 L1647.46 229.29 L1648.47 228.53 L1649.48 227.77 L1650.50 227.02 L1651.51 226.26 L1652.53 225.50 L1653.54 224.74 L1654.55 223.98 L1655.57 223.23 L1656.58 222.47 L1657.59 221.71 L1658.61 220.95 L1659.62 220.19 L1660.63 219.44 L1661.65 218.68 L1662.66 217.92 L1663.67 217.16 L1664.69 216.40 L1665.70 215.65 L1666.71 214.89 L1667.73 214.13 L1668.74 213.37 L1669.75 212.61 L1670.77 211.86 L1671.78 211.10 L1672.80 210.34 L1673.81 209.58 L1674.82 208.82 L1675.84 208.07 L1676.85 207.31 L1677.86 206.55 L1678.88 205.79 L1679.89 205.03 L1680.90 204.28 L1681.92 203.52 L1682.93 202.76 L1683.94 202.00 L1684.96 201.24 L1685.97 200.49 L1686.98 199.73 L1688.00 198.97 L1689.01 198.21 L1690.02 197.45 L1691.04 196.70 L1692.05 195.94 L1693.07 195.18 L1694.08 194.42 L1695.09 193.66 L1696.11 192.91 L1697.12 192.15 L1698.13 191.39 L1699.15 190.63 L1700.16 189.87 L1701.17 189.12 L1702.19 188.36 L1703.20 187.60 L1704.21 186.84 L1705.23 186.08 L1706.24 185.33 L1707.25 184.57" stroke="#ff0000" stroke-width="4.0" fill="none"/><path d="M1500.50 339.19 L1501.51 338.44 L1502.53 337.68 L1503.54 336.93 L1504.55 336.17 L1505.57 335.41 L1506.58 334.65 L1507.59 333.89 L1508.61 333.13 L1509.62 332.37 L1510.63 331.61 L1511.65 330.85 L1512.66 330.09 L1513.68 329.33 L1514.69 328.56 L1515.70 327.80 L1516.72 327.03 L1517.73 326.27 L1518.74 325.50 L1519.76 324.73 L1520.77 323.96 L1521.78 323.19 L1522.80 322.42 L1523.81 321.65 L1524.82 320.87 L1525.84 320.10 L1526.85 319.32 L1527.86 318.54 L1528.88 317.76 L1529.89 316.98 L1530.90 316.19 L1531.92 315.41 L1532.93 314.62 L1533.95 313.83 L1534.96 313.04 L1535.97 312.24 L1536.99 311.44 L1538.00 310.64 L1539.01 309.84 L1540.03 309.04 L1541.04 308.23 L1542.05 307.42 L1543.07 306.60 L1544.08 305.79 L1545.09 304.97 L1546.11 304.14 L1547.12 303.32 L1548.13 302.49 L1549.15 301.65 L1550.16 300.81 L1551.17 299.97 L1552.19 299.12 L1553.20 298.27 L1554.22 297.42 L1555.23 296.56 L1556.24 295.69 L1557.26 294.83 L1558.27 293.95 L1559.28 293.07 L1560.30 292.19 L1561.31 291.30 L1562.32 290.40 L1563.34 289.50 L1564.35 288.59 L1565.36 287.67 L1566.38 286.75 L1567.39 285.82 L1568.40 284.88 L1569.42 283.94 L1570.43 282.99 L1571.44 282.03 L1572.46 281.06 L1573.47 280.09 L1574.49 279.10 L1575.50 278.11 L1576.51 277.10 L1577.53 276.09 L1578.54 275.07 L1579.55 274.04 L1580.57 273.00 L1581.58 271.94 L1582.59 270.88 L1583.61 269.80 L1584.62 268.72 L1585.63 267.62 L1586.65 266.51 L1587.66 265.38 L1588.67 264.25 L1589.69 263.10 L1590.70 261.94 L1591.71 260.76 L1592.73 259.57 L1593.74 258.37 L1594.76 257.15 L1595.77 255.92 L1596.78 254.67 L1597.80 253.41 L1598.81 252.14 L1599.82 250.84 L1600.84 249.54 L1601.85 248.21 L1602.86 246.88 L1603.88 245.52 L1604.89 244.15 L1605.90 242.76 L1606.92 241.36 L1607.93 239.94 L1608.94 238.51 L1609.96 237.05 L1610.97 235.58 L1611.99 234.10 L1613.00 232.60 L1614.01 231.08 L1615.03 229.54 L1616.04 227.99 L1617.05 226.41 L1618.07 224.83 L1619.08 223.22 L1620.09 221.60 L1621.11 219.96 L1622.12 218.30 L1623.13 216.63 L1624.15 214.94 L1625.16 213.23 L1626.17 211.50 L1627.19 209.76 L1628.20 208.00 L1629.21 206.22 L1630.23 204.43 L1631.24 202.62 L1632.26 200.79 L1633.27 198.94 L1634.28 197.08 L1635.30 195.20 L1636.31 193.30 L1637.32 191.38 L1638.34 189.45 L1639.35 187.50 L1640.36 185.54 L1641.38 183.55 L1642.39 181.55 L1643.40 179.54 L1644.42 177.50 L1645.43 175.45 L1646.44 173.38 L1647.46 171.30 L1648.47 169.20 L1649.48 167.08 L1650.50 164.94 L1651.51 162.79 L1652.53 160.62 L1653.54 158.44 L1654.55 156.24 L1655.57 154.02 L1656.58 151.78 L1657.59 149.53 L1658.61 147.26 L1659.62 144.98 L1660.63 142.67 L1661.65 140.36 L1662.66 138.02 L1663.67 135.67 L1664.69 133.30 L1665.70 130.92 L1666.71 128.52 L1667.73 126.10 L1668.74 123.67 L1669.75 121.22 L1670.77 118.75 L1671.78 116.27 L1672.80 113.77 L1673.81 111.26 L1674.82 108.73 L1675.84 106.18 L1676.85 103.62 L1677.86 101.04 L1678.88 98.44 L1679.89 95.83 L1680.90 93.20 L1681.92 90.56 L1682.93 87.90 L1683.94 85.22 L1684.96 82.53 L1685.97 79.82 L1686.98 77.09 L1688.00 74.35 L1689.01 71.60 L1690.02 68.82 L1691.04 66.04 L1692.05 63.23 L1693.07 60.41 L1694.08 57.58 L1695.09 54.72 L1696.11 51.86 L1697.12 48.97 L1698.13 46.07 L1699.15 43.16 L1700.16 40.22 L1701.17 37.28 L1702.19 34.31 L1703.20 31.34 L1704.21 28.34 L1705.23 25.33 L1706.24 22.30 L1707.25 19.26" stroke="#0000ff" stroke-width="4.0" fill="none"/></g><path d="M1500.5 36 L1500.5 339.2 L1703.2 339.2" fill="none" stroke="#000" stroke-width="1.2"/><path d="M1500.5 339.2 L1500.5 345 M1601.85 339.2 L1601.85 345 M1703.2 339.2 L1703.2 345 M1520.77 339.2 L1520.77 342.2 M1541.04 339.2 L1541.04 342.2 M1561.31 339.2 L1561.31 342.2 M1581.58 339.2 L1581.58 342.2 M1622.12 339.2 L1622.12 342.2 M1642.39 339.2 L1642.39 342.2 M1662.66 339.2 L1662.66 342.2 M1682.93 339.2 L1682.93 342.2 M1500.5 339.2 L1494.7 339.2 M1500.5 263.4 L1494.7 263.4 M1500.5 187.6 L1494.7 187.6 M1500.5 111.8 L1494.7 111.8 M1500.5 36 L1494.7 36 M1500.5 324.04 L1497.5 324.04 M1500.5 308.88 L1497.5 308.88 M1500.5 293.72 L1497.5 293.72 M1500.5 278.56 L1497.5 278.56 M1500.5 248.24 L1497.5 248.24 M1500.5 233.08 L1497.5 233.08 M1500.5 217.92 L1497.5 217.92 M1500.5 202.76 L1497.5 202.76 M1500.5 172.44 L1497.5 172.44 M1500.5 157.28 L1497.5 157.28 M1500.5 142.12 L1497.5 142.12 M1500.5 126.96 L1497.5 126.96 M1500.5 96.64 L1497.5 96.64 M1500.5 81.48 L1497.5 81.48 M1500.5 66.32 L1497.5 66.32 M1500.5 51.16 L1497.5 51.16" fill="none" stroke="#000" stroke-width="1.1"/><g id="laba" transform="translate(0.11,35.42) scale(0.9981,0.9986)"><text x="0" y="0" font-family="'Liberation Sans', Arial, sans-serif" font-size="42" font-weight="bold">(a)</text></g><g id="labb" transform="translate(0.07,224.88) scale(0.9786,1.0034)"><text x="0" y="0" font-family="'Liberation Sans', Arial, sans-serif" font-size="42" font-weight="bold">(b)</text></g><g id="labc" transform="translate(531.1,35.91) scale(0.9798,1.0001)"><text x="0" y="0" font-family="'Liberation Sans', Arial, sans-serif" font-size="42" font-weight="bold">(c)</text></g><g id="labd" transform="translate(998.54,35.91) scale(0.9875,1.0001)"><text x="0" y="0" font-family="'Liberation Sans', Arial, sans-serif" font-size="42" font-weight="bold">(d)</text></g><g id="labe" transform="translate(1425.59,35.91) scale(0.9834,1.0001)"><text x="0" y="0" font-family="'Liberation Sans', Arial, sans-serif" font-size="42" font-weight="bold">(e)</text></g><g id="title_a" transform="translate(186.45,20.69) scale(0.9841,0.9801)"><text x="0" y="0" font-family="'Liberation Sans', Arial, sans-serif" font-size="21.5" font-weight="normal">Spring Coupling (SpC)</text></g><g id="title_b" transform="translate(156.77,215.11) scale(0.9836,0.9969)"><text x="0" y="0" font-family="'Liberation Sans', Arial, sans-serif" font-size="21.5" font-weight="normal">Momentum Coupling (MoC)</text></g><g id="eqa_0" transform="translate(187.68,52) scale(1.0985,0.9611)"><text x="0" y="0" font-family="'Liberation Serif', 'DejaVu Serif', serif" font-size="30" font-style="italic">F</text></g><g id="eqa_1" transform="translate(204.35,55.52) scale(0.6752,0.4751)"><text x="0" y="0" font-family="'Liberation Serif', 'DejaVu Serif', serif" font-size="30" font-style="normal">SpC</text></g><g id="eqa_2" transform="translate(243.61,56.4) scale(1.4497,1.1513)"><text x="0" y="0" font-family="'Liberation Serif', 'DejaVu Serif', serif" font-size="30" font-style="normal" stroke="#fff" stroke-width="0.55">∝</text></g><g id="eqa_3" transform="translate(277.7,52) scale(1.0612,0.8805)"><text x="0" y="0" font-family="'Liberation Serif', 'DejaVu Serif', serif" font-size="30" font-style="italic">x</text></g><g id="eqa_4" transform="translate(291.83,55.72) scale(0.7614,0.6503)"><text x="0" y="0" font-family="'Liberation Serif', 'DejaVu Serif', serif" font-size="30" font-style="normal">cav</text></g><g id="eqa_5" transform="translate(326.3,53.67) scale(0.8919,0.8950)"><text x="0" y="0" font-family="'Liberation Serif', 'DejaVu Serif', serif" font-size="30" font-style="normal">,</text></g><g id="eqa_6" transform="translate(338.7,52) scale(1.0499,0.8924)"><text x="0" y="0" font-family="'Liberation Serif', 'DejaVu Serif', serif" font-size="30" font-style="italic">x</text></g><g id="eqa_7" transform="translate(353.1,55.8) scale(0.8170,0.7106)"><text x="0" y="0" font-family="'Liberation Serif', 'DejaVu Serif', serif" font-size="30" font-style="normal">mat</text></g><g id="eqb_0" transform="translate(177.72,246.99) scale(1.0744,1.0035)"><text x="0" y="0" font-family="'Liberation Serif', 'DejaVu Serif', serif" font-size="30" font-style="italic">F</text></g><g id="eqb_1" transform="translate(195.05,251.23) scale(0.6606,0.5845)"><text x="0" y="0" font-family="'Liberation Serif', 'DejaVu Serif', serif" font-size="30" font-style="normal">MoC</text></g><g id="eqb_2" transform="translate(238.62,250.63) scale(1.4646,1.2520)"><text x="0" y="0" font-family="'Liberation Serif', 'DejaVu Serif', serif" font-size="30" font-style="normal" stroke="#fff" stroke-width="0.55">∝</text></g><g id="eqb_3" transform="translate(273.14,246.5) scale(1.0945,0.9895)"><text x="0" y="0" font-family="'Liberation Serif', 'DejaVu Serif', serif" font-size="30" font-style="italic">ẋ</text></g><g id="eqb_4" transform="translate(288.18,250.74) scale(0.7975,0.7465)"><text x="0" y="0" font-family="'Liberation Serif', 'DejaVu Serif', serif" font-size="30" font-style="normal">cav</text></g><g id="eqb_5" transform="translate(324.15,247.61) scale(0.9033,0.9626)"><text x="0" y="0" font-family="'Liberation Serif', 'DejaVu Serif', serif" font-size="30" font-style="normal">,</text></g><g id="eqb_6" transform="translate(336.54,246.5) scale(1.0611,0.9882)"><text x="0" y="0" font-family="'Liberation Serif', 'DejaVu Serif', serif" font-size="30" font-style="italic">ẋ</text></g><g id="eqb_7" transform="translate(350.94,249.74) scale(0.8486,0.7447)"><text x="0" y="0" font-family="'Liberation Serif', 'DejaVu Serif', serif" font-size="30" font-style="normal">mat</text></g><g id="kcava_0" transform="translate(84.25,88.5) scale(1.1476,0.9956)"><text x="0" y="0" font-family="'Liberation Serif', 'DejaVu Serif', serif" font-size="30" font-style="italic">k</text></g><g id="kcava_1" transform="translate(99.37,92.71) scale(0.8908,0.7614)"><text x="0" y="0" font-family="'Liberation Serif', 'DejaVu Serif', serif" font-size="30" font-style="normal">cav</text></g><g id="gspca_0" transform="translate(246.29,87.49) scale(1.1234,1.0416)"><text x="0" y="0" font-family="'Liberation Serif', 'DejaVu Serif', serif" font-size="30" font-style="italic">g</text></g><g id="gspca_1" transform="translate(261.18,93.33) scale(0.8131,0.6005)"><text x="0" y="0" font-family="'Liberation Serif', 'DejaVu Serif', serif" font-size="30" font-style="normal">SpC</text></g><g id="kmata_0" transform="translate(413.68,87.5) scale(1.1795,1.0503)"><text x="0" y="0" font-family="'Liberation Serif', 'DejaVu Serif', serif" font-size="30" font-style="italic">k</text></g><g id="kmata_1" transform="translate(428.54,91.26) scale(0.9361,0.8246)"><text x="0" y="0" font-family="'Liberation Serif', 'DejaVu Serif', serif" font-size="30" font-style="normal">mat</text></g><g id="mcava_0" transform="translate(163.42,126) scale(1.1712,0.8690)"><text x="0" y="0" font-family="'Liberation Serif', 'DejaVu Serif', serif" font-size="30" font-style="italic">m</text></g><g id="mcava_1" transform="translate(187.26,130.23) scale(0.7550,0.6814)"><text x="0" y="0" font-family="'Liberation Serif', 'DejaVu Serif', serif" font-size="30" font-style="normal">cav</text></g><g id="mmata_0" transform="translate(325.04,126) scale(1.1916,0.9004)"><text x="0" y="0" font-family="'Liberation Serif', 'DejaVu Serif', serif" font-size="30" font-style="italic">m</text></g><g id="mmata_1" transform="translate(350,130.27) scale(0.8428,0.7350)"><text x="0" y="0" font-family="'Liberation Serif', 'DejaVu Serif', serif" font-size="30" font-style="normal">mat</text></g><g id="kcavb_0" transform="translate(82.22,273) scale(1.1600,1.0022)"><text x="0" y="0" font-family="'Liberation Serif', 'DejaVu Serif', serif" font-size="30" font-style="italic">k</text></g><g id="kcavb_1" transform="translate(97.83,278.71) scale(0.8771,0.7693)"><text x="0" y="0" font-family="'Liberation Serif', 'DejaVu Serif', serif" font-size="30" font-style="normal">cav</text></g><g id="gmocb_0" transform="translate(246.38,291) scale(1.0240,0.9929)"><text x="0" y="0" font-family="'Liberation Serif', 'DejaVu Serif', serif" font-size="30" font-style="italic">g</text></g><g id="gmocb_1" transform="translate(260.91,297.32) scale(0.7114,0.6380)"><text x="0" y="0" font-family="'Liberation Serif', 'DejaVu Serif', serif" font-size="30" font-style="normal">MoC</text></g><g id="kmatb_0" transform="translate(413.31,272.51) scale(1.2022,1.0360)"><text x="0" y="0" font-family="'Liberation Serif', 'DejaVu Serif', serif" font-size="30" font-style="italic">k</text></g><g id="kmatb_1" transform="translate(428.51,276.77) scale(0.9365,0.8010)"><text x="0" y="0" font-family="'Liberation Serif', 'DejaVu Serif', serif" font-size="30" font-style="normal">mat</text></g><g id="mcavb_0" transform="translate(165.58,308) scale(1.1889,0.9112)"><text x="0" y="0" font-family="'Liberation Serif', 'DejaVu Serif', serif" font-size="30" font-style="italic">m</text></g><g id="mcavb_1" transform="translate(189.98,311.72) scale(0.7704,0.6996)"><text x="0" y="0" font-family="'Liberation Serif', 'DejaVu Serif', serif" font-size="30" font-style="normal">cav</text></g><g id="mmatb_0" transform="translate(325.39,308) scale(1.1906,0.9270)"><text x="0" y="0" font-family="'Liberation Serif', 'DejaVu Serif', serif" font-size="30" font-style="italic">m</text></g><g id="mmatb_1" transform="translate(350.66,312.22) scale(0.8547,0.7384)"><text x="0" y="0" font-family="'Liberation Serif', 'DejaVu Serif', serif" font-size="30" font-style="normal">mat</text></g><g id="annc_0" transform="translate(670.77,77.27) scale(1.1345,1.1139)"><text x="0" y="0" font-family="'Liberation Serif', 'DejaVu Serif', serif" font-size="30" font-style="italic">g</text></g><g id="annc_1" transform="translate(696.12,80.13) scale(1.6761,1.1460)"><text x="0" y="0" font-family="'Liberation Serif', 'DejaVu Serif', serif" font-size="30" font-style="normal">=</text></g><g id="annc_2" transform="translate(732.81,77.02) scale(1.1562,1.1697)"><text x="0" y="0" font-family="'Liberation Serif', 'DejaVu Serif', serif" font-size="30" font-style="normal">0.1</text></g><g id="annc_3" transform="translate(775.45,77.65) scale(1.1246,1.0978)"><text x="0" y="0" font-family="'Liberation Serif', 'DejaVu Serif', serif" font-size="30" font-style="italic">ω</text></g><g id="annc_4" transform="translate(797.78,82.23) scale(1.0139,0.8893)"><text x="0" y="0" font-family="'Liberation Serif', 'DejaVu Serif', serif" font-size="30" font-style="normal">mat</text></g><g id="annd_0" transform="translate(1072.21,78.46) scale(1.1220,1.1062)"><text x="0" y="0" font-family="'Liberation Serif', 'DejaVu Serif', serif" font-size="30" font-style="italic">g</text></g><g id="annd_1" transform="translate(1097.35,82.13) scale(1.6367,1.1460)"><text x="0" y="0" font-family="'Liberation Serif', 'DejaVu Serif', serif" font-size="30" font-style="normal">=</text></g><g id="annd_2" transform="translate(1133.33,79.02) scale(1.1506,1.1711)"><text x="0" y="0" font-family="'Liberation Serif', 'DejaVu Serif', serif" font-size="30" font-style="normal">0.3</text></g><g id="annd_3" transform="translate(1175.47,79.67) scale(1.0724,1.0752)"><text x="0" y="0" font-family="'Liberation Serif', 'DejaVu Serif', serif" font-size="30" font-style="italic">ω</text></g><g id="annd_4" transform="translate(1197.36,84.2) scale(0.9838,0.8583)"><text x="0" y="0" font-family="'Liberation Serif', 'DejaVu Serif', serif" font-size="30" font-style="normal">mat</text></g><g id="leg1" transform="translate(795.1,298.35) scale(1.0609,0.9924)"><text x="0" y="0" font-family="'Liberation Sans', Arial, sans-serif" font-size="20" font-weight="normal">SpC model</text></g><g id="leg2" transform="translate(794.04,320.3) scale(1.0595,0.9464)"><text x="0" y="0" font-family="'Liberation Sans', Arial, sans-serif" font-size="20" font-weight="normal">MoC model</text></g><g id="xlc_0" transform="translate(723.54,412.67) scale(1.0007,1.0241)"><text x="0" y="0" font-family="'Liberation Serif', 'DejaVu Serif', serif" font-size="30" font-style="italic">ω</text></g><g id="xlc_1" transform="translate(743.16,417.22) scale(0.8391,0.7705)"><text x="0" y="0" font-family="'Liberation Serif', 'DejaVu Serif', serif" font-size="30" font-style="normal">cav</text></g><g id="xlc_2" transform="translate(780.35,419.12) scale(1.5169,1.4788)"><text x="0" y="0" font-family="'Liberation Serif', 'DejaVu Serif', serif" font-size="30" font-style="normal">/</text></g><g id="xlc_3" transform="translate(792.58,412.67) scale(1.0154,1.0386)"><text x="0" y="0" font-family="'Liberation Serif', 'DejaVu Serif', serif" font-size="30" font-style="italic">ω</text></g><g id="xlc_4" transform="translate(812.44,417.28) scale(0.9004,0.7741)"><text x="0" y="0" font-family="'Liberation Serif', 'DejaVu Serif', serif" font-size="30" font-style="normal">mat</text></g><g id="xld_0" transform="translate(1142.52,413.67) scale(1.0032,0.9836)"><text x="0" y="0" font-family="'Liberation Serif', 'DejaVu Serif', serif" font-size="30" font-style="italic">ω</text></g><g id="xld_1" transform="translate(1161.84,418.23) scale(0.8240,0.7323)"><text x="0" y="0" font-family="'Liberation Serif', 'DejaVu Serif', serif" font-size="30" font-style="normal">cav</text></g><g id="xld_2" transform="translate(1198.06,423.61) scale(1.6396,1.6418)"><text x="0" y="0" font-family="'Liberation Serif', 'DejaVu Serif', serif" font-size="30" font-style="normal">/</text></g><g id="xld_3" transform="translate(1211.48,413.67) scale(1.0035,0.9873)"><text x="0" y="0" font-family="'Liberation Serif', 'DejaVu Serif', serif" font-size="30" font-style="italic">ω</text></g><g id="xld_4" transform="translate(1231.15,418.22) scale(0.8933,0.7577)"><text x="0" y="0" font-family="'Liberation Serif', 'DejaVu Serif', serif" font-size="30" font-style="normal">mat</text></g><g id="xle_0" transform="translate(1551.69,413.63) scale(0.9796,0.9570)"><text x="0" y="0" font-family="'Liberation Serif', 'DejaVu Serif', serif" font-size="30" font-style="italic">g</text></g><g id="xle_1" transform="translate(1566.96,423.61) scale(1.6161,1.6418)"><text x="0" y="0" font-family="'Liberation Serif', 'DejaVu Serif', serif" font-size="30" font-style="normal">/</text></g><g id="xle_2" transform="translate(1580.67,413.69) scale(0.9490,0.9706)"><text x="0" y="0" font-family="'Liberation Serif', 'DejaVu Serif', serif" font-size="30" font-style="italic">ω</text></g><g id="xle_3" transform="translate(1599.34,418.24) scale(0.8790,0.7500)"><text x="0" y="0" font-family="'Liberation Serif', 'DejaVu Serif', serif" font-size="30" font-style="normal">mat</text></g><g id="ylc_0" transform="translate(571.18,230.83) rotate(-90) scale(0.9406,1.0026)"><text x="0" y="0" font-family="'Liberation Serif', 'DejaVu Serif', serif" font-size="30" font-style="italic">ω</text></g><g id="ylc_1" transform="translate(575,211.12) rotate(-90) scale(1.1799,0.9122)"><text x="0" y="0" font-family="'Liberation Serif', 'DejaVu Serif', serif" font-size="30" font-style="normal">±</text></g><g id="ylc_2" transform="translate(577.73,188.64) rotate(-90) scale(1.4057,1.5791)"><text x="0" y="0" font-family="'Liberation Serif', 'DejaVu Serif', serif" font-size="30" font-style="normal">/</text></g><g id="ylc_3" transform="translate(570.24,174.87) rotate(-90) scale(0.9747,0.9538)"><text x="0" y="0" font-family="'Liberation Serif', 'DejaVu Serif', serif" font-size="30" font-style="italic">ω</text></g><g id="ylc_4" transform="translate(576.49,150.98) rotate(-90) scale(0.8552,0.6828)"><text x="0" y="0" font-family="'Liberation Serif', 'DejaVu Serif', serif" font-size="30" font-style="normal">mat</text></g><g id="yle_0" transform="translate(1462,248.42) rotate(-90) scale(0.8651,0.9681)"><text x="0" y="0" font-family="'Liberation Serif', 'DejaVu Serif', serif" font-size="30" font-style="normal">Ω</text></g><g id="yle_1" transform="translate(1448.5,229.27) rotate(-90) scale(0.7396,0.5455)"><text x="0" y="0" font-family="'Liberation Serif', 'DejaVu Serif', serif" font-size="30" font-style="normal">min</text></g><g id="yle_2" transform="translate(1466.84,192.62) rotate(-90) scale(1.4472,1.2403)"><text x="0" y="0" font-family="'Liberation Serif', 'DejaVu Serif', serif" font-size="30" font-style="normal">/</text></g><g id="yle_3" transform="translate(1461.92,181.44) rotate(-90) scale(0.7950,0.8301)"><text x="0" y="0" font-family="'Liberation Serif', 'DejaVu Serif', serif" font-size="30" font-style="italic">ω</text></g><g id="yle_4" transform="translate(1464.07,164.35) rotate(-90) scale(0.8076,0.6482)"><text x="0" y="0" font-family="'Liberation Serif', 'DejaVu Serif', serif" font-size="30" font-style="normal">mat</text></g><g id="cy2.0" transform="translate(587.71,47.18) scale(1.0000,1.0000)"><text x="0" y="0" font-family="'Liberation Sans', Arial, sans-serif" font-size="30.8" font-weight="normal">2.0</text></g><g id="cy1.5" transform="translate(588.37,121.3) scale(1.0000,1.0000)"><text x="0" y="0" font-family="'Liberation Sans', Arial, sans-serif" font-size="30.8" font-weight="normal">1.5</text></g><g id="cy1.0" transform="translate(588.74,197.36) scale(1.0000,1.0000)"><text x="0" y="0" font-family="'Liberation Sans', Arial, sans-serif" font-size="30.8" font-weight="normal">1.0</text></g><g id="cy0.5" transform="translate(588.66,269.9) scale(1.0000,1.0000)"><text x="0" y="0" font-family="'Liberation Sans', Arial, sans-serif" font-size="30.8" font-weight="normal">0.5</text></g><g id="cy0.0" transform="translate(588.82,348.43) scale(1.0000,1.0000)"><text x="0" y="0" font-family="'Liberation Sans', Arial, sans-serif" font-size="30.8" font-weight="normal">0.0</text></g><g id="cx0.0" transform="translate(620.36,376.18) scale(1.0000,1.0000)"><text x="0" y="0" font-family="'Liberation Sans', Arial, sans-serif" font-size="30.8" font-weight="normal">0.0</text></g><g id="cx0.5" transform="translate(693.67,377.09) scale(1.0000,1.0000)"><text x="0" y="0" font-family="'Liberation Sans', Arial, sans-serif" font-size="30.8" font-weight="normal">0.5</text></g><g id="cx1.0" transform="translate(767.98,377.09) scale(1.0000,1.0000)"><text x="0" y="0" font-family="'Liberation Sans', Arial, sans-serif" font-size="30.8" font-weight="normal">1.0</text></g><g id="cx1.5" transform="translate(844.06,376.56) scale(1.0000,1.0000)"><text x="0" y="0" font-family="'Liberation Sans', Arial, sans-serif" font-size="30.8" font-weight="normal">1.5</text></g><g id="cx2.0" transform="translate(919,376.16) scale(1.0000,1.0000)"><text x="0" y="0" font-family="'Liberation Sans', Arial, sans-serif" font-size="30.8" font-weight="normal">2.0</text></g><g id="dx0.0" transform="translate(1038.36,376.68) scale(1.0000,1.0000)"><text x="0" y="0" font-family="'Liberation Sans', Arial, sans-serif" font-size="30.8" font-weight="normal">0.0</text></g><g id="dx0.5" transform="translate(1111.44,376.54) scale(1.0000,1.0000)"><text x="0" y="0" font-family="'Liberation Sans', Arial, sans-serif" font-size="30.8" font-weight="normal">0.5</text></g><g id="dx1.0" transform="translate(1185.9,376.57) scale(1.0000,1.0000)"><text x="0" y="0" font-family="'Liberation Sans', Arial, sans-serif" font-size="30.8" font-weight="normal">1.0</text></g><g id="dx1.5" transform="translate(1262.19,377.05) scale(1.0000,1.0000)"><text x="0" y="0" font-family="'Liberation Sans', Arial, sans-serif" font-size="30.8" font-weight="normal">1.5</text></g><g id="dx2.0" transform="translate(1337,376.66) scale(1.0000,1.0000)"><text x="0" y="0" font-family="'Liberation Sans', Arial, sans-serif" font-size="30.8" font-weight="normal">2.0</text></g><g id="ex0.0" transform="translate(1477.36,376.18) scale(1.0000,1.0000)"><text x="0" y="0" font-family="'Liberation Sans', Arial, sans-serif" font-size="30.8" font-weight="normal">0.0</text></g><g id="ex0.5" transform="translate(1583.44,377.04) scale(1.0000,1.0000)"><text x="0" y="0" font-family="'Liberation Sans', Arial, sans-serif" font-size="30.8" font-weight="normal">0.5</text></g><g id="ex1.0" transform="translate(1682.04,376.14) scale(1.0000,1.0000)"><text x="0" y="0" font-family="'Liberation Sans', Arial, sans-serif" font-size="30.8" font-weight="normal">1.0</text></g><g id="ey4" transform="translate(1473.43,50.67) scale(1.0000,1.0000)"><text x="0" y="0" font-family="'Liberation Sans', Arial, sans-serif" font-size="30.8" font-weight="normal">4</text></g><g id="ey3" transform="translate(1473.92,126.75) scale(1.0000,1.0000)"><text x="0" y="0" font-family="'Liberation Sans', Arial, sans-serif" font-size="30.8" font-weight="normal">3</text></g><g id="ey2" transform="translate(1473.41,200.19) scale(1.0000,1.0000)"><text x="0" y="0" font-family="'Liberation Sans', Arial, sans-serif" font-size="30.8" font-weight="normal">2</text></g><g id="ey1" transform="translate(1474.1,277.17) scale(1.0000,1.0000)"><text x="0" y="0" font-family="'Liberation Sans', Arial, sans-serif" font-size="30.8" font-weight="normal">1</text></g><g id="ey0" transform="translate(1473.82,353.4) scale(1.0000,1.0000)"><text x="0" y="0" font-family="'Liberation Sans', Arial, sans-serif" font-size="30.8" font-weight="normal">0</text></g></svg></body></html>
